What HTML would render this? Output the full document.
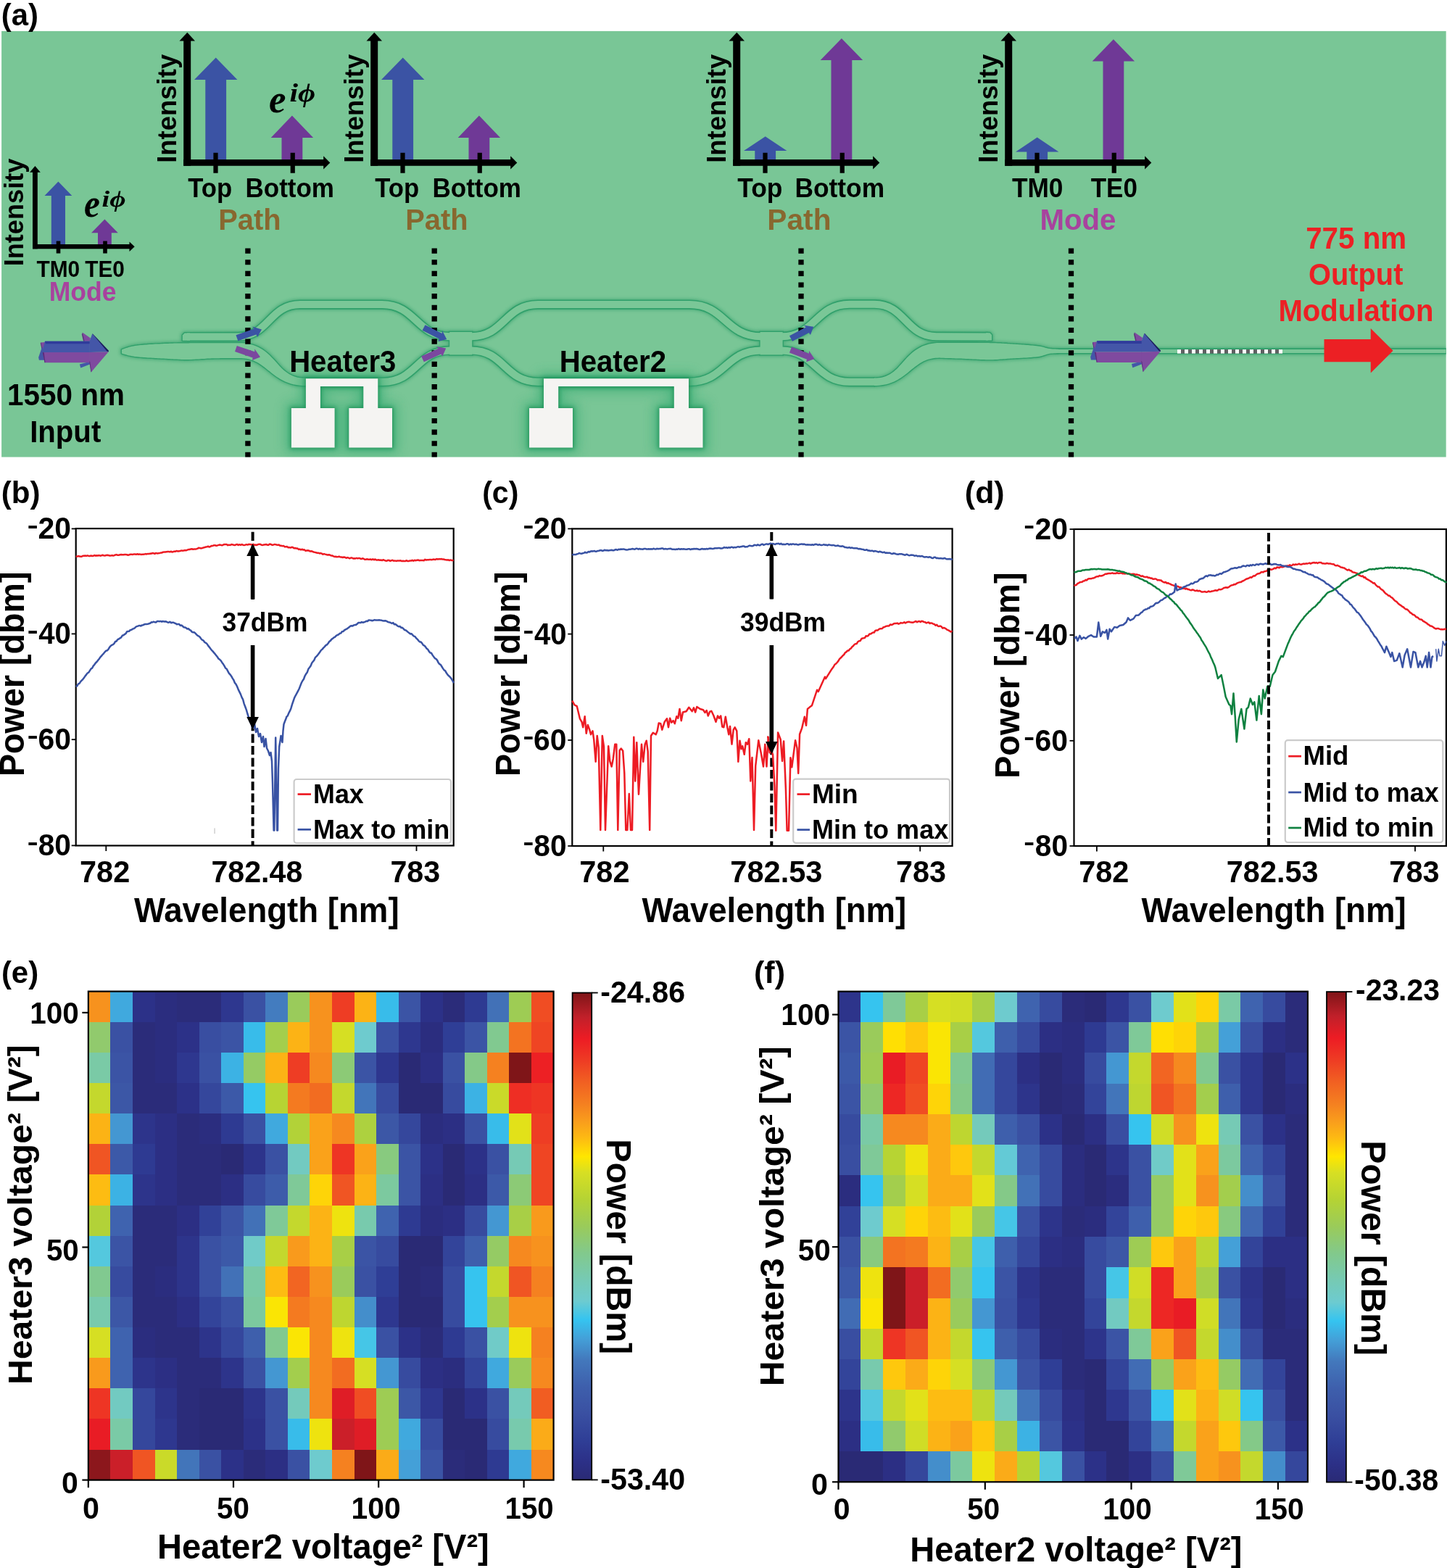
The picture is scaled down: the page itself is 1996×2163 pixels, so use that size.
<!DOCTYPE html>
<html lang="en"><head><meta charset="utf-8"><title>Figure</title>
<style>html,body{margin:0;padding:0;background:#fff}svg{display:block}text{white-space:pre}</style></head>
<body>
<svg width="1996" height="2163" viewBox="0 0 1996 2163">
<defs><linearGradient id="jet" x1="0" y1="1" x2="0" y2="0"><stop offset="0.000" stop-color="#2a2a75"/><stop offset="0.037" stop-color="#2c3087"/><stop offset="0.081" stop-color="#2f3e96"/><stop offset="0.136" stop-color="#3a50a2"/><stop offset="0.191" stop-color="#3e5fac"/><stop offset="0.246" stop-color="#4378bc"/><stop offset="0.290" stop-color="#44a0d8"/><stop offset="0.329" stop-color="#35c4f0"/><stop offset="0.367" stop-color="#6dcbd0"/><stop offset="0.411" stop-color="#76cab4"/><stop offset="0.466" stop-color="#82c98c"/><stop offset="0.521" stop-color="#9acb5a"/><stop offset="0.576" stop-color="#b5d334"/><stop offset="0.631" stop-color="#d7df23"/><stop offset="0.664" stop-color="#ffe600"/><stop offset="0.703" stop-color="#fdb913"/><stop offset="0.736" stop-color="#f99d1c"/><stop offset="0.769" stop-color="#f58220"/><stop offset="0.818" stop-color="#f15f22"/><stop offset="0.862" stop-color="#ee3b24"/><stop offset="0.906" stop-color="#ed1c24"/><stop offset="0.950" stop-color="#c1202a"/><stop offset="1.000" stop-color="#7f1518"/></linearGradient><clipPath id="clipA"><rect x="2.1" y="42.9" width="1992.6" height="587.6"/></clipPath><filter id="wgblur" x="-5%" y="-50%" width="110%" height="200%"><feGaussianBlur stdDeviation="2.2"/></filter><filter id="padblur" x="-20%" y="-20%" width="140%" height="140%"><feGaussianBlur stdDeviation="2.6"/></filter><filter id="padblur2" x="-30%" y="-30%" width="160%" height="160%"><feGaussianBlur stdDeviation="8"/></filter></defs>
<rect width="1996" height="2163" fill="#fff"/>
<g id="panel-a"><rect x="2.1" y="42.9" width="1992.6" height="587.6" fill="#79c696"/>
<text transform="translate(1.81 35.30) scale(0.9968 1)" font-size="42.00" font-family="Liberation Sans, sans-serif" font-weight="bold" fill="#000" >(a)</text>
<g clip-path="url(#clipA)">
<g fill="none" stroke-linejoin="round">
<g filter="url(#wgblur)" opacity="0.6">
<path d="M258 464.6 L328 464.4 C371.00 464.40 371.00 420.10 414.00 420.10 L527 420.1 C574.00 420.10 574.00 464.20 621.00 464.20" stroke="#2c9a66" stroke-width="15.4" stroke-linecap="butt"/>
<path d="M420 526.8 L528 526.8 C574.50 526.80 574.50 483.40 621.00 483.40" stroke="#2c9a66" stroke-width="15.4" stroke-linecap="butt"/>
<path d="M650 464.2 C696.00 464.20 696.00 420.10 742.00 420.10 L951 420.1 C1000.50 420.10 1000.50 464.20 1050.00 464.20" stroke="#2c9a66" stroke-width="15.4" stroke-linecap="butt"/>
<path d="M650 483.4 C696.00 483.40 696.00 526.80 742.00 526.80 L951 526.8 C1000.50 526.80 1000.50 483.40 1050.00 483.40" stroke="#2c9a66" stroke-width="15.4" stroke-linecap="butt"/>
<path d="M1078 464.2 C1125.00 464.20 1125.00 419.70 1172.00 419.70 L1206 419.7 C1249.00 419.70 1249.00 464.20 1292.00 464.20 L1363 464.4" stroke="#2c9a66" stroke-width="15.4" stroke-linecap="butt"/>
<path d="M1078 483.4 C1125.00 483.40 1125.00 526.80 1172.00 526.80 L1207 526.8" stroke="#2c9a66" stroke-width="15.4" stroke-linecap="butt"/>
<path d="M1455 484.4 L1996 484.4" stroke="#2c9a66" stroke-width="10.4" stroke-linecap="butt"/>
<path d="M168.0 482.2 L170.0 481.5 L172.0 480.8 L174.0 480.1 L176.0 479.4 L178.0 478.8 L180.0 478.3 L182.0 477.8 L184.0 477.4 L186.0 477.0 L188.0 476.8 L190.0 476.5 L192.0 476.3 L194.0 476.1 L196.0 475.9 L198.0 475.7 L200.0 475.5 L202.0 475.4 L204.0 475.2 L206.0 475.1 L208.0 475.0 L210.0 474.9 L212.0 474.8 L214.0 474.6 L216.0 474.6 L218.0 474.5 L220.0 474.4 L222.0 474.3 L224.0 474.2 L226.0 474.1 L228.0 474.0 L230.0 473.9 L232.0 473.9 L234.0 473.8 L236.0 473.7 L238.0 473.7 L240.0 473.6 L242.0 473.6 L244.0 473.6 L246.0 473.5 L248.0 473.5 L250.0 473.5 L252.0 473.4 L254.0 473.4 L256.0 473.4 L258.0 473.4 L260.0 473.4 L262.0 473.3 L264.0 473.3 L266.0 473.3 L268.0 473.3 L270.0 473.3 L272.0 473.3 L274.0 473.3 L276.0 473.2 L278.0 473.2 L280.0 473.2 L282.0 473.2 L284.0 473.2 L286.0 473.2 L288.0 473.2 L290.0 473.2 L292.0 473.2 L294.0 473.2 L296.0 473.2 L298.0 473.2 L300.0 473.2 L302.0 473.2 L304.0 473.2 L306.0 473.2 L308.0 473.2 L310.0 473.2 L312.0 473.2 L314.0 473.2 L316.0 473.2 L318.0 473.2 L320.0 473.2 L322.0 473.2 L324.0 473.2 L326.0 473.2 L328.0 473.2 L330.0 473.2 L330.0 473.2 L333.8 473.3 L337.5 473.6 L341.1 474.1 L344.5 474.8 L347.7 475.6 L350.8 476.6 L353.8 477.8 L356.6 479.1 L359.2 480.5 L361.8 482.0 L364.1 483.6 L366.4 485.3 L368.5 487.0 L370.5 488.8 L372.4 490.6 L374.2 492.4 L376.0 494.2 L377.7 496.0 L379.3 497.8 L380.9 499.5 L382.4 501.3 L384.0 503.0 L385.5 504.7 L387.0 506.3 L388.6 507.9 L390.2 509.4 L391.8 510.9 L393.5 512.3 L395.2 513.6 L397.0 514.8 L398.8 516.0 L400.8 517.1 L402.8 518.0 L405.0 518.9 L407.3 519.7 L409.7 520.4 L412.3 520.9 L415.0 521.3 L417.9 521.5 L421.0 521.6 L421.0 532.0 L417.4 531.9 L414.0 531.7 L410.7 531.3 L407.5 530.8 L404.5 530.2 L401.6 529.4 L398.8 528.5 L396.1 527.5 L393.5 526.5 L391.0 525.3 L388.6 524.0 L386.3 522.7 L384.1 521.3 L381.9 519.9 L379.8 518.4 L377.8 516.9 L375.8 515.4 L373.9 513.9 L372.0 512.3 L370.1 510.9 L368.3 509.4 L366.5 508.0 L364.7 506.6 L362.9 505.3 L361.2 504.0 L359.4 502.8 L357.6 501.6 L355.9 500.6 L354.1 499.6 L352.3 498.7 L350.4 497.8 L348.5 497.1 L346.6 496.4 L344.6 495.8 L342.5 495.3 L340.3 494.8 L337.9 494.5 L335.5 494.2 L332.8 494.1 L330.0 494.0 L330.0 494.0 L328.0 494.0 L326.0 494.0 L324.0 494.0 L322.0 494.0 L320.0 494.0 L318.0 494.0 L316.0 494.0 L314.0 494.1 L312.0 494.1 L310.0 494.1 L308.0 494.1 L306.0 494.1 L304.0 494.1 L302.0 494.2 L300.0 494.2 L298.0 494.2 L296.0 494.2 L294.0 494.3 L292.0 494.3 L290.0 494.4 L288.0 494.5 L286.0 494.6 L284.0 494.7 L282.0 494.9 L280.0 495.0 L278.0 495.1 L276.0 495.2 L274.0 495.4 L272.0 495.5 L270.0 495.6 L268.0 495.7 L266.0 495.8 L264.0 495.9 L262.0 495.9 L260.0 496.0 L258.0 496.0 L256.0 496.0 L254.0 496.0 L252.0 495.9 L250.0 495.9 L248.0 495.8 L246.0 495.7 L244.0 495.6 L242.0 495.5 L240.0 495.4 L238.0 495.3 L236.0 495.2 L234.0 495.1 L232.0 495.0 L230.0 494.8 L228.0 494.7 L226.0 494.6 L224.0 494.5 L222.0 494.4 L220.0 494.3 L218.0 494.2 L216.0 494.1 L214.0 494.0 L212.0 493.8 L210.0 493.7 L208.0 493.6 L206.0 493.5 L204.0 493.4 L202.0 493.3 L200.0 493.1 L198.0 493.0 L196.0 492.8 L194.0 492.7 L192.0 492.5 L190.0 492.3 L188.0 492.1 L186.0 491.9 L184.0 491.6 L182.0 491.2 L180.0 490.8 L178.0 490.4 L176.0 489.9 L174.0 489.3 L172.0 488.8 L170.0 488.2 L168.0 487.6 Z" fill="#2c9a66" stroke="#2c9a66" stroke-width="5"/>
<path d="M1206.0 521.6 L1209.0 521.5 L1211.9 521.3 L1214.6 520.9 L1217.1 520.4 L1219.5 519.7 L1221.8 518.9 L1223.9 518.0 L1225.9 517.1 L1227.9 516.0 L1229.7 514.8 L1231.5 513.6 L1233.2 512.2 L1234.8 510.8 L1236.4 509.4 L1238.0 507.9 L1239.5 506.3 L1241.0 504.6 L1242.5 503.0 L1244.1 501.2 L1245.6 499.5 L1247.2 497.7 L1248.8 495.9 L1250.5 494.1 L1252.2 492.3 L1254.0 490.5 L1255.9 488.7 L1257.8 486.9 L1259.9 485.2 L1262.2 483.5 L1264.5 481.9 L1267.0 480.4 L1269.6 478.9 L1272.4 477.6 L1275.3 476.5 L1278.4 475.4 L1281.7 474.6 L1285.0 473.9 L1288.5 473.4 L1292.2 473.1 L1296.0 473.0 L1296.0 473.0 L1298.0 473.0 L1300.0 473.0 L1302.0 473.0 L1304.0 473.0 L1306.0 473.0 L1308.0 473.0 L1310.0 473.0 L1312.0 473.0 L1314.0 473.0 L1316.0 473.0 L1318.0 473.0 L1320.0 473.0 L1322.0 473.0 L1324.0 473.0 L1326.0 473.0 L1328.0 473.0 L1330.0 473.0 L1332.0 473.0 L1334.0 473.0 L1336.0 473.0 L1338.0 473.0 L1340.0 473.0 L1342.0 473.0 L1344.0 473.0 L1346.0 473.0 L1348.0 473.0 L1350.0 473.1 L1352.0 473.1 L1354.0 473.1 L1356.0 473.1 L1358.0 473.1 L1360.0 473.1 L1362.0 473.1 L1364.0 473.1 L1366.0 473.2 L1368.0 473.2 L1370.0 473.2 L1372.0 473.2 L1374.0 473.3 L1376.0 473.4 L1378.0 473.4 L1380.0 473.5 L1382.0 473.7 L1384.0 473.8 L1386.0 473.9 L1388.0 474.0 L1390.0 474.2 L1392.0 474.3 L1394.0 474.4 L1396.0 474.6 L1398.0 474.7 L1400.0 474.8 L1402.0 474.9 L1404.0 475.1 L1406.0 475.2 L1408.0 475.3 L1410.0 475.4 L1412.0 475.6 L1414.0 475.7 L1416.0 475.9 L1418.0 476.0 L1420.0 476.2 L1422.0 476.4 L1424.0 476.6 L1426.0 476.8 L1428.0 477.0 L1430.0 477.2 L1432.0 477.4 L1434.0 477.7 L1436.0 478.1 L1438.0 478.6 L1440.0 479.1 L1442.0 479.7 L1444.0 480.2 L1446.0 480.7 L1448.0 481.0 L1450.0 481.2 L1452.0 481.4 L1454.0 481.5 L1456.0 481.6 L1458.0 481.7 L1460.0 481.7 L1460.0 487.1 L1458.0 487.1 L1456.0 487.2 L1454.0 487.3 L1452.0 487.4 L1450.0 487.5 L1448.0 487.7 L1446.0 488.2 L1444.0 488.7 L1442.0 489.4 L1440.0 490.1 L1438.0 490.7 L1436.0 491.3 L1434.0 491.8 L1432.0 492.1 L1430.0 492.3 L1428.0 492.5 L1426.0 492.6 L1424.0 492.8 L1422.0 493.0 L1420.0 493.1 L1418.0 493.2 L1416.0 493.4 L1414.0 493.5 L1412.0 493.6 L1410.0 493.7 L1408.0 493.8 L1406.0 493.9 L1404.0 494.0 L1402.0 494.1 L1400.0 494.2 L1398.0 494.3 L1396.0 494.4 L1394.0 494.6 L1392.0 494.7 L1390.0 494.8 L1388.0 495.0 L1386.0 495.2 L1384.0 495.3 L1382.0 495.5 L1380.0 495.6 L1378.0 495.7 L1376.0 495.9 L1374.0 496.0 L1372.0 496.1 L1370.0 496.2 L1368.0 496.2 L1366.0 496.2 L1364.0 496.2 L1362.0 496.2 L1360.0 496.2 L1358.0 496.1 L1356.0 496.1 L1354.0 496.0 L1352.0 495.9 L1350.0 495.8 L1348.0 495.7 L1346.0 495.6 L1344.0 495.5 L1342.0 495.4 L1340.0 495.3 L1338.0 495.2 L1336.0 495.1 L1334.0 495.0 L1332.0 494.9 L1330.0 494.8 L1328.0 494.7 L1326.0 494.6 L1324.0 494.6 L1322.0 494.5 L1320.0 494.4 L1318.0 494.4 L1316.0 494.3 L1314.0 494.2 L1312.0 494.1 L1310.0 494.1 L1308.0 494.0 L1306.0 493.9 L1304.0 493.9 L1302.0 493.8 L1300.0 493.7 L1298.0 493.7 L1296.0 493.6 L1296.0 493.6 L1293.2 493.7 L1290.6 493.8 L1288.2 494.1 L1285.9 494.5 L1283.7 494.9 L1281.6 495.4 L1279.6 496.0 L1277.7 496.7 L1275.9 497.5 L1274.0 498.3 L1272.3 499.2 L1270.5 500.2 L1268.7 501.3 L1267.0 502.5 L1265.3 503.7 L1263.5 505.0 L1261.7 506.3 L1260.0 507.7 L1258.2 509.1 L1256.4 510.6 L1254.6 512.1 L1252.7 513.7 L1250.8 515.2 L1248.8 516.7 L1246.8 518.2 L1244.7 519.7 L1242.6 521.2 L1240.4 522.6 L1238.1 523.9 L1235.7 525.2 L1233.3 526.4 L1230.7 527.5 L1228.0 528.5 L1225.2 529.4 L1222.4 530.2 L1219.3 530.8 L1216.2 531.3 L1213.0 531.7 L1209.5 531.9 L1206.0 532.0 Z" fill="#2c9a66" stroke="#2c9a66" stroke-width="5"/>
<path d="M251.8 462.5 L254.6 459.4 L262 459.4 L262 469.8 L251.8 469.8 Z" fill="#2c9a66" stroke="#2c9a66" stroke-width="5"/>
<path d="M1360 459.2 L1365.4 459.2 L1368 462 L1368 469.6 L1360 469.6 Z" fill="#2c9a66" stroke="#2c9a66" stroke-width="5"/>
<rect x="617.7" y="455.5" width="36" height="36.4" fill="#2c9a66"/>
<rect x="1046.1" y="455.5" width="36" height="36.4" fill="#2c9a66"/>
</g>
<path d="M258 464.6 L328 464.4 C371.00 464.40 371.00 420.10 414.00 420.10 L527 420.1 C574.00 420.10 574.00 464.20 621.00 464.20" stroke="#30a06b" stroke-width="13.2" stroke-linecap="butt"/>
<path d="M420 526.8 L528 526.8 C574.50 526.80 574.50 483.40 621.00 483.40" stroke="#30a06b" stroke-width="13.2" stroke-linecap="butt"/>
<path d="M650 464.2 C696.00 464.20 696.00 420.10 742.00 420.10 L951 420.1 C1000.50 420.10 1000.50 464.20 1050.00 464.20" stroke="#30a06b" stroke-width="13.2" stroke-linecap="butt"/>
<path d="M650 483.4 C696.00 483.40 696.00 526.80 742.00 526.80 L951 526.8 C1000.50 526.80 1000.50 483.40 1050.00 483.40" stroke="#30a06b" stroke-width="13.2" stroke-linecap="butt"/>
<path d="M1078 464.2 C1125.00 464.20 1125.00 419.70 1172.00 419.70 L1206 419.7 C1249.00 419.70 1249.00 464.20 1292.00 464.20 L1363 464.4" stroke="#30a06b" stroke-width="13.2" stroke-linecap="butt"/>
<path d="M1078 483.4 C1125.00 483.40 1125.00 526.80 1172.00 526.80 L1207 526.8" stroke="#30a06b" stroke-width="13.2" stroke-linecap="butt"/>
<path d="M1455 484.4 L1996 484.4" stroke="#30a06b" stroke-width="8.2" stroke-linecap="butt"/>
<path d="M168.0 482.2 L170.0 481.5 L172.0 480.8 L174.0 480.1 L176.0 479.4 L178.0 478.8 L180.0 478.3 L182.0 477.8 L184.0 477.4 L186.0 477.0 L188.0 476.8 L190.0 476.5 L192.0 476.3 L194.0 476.1 L196.0 475.9 L198.0 475.7 L200.0 475.5 L202.0 475.4 L204.0 475.2 L206.0 475.1 L208.0 475.0 L210.0 474.9 L212.0 474.8 L214.0 474.6 L216.0 474.6 L218.0 474.5 L220.0 474.4 L222.0 474.3 L224.0 474.2 L226.0 474.1 L228.0 474.0 L230.0 473.9 L232.0 473.9 L234.0 473.8 L236.0 473.7 L238.0 473.7 L240.0 473.6 L242.0 473.6 L244.0 473.6 L246.0 473.5 L248.0 473.5 L250.0 473.5 L252.0 473.4 L254.0 473.4 L256.0 473.4 L258.0 473.4 L260.0 473.4 L262.0 473.3 L264.0 473.3 L266.0 473.3 L268.0 473.3 L270.0 473.3 L272.0 473.3 L274.0 473.3 L276.0 473.2 L278.0 473.2 L280.0 473.2 L282.0 473.2 L284.0 473.2 L286.0 473.2 L288.0 473.2 L290.0 473.2 L292.0 473.2 L294.0 473.2 L296.0 473.2 L298.0 473.2 L300.0 473.2 L302.0 473.2 L304.0 473.2 L306.0 473.2 L308.0 473.2 L310.0 473.2 L312.0 473.2 L314.0 473.2 L316.0 473.2 L318.0 473.2 L320.0 473.2 L322.0 473.2 L324.0 473.2 L326.0 473.2 L328.0 473.2 L330.0 473.2 L330.0 473.2 L333.8 473.3 L337.5 473.6 L341.1 474.1 L344.5 474.8 L347.7 475.6 L350.8 476.6 L353.8 477.8 L356.6 479.1 L359.2 480.5 L361.8 482.0 L364.1 483.6 L366.4 485.3 L368.5 487.0 L370.5 488.8 L372.4 490.6 L374.2 492.4 L376.0 494.2 L377.7 496.0 L379.3 497.8 L380.9 499.5 L382.4 501.3 L384.0 503.0 L385.5 504.7 L387.0 506.3 L388.6 507.9 L390.2 509.4 L391.8 510.9 L393.5 512.3 L395.2 513.6 L397.0 514.8 L398.8 516.0 L400.8 517.1 L402.8 518.0 L405.0 518.9 L407.3 519.7 L409.7 520.4 L412.3 520.9 L415.0 521.3 L417.9 521.5 L421.0 521.6 L421.0 532.0 L417.4 531.9 L414.0 531.7 L410.7 531.3 L407.5 530.8 L404.5 530.2 L401.6 529.4 L398.8 528.5 L396.1 527.5 L393.5 526.5 L391.0 525.3 L388.6 524.0 L386.3 522.7 L384.1 521.3 L381.9 519.9 L379.8 518.4 L377.8 516.9 L375.8 515.4 L373.9 513.9 L372.0 512.3 L370.1 510.9 L368.3 509.4 L366.5 508.0 L364.7 506.6 L362.9 505.3 L361.2 504.0 L359.4 502.8 L357.6 501.6 L355.9 500.6 L354.1 499.6 L352.3 498.7 L350.4 497.8 L348.5 497.1 L346.6 496.4 L344.6 495.8 L342.5 495.3 L340.3 494.8 L337.9 494.5 L335.5 494.2 L332.8 494.1 L330.0 494.0 L330.0 494.0 L328.0 494.0 L326.0 494.0 L324.0 494.0 L322.0 494.0 L320.0 494.0 L318.0 494.0 L316.0 494.0 L314.0 494.1 L312.0 494.1 L310.0 494.1 L308.0 494.1 L306.0 494.1 L304.0 494.1 L302.0 494.2 L300.0 494.2 L298.0 494.2 L296.0 494.2 L294.0 494.3 L292.0 494.3 L290.0 494.4 L288.0 494.5 L286.0 494.6 L284.0 494.7 L282.0 494.9 L280.0 495.0 L278.0 495.1 L276.0 495.2 L274.0 495.4 L272.0 495.5 L270.0 495.6 L268.0 495.7 L266.0 495.8 L264.0 495.9 L262.0 495.9 L260.0 496.0 L258.0 496.0 L256.0 496.0 L254.0 496.0 L252.0 495.9 L250.0 495.9 L248.0 495.8 L246.0 495.7 L244.0 495.6 L242.0 495.5 L240.0 495.4 L238.0 495.3 L236.0 495.2 L234.0 495.1 L232.0 495.0 L230.0 494.8 L228.0 494.7 L226.0 494.6 L224.0 494.5 L222.0 494.4 L220.0 494.3 L218.0 494.2 L216.0 494.1 L214.0 494.0 L212.0 493.8 L210.0 493.7 L208.0 493.6 L206.0 493.5 L204.0 493.4 L202.0 493.3 L200.0 493.1 L198.0 493.0 L196.0 492.8 L194.0 492.7 L192.0 492.5 L190.0 492.3 L188.0 492.1 L186.0 491.9 L184.0 491.6 L182.0 491.2 L180.0 490.8 L178.0 490.4 L176.0 489.9 L174.0 489.3 L172.0 488.8 L170.0 488.2 L168.0 487.6 Z" fill="#30a06b" stroke="#30a06b" stroke-width="2.8"/>
<path d="M1206.0 521.6 L1209.0 521.5 L1211.9 521.3 L1214.6 520.9 L1217.1 520.4 L1219.5 519.7 L1221.8 518.9 L1223.9 518.0 L1225.9 517.1 L1227.9 516.0 L1229.7 514.8 L1231.5 513.6 L1233.2 512.2 L1234.8 510.8 L1236.4 509.4 L1238.0 507.9 L1239.5 506.3 L1241.0 504.6 L1242.5 503.0 L1244.1 501.2 L1245.6 499.5 L1247.2 497.7 L1248.8 495.9 L1250.5 494.1 L1252.2 492.3 L1254.0 490.5 L1255.9 488.7 L1257.8 486.9 L1259.9 485.2 L1262.2 483.5 L1264.5 481.9 L1267.0 480.4 L1269.6 478.9 L1272.4 477.6 L1275.3 476.5 L1278.4 475.4 L1281.7 474.6 L1285.0 473.9 L1288.5 473.4 L1292.2 473.1 L1296.0 473.0 L1296.0 473.0 L1298.0 473.0 L1300.0 473.0 L1302.0 473.0 L1304.0 473.0 L1306.0 473.0 L1308.0 473.0 L1310.0 473.0 L1312.0 473.0 L1314.0 473.0 L1316.0 473.0 L1318.0 473.0 L1320.0 473.0 L1322.0 473.0 L1324.0 473.0 L1326.0 473.0 L1328.0 473.0 L1330.0 473.0 L1332.0 473.0 L1334.0 473.0 L1336.0 473.0 L1338.0 473.0 L1340.0 473.0 L1342.0 473.0 L1344.0 473.0 L1346.0 473.0 L1348.0 473.0 L1350.0 473.1 L1352.0 473.1 L1354.0 473.1 L1356.0 473.1 L1358.0 473.1 L1360.0 473.1 L1362.0 473.1 L1364.0 473.1 L1366.0 473.2 L1368.0 473.2 L1370.0 473.2 L1372.0 473.2 L1374.0 473.3 L1376.0 473.4 L1378.0 473.4 L1380.0 473.5 L1382.0 473.7 L1384.0 473.8 L1386.0 473.9 L1388.0 474.0 L1390.0 474.2 L1392.0 474.3 L1394.0 474.4 L1396.0 474.6 L1398.0 474.7 L1400.0 474.8 L1402.0 474.9 L1404.0 475.1 L1406.0 475.2 L1408.0 475.3 L1410.0 475.4 L1412.0 475.6 L1414.0 475.7 L1416.0 475.9 L1418.0 476.0 L1420.0 476.2 L1422.0 476.4 L1424.0 476.6 L1426.0 476.8 L1428.0 477.0 L1430.0 477.2 L1432.0 477.4 L1434.0 477.7 L1436.0 478.1 L1438.0 478.6 L1440.0 479.1 L1442.0 479.7 L1444.0 480.2 L1446.0 480.7 L1448.0 481.0 L1450.0 481.2 L1452.0 481.4 L1454.0 481.5 L1456.0 481.6 L1458.0 481.7 L1460.0 481.7 L1460.0 487.1 L1458.0 487.1 L1456.0 487.2 L1454.0 487.3 L1452.0 487.4 L1450.0 487.5 L1448.0 487.7 L1446.0 488.2 L1444.0 488.7 L1442.0 489.4 L1440.0 490.1 L1438.0 490.7 L1436.0 491.3 L1434.0 491.8 L1432.0 492.1 L1430.0 492.3 L1428.0 492.5 L1426.0 492.6 L1424.0 492.8 L1422.0 493.0 L1420.0 493.1 L1418.0 493.2 L1416.0 493.4 L1414.0 493.5 L1412.0 493.6 L1410.0 493.7 L1408.0 493.8 L1406.0 493.9 L1404.0 494.0 L1402.0 494.1 L1400.0 494.2 L1398.0 494.3 L1396.0 494.4 L1394.0 494.6 L1392.0 494.7 L1390.0 494.8 L1388.0 495.0 L1386.0 495.2 L1384.0 495.3 L1382.0 495.5 L1380.0 495.6 L1378.0 495.7 L1376.0 495.9 L1374.0 496.0 L1372.0 496.1 L1370.0 496.2 L1368.0 496.2 L1366.0 496.2 L1364.0 496.2 L1362.0 496.2 L1360.0 496.2 L1358.0 496.1 L1356.0 496.1 L1354.0 496.0 L1352.0 495.9 L1350.0 495.8 L1348.0 495.7 L1346.0 495.6 L1344.0 495.5 L1342.0 495.4 L1340.0 495.3 L1338.0 495.2 L1336.0 495.1 L1334.0 495.0 L1332.0 494.9 L1330.0 494.8 L1328.0 494.7 L1326.0 494.6 L1324.0 494.6 L1322.0 494.5 L1320.0 494.4 L1318.0 494.4 L1316.0 494.3 L1314.0 494.2 L1312.0 494.1 L1310.0 494.1 L1308.0 494.0 L1306.0 493.9 L1304.0 493.9 L1302.0 493.8 L1300.0 493.7 L1298.0 493.7 L1296.0 493.6 L1296.0 493.6 L1293.2 493.7 L1290.6 493.8 L1288.2 494.1 L1285.9 494.5 L1283.7 494.9 L1281.6 495.4 L1279.6 496.0 L1277.7 496.7 L1275.9 497.5 L1274.0 498.3 L1272.3 499.2 L1270.5 500.2 L1268.7 501.3 L1267.0 502.5 L1265.3 503.7 L1263.5 505.0 L1261.7 506.3 L1260.0 507.7 L1258.2 509.1 L1256.4 510.6 L1254.6 512.1 L1252.7 513.7 L1250.8 515.2 L1248.8 516.7 L1246.8 518.2 L1244.7 519.7 L1242.6 521.2 L1240.4 522.6 L1238.1 523.9 L1235.7 525.2 L1233.3 526.4 L1230.7 527.5 L1228.0 528.5 L1225.2 529.4 L1222.4 530.2 L1219.3 530.8 L1216.2 531.3 L1213.0 531.7 L1209.5 531.9 L1206.0 532.0 Z" fill="#30a06b" stroke="#30a06b" stroke-width="2.8"/>
<path d="M251.8 462.5 L254.6 459.4 L262 459.4 L262 469.8 L251.8 469.8 Z" fill="#30a06b" stroke="#30a06b" stroke-width="2.8"/>
<path d="M1360 459.2 L1365.4 459.2 L1368 462 L1368 469.6 L1360 469.6 Z" fill="#30a06b" stroke="#30a06b" stroke-width="2.8"/>
<rect x="618.8000000000001" y="456.6" width="33.8" height="34.199999999999996" fill="#30a06b"/>
<rect x="1047.1999999999998" y="456.6" width="33.8" height="34.199999999999996" fill="#30a06b"/>
<path d="M258 464.6 L328 464.4 C371.00 464.40 371.00 420.10 414.00 420.10 L527 420.1 C574.00 420.10 574.00 464.20 621.00 464.20" stroke="#7ac797" stroke-width="10.0" stroke-linecap="butt"/>
<path d="M420 526.8 L528 526.8 C574.50 526.80 574.50 483.40 621.00 483.40" stroke="#7ac797" stroke-width="10.0" stroke-linecap="butt"/>
<path d="M650 464.2 C696.00 464.20 696.00 420.10 742.00 420.10 L951 420.1 C1000.50 420.10 1000.50 464.20 1050.00 464.20" stroke="#7ac797" stroke-width="10.0" stroke-linecap="butt"/>
<path d="M650 483.4 C696.00 483.40 696.00 526.80 742.00 526.80 L951 526.8 C1000.50 526.80 1000.50 483.40 1050.00 483.40" stroke="#7ac797" stroke-width="10.0" stroke-linecap="butt"/>
<path d="M1078 464.2 C1125.00 464.20 1125.00 419.70 1172.00 419.70 L1206 419.7 C1249.00 419.70 1249.00 464.20 1292.00 464.20 L1363 464.4" stroke="#7ac797" stroke-width="10.0" stroke-linecap="butt"/>
<path d="M1078 483.4 C1125.00 483.40 1125.00 526.80 1172.00 526.80 L1207 526.8" stroke="#7ac797" stroke-width="10.0" stroke-linecap="butt"/>
<path d="M1455 484.4 L1996 484.4" stroke="#7ac797" stroke-width="5.0" stroke-linecap="butt"/>
<path d="M168.0 482.2 L170.0 481.5 L172.0 480.8 L174.0 480.1 L176.0 479.4 L178.0 478.8 L180.0 478.3 L182.0 477.8 L184.0 477.4 L186.0 477.0 L188.0 476.8 L190.0 476.5 L192.0 476.3 L194.0 476.1 L196.0 475.9 L198.0 475.7 L200.0 475.5 L202.0 475.4 L204.0 475.2 L206.0 475.1 L208.0 475.0 L210.0 474.9 L212.0 474.8 L214.0 474.6 L216.0 474.6 L218.0 474.5 L220.0 474.4 L222.0 474.3 L224.0 474.2 L226.0 474.1 L228.0 474.0 L230.0 473.9 L232.0 473.9 L234.0 473.8 L236.0 473.7 L238.0 473.7 L240.0 473.6 L242.0 473.6 L244.0 473.6 L246.0 473.5 L248.0 473.5 L250.0 473.5 L252.0 473.4 L254.0 473.4 L256.0 473.4 L258.0 473.4 L260.0 473.4 L262.0 473.3 L264.0 473.3 L266.0 473.3 L268.0 473.3 L270.0 473.3 L272.0 473.3 L274.0 473.3 L276.0 473.2 L278.0 473.2 L280.0 473.2 L282.0 473.2 L284.0 473.2 L286.0 473.2 L288.0 473.2 L290.0 473.2 L292.0 473.2 L294.0 473.2 L296.0 473.2 L298.0 473.2 L300.0 473.2 L302.0 473.2 L304.0 473.2 L306.0 473.2 L308.0 473.2 L310.0 473.2 L312.0 473.2 L314.0 473.2 L316.0 473.2 L318.0 473.2 L320.0 473.2 L322.0 473.2 L324.0 473.2 L326.0 473.2 L328.0 473.2 L330.0 473.2 L330.0 473.2 L333.8 473.3 L337.5 473.6 L341.1 474.1 L344.5 474.8 L347.7 475.6 L350.8 476.6 L353.8 477.8 L356.6 479.1 L359.2 480.5 L361.8 482.0 L364.1 483.6 L366.4 485.3 L368.5 487.0 L370.5 488.8 L372.4 490.6 L374.2 492.4 L376.0 494.2 L377.7 496.0 L379.3 497.8 L380.9 499.5 L382.4 501.3 L384.0 503.0 L385.5 504.7 L387.0 506.3 L388.6 507.9 L390.2 509.4 L391.8 510.9 L393.5 512.3 L395.2 513.6 L397.0 514.8 L398.8 516.0 L400.8 517.1 L402.8 518.0 L405.0 518.9 L407.3 519.7 L409.7 520.4 L412.3 520.9 L415.0 521.3 L417.9 521.5 L421.0 521.6 L421.0 532.0 L417.4 531.9 L414.0 531.7 L410.7 531.3 L407.5 530.8 L404.5 530.2 L401.6 529.4 L398.8 528.5 L396.1 527.5 L393.5 526.5 L391.0 525.3 L388.6 524.0 L386.3 522.7 L384.1 521.3 L381.9 519.9 L379.8 518.4 L377.8 516.9 L375.8 515.4 L373.9 513.9 L372.0 512.3 L370.1 510.9 L368.3 509.4 L366.5 508.0 L364.7 506.6 L362.9 505.3 L361.2 504.0 L359.4 502.8 L357.6 501.6 L355.9 500.6 L354.1 499.6 L352.3 498.7 L350.4 497.8 L348.5 497.1 L346.6 496.4 L344.6 495.8 L342.5 495.3 L340.3 494.8 L337.9 494.5 L335.5 494.2 L332.8 494.1 L330.0 494.0 L330.0 494.0 L328.0 494.0 L326.0 494.0 L324.0 494.0 L322.0 494.0 L320.0 494.0 L318.0 494.0 L316.0 494.0 L314.0 494.1 L312.0 494.1 L310.0 494.1 L308.0 494.1 L306.0 494.1 L304.0 494.1 L302.0 494.2 L300.0 494.2 L298.0 494.2 L296.0 494.2 L294.0 494.3 L292.0 494.3 L290.0 494.4 L288.0 494.5 L286.0 494.6 L284.0 494.7 L282.0 494.9 L280.0 495.0 L278.0 495.1 L276.0 495.2 L274.0 495.4 L272.0 495.5 L270.0 495.6 L268.0 495.7 L266.0 495.8 L264.0 495.9 L262.0 495.9 L260.0 496.0 L258.0 496.0 L256.0 496.0 L254.0 496.0 L252.0 495.9 L250.0 495.9 L248.0 495.8 L246.0 495.7 L244.0 495.6 L242.0 495.5 L240.0 495.4 L238.0 495.3 L236.0 495.2 L234.0 495.1 L232.0 495.0 L230.0 494.8 L228.0 494.7 L226.0 494.6 L224.0 494.5 L222.0 494.4 L220.0 494.3 L218.0 494.2 L216.0 494.1 L214.0 494.0 L212.0 493.8 L210.0 493.7 L208.0 493.6 L206.0 493.5 L204.0 493.4 L202.0 493.3 L200.0 493.1 L198.0 493.0 L196.0 492.8 L194.0 492.7 L192.0 492.5 L190.0 492.3 L188.0 492.1 L186.0 491.9 L184.0 491.6 L182.0 491.2 L180.0 490.8 L178.0 490.4 L176.0 489.9 L174.0 489.3 L172.0 488.8 L170.0 488.2 L168.0 487.6 Z" fill="#7ac797"/>
<path d="M1206.0 521.6 L1209.0 521.5 L1211.9 521.3 L1214.6 520.9 L1217.1 520.4 L1219.5 519.7 L1221.8 518.9 L1223.9 518.0 L1225.9 517.1 L1227.9 516.0 L1229.7 514.8 L1231.5 513.6 L1233.2 512.2 L1234.8 510.8 L1236.4 509.4 L1238.0 507.9 L1239.5 506.3 L1241.0 504.6 L1242.5 503.0 L1244.1 501.2 L1245.6 499.5 L1247.2 497.7 L1248.8 495.9 L1250.5 494.1 L1252.2 492.3 L1254.0 490.5 L1255.9 488.7 L1257.8 486.9 L1259.9 485.2 L1262.2 483.5 L1264.5 481.9 L1267.0 480.4 L1269.6 478.9 L1272.4 477.6 L1275.3 476.5 L1278.4 475.4 L1281.7 474.6 L1285.0 473.9 L1288.5 473.4 L1292.2 473.1 L1296.0 473.0 L1296.0 473.0 L1298.0 473.0 L1300.0 473.0 L1302.0 473.0 L1304.0 473.0 L1306.0 473.0 L1308.0 473.0 L1310.0 473.0 L1312.0 473.0 L1314.0 473.0 L1316.0 473.0 L1318.0 473.0 L1320.0 473.0 L1322.0 473.0 L1324.0 473.0 L1326.0 473.0 L1328.0 473.0 L1330.0 473.0 L1332.0 473.0 L1334.0 473.0 L1336.0 473.0 L1338.0 473.0 L1340.0 473.0 L1342.0 473.0 L1344.0 473.0 L1346.0 473.0 L1348.0 473.0 L1350.0 473.1 L1352.0 473.1 L1354.0 473.1 L1356.0 473.1 L1358.0 473.1 L1360.0 473.1 L1362.0 473.1 L1364.0 473.1 L1366.0 473.2 L1368.0 473.2 L1370.0 473.2 L1372.0 473.2 L1374.0 473.3 L1376.0 473.4 L1378.0 473.4 L1380.0 473.5 L1382.0 473.7 L1384.0 473.8 L1386.0 473.9 L1388.0 474.0 L1390.0 474.2 L1392.0 474.3 L1394.0 474.4 L1396.0 474.6 L1398.0 474.7 L1400.0 474.8 L1402.0 474.9 L1404.0 475.1 L1406.0 475.2 L1408.0 475.3 L1410.0 475.4 L1412.0 475.6 L1414.0 475.7 L1416.0 475.9 L1418.0 476.0 L1420.0 476.2 L1422.0 476.4 L1424.0 476.6 L1426.0 476.8 L1428.0 477.0 L1430.0 477.2 L1432.0 477.4 L1434.0 477.7 L1436.0 478.1 L1438.0 478.6 L1440.0 479.1 L1442.0 479.7 L1444.0 480.2 L1446.0 480.7 L1448.0 481.0 L1450.0 481.2 L1452.0 481.4 L1454.0 481.5 L1456.0 481.6 L1458.0 481.7 L1460.0 481.7 L1460.0 487.1 L1458.0 487.1 L1456.0 487.2 L1454.0 487.3 L1452.0 487.4 L1450.0 487.5 L1448.0 487.7 L1446.0 488.2 L1444.0 488.7 L1442.0 489.4 L1440.0 490.1 L1438.0 490.7 L1436.0 491.3 L1434.0 491.8 L1432.0 492.1 L1430.0 492.3 L1428.0 492.5 L1426.0 492.6 L1424.0 492.8 L1422.0 493.0 L1420.0 493.1 L1418.0 493.2 L1416.0 493.4 L1414.0 493.5 L1412.0 493.6 L1410.0 493.7 L1408.0 493.8 L1406.0 493.9 L1404.0 494.0 L1402.0 494.1 L1400.0 494.2 L1398.0 494.3 L1396.0 494.4 L1394.0 494.6 L1392.0 494.7 L1390.0 494.8 L1388.0 495.0 L1386.0 495.2 L1384.0 495.3 L1382.0 495.5 L1380.0 495.6 L1378.0 495.7 L1376.0 495.9 L1374.0 496.0 L1372.0 496.1 L1370.0 496.2 L1368.0 496.2 L1366.0 496.2 L1364.0 496.2 L1362.0 496.2 L1360.0 496.2 L1358.0 496.1 L1356.0 496.1 L1354.0 496.0 L1352.0 495.9 L1350.0 495.8 L1348.0 495.7 L1346.0 495.6 L1344.0 495.5 L1342.0 495.4 L1340.0 495.3 L1338.0 495.2 L1336.0 495.1 L1334.0 495.0 L1332.0 494.9 L1330.0 494.8 L1328.0 494.7 L1326.0 494.6 L1324.0 494.6 L1322.0 494.5 L1320.0 494.4 L1318.0 494.4 L1316.0 494.3 L1314.0 494.2 L1312.0 494.1 L1310.0 494.1 L1308.0 494.0 L1306.0 493.9 L1304.0 493.9 L1302.0 493.8 L1300.0 493.7 L1298.0 493.7 L1296.0 493.6 L1296.0 493.6 L1293.2 493.7 L1290.6 493.8 L1288.2 494.1 L1285.9 494.5 L1283.7 494.9 L1281.6 495.4 L1279.6 496.0 L1277.7 496.7 L1275.9 497.5 L1274.0 498.3 L1272.3 499.2 L1270.5 500.2 L1268.7 501.3 L1267.0 502.5 L1265.3 503.7 L1263.5 505.0 L1261.7 506.3 L1260.0 507.7 L1258.2 509.1 L1256.4 510.6 L1254.6 512.1 L1252.7 513.7 L1250.8 515.2 L1248.8 516.7 L1246.8 518.2 L1244.7 519.7 L1242.6 521.2 L1240.4 522.6 L1238.1 523.9 L1235.7 525.2 L1233.3 526.4 L1230.7 527.5 L1228.0 528.5 L1225.2 529.4 L1222.4 530.2 L1219.3 530.8 L1216.2 531.3 L1213.0 531.7 L1209.5 531.9 L1206.0 532.0 Z" fill="#7ac797"/>
<path d="M251.8 462.5 L254.6 459.4 L262 459.4 L262 469.8 L251.8 469.8 Z" fill="#7ac797"/>
<path d="M1360 459.2 L1365.4 459.2 L1368 462 L1368 469.6 L1360 469.6 Z" fill="#7ac797"/>
<rect x="620.2" y="458" width="31" height="31.4" fill="#7ac797"/>
<rect x="1048.6" y="458" width="31" height="31.4" fill="#7ac797"/>
</g>
<path d="M421.9 522.2 H521.3 V563.1 H541.0 V617.5 H481.3 V563.1 H501.29999999999995 V533.1 H441.9 V563.1 H461.59999999999997 V617.5 H401.9 V563.1 H421.9 Z" fill="#2fa96f" stroke="#2fa96f" stroke-width="14" opacity="0.62" filter="url(#padblur2)"/><path d="M421.9 522.2 H521.3 V563.1 H541.0 V617.5 H481.3 V563.1 H501.29999999999995 V533.1 H441.9 V563.1 H461.59999999999997 V617.5 H401.9 V563.1 H421.9 Z" fill="#1f9259" stroke="#1f9259" stroke-width="3" opacity="0.9" filter="url(#padblur)"/><path d="M421.9 522.2 H521.3 V563.1 H541.0 V617.5 H481.3 V563.1 H501.29999999999995 V533.1 H441.9 V563.1 H461.59999999999997 V617.5 H401.9 V563.1 H421.9 Z" fill="#f5f4f2"/>
<path d="M750 522.2 H950 V563.1 H969.5 V617.5 H909.5 V563.1 H929.8 V533.1 H770.2 V563.1 H790 V617.5 H730 V563.1 H750 Z" fill="#2fa96f" stroke="#2fa96f" stroke-width="14" opacity="0.62" filter="url(#padblur2)"/><path d="M750 522.2 H950 V563.1 H969.5 V617.5 H909.5 V563.1 H929.8 V533.1 H770.2 V563.1 H790 V617.5 H730 V563.1 H750 Z" fill="#1f9259" stroke="#1f9259" stroke-width="3" opacity="0.9" filter="url(#padblur)"/><path d="M750 522.2 H950 V563.1 H969.5 V617.5 H909.5 V563.1 H929.8 V533.1 H770.2 V563.1 H790 V617.5 H730 V563.1 H750 Z" fill="#f5f4f2"/>
</g>
<text transform="translate(399.14 512.60) scale(0.9623 1)" font-size="41.70" font-family="Liberation Sans, sans-serif" font-weight="bold" fill="#000" >Heater3</text>
<text transform="translate(771.64 512.60) scale(0.9636 1)" font-size="41.70" font-family="Liberation Sans, sans-serif" font-weight="bold" fill="#000" >Heater2</text>
<line x1="341.9" y1="342.6" x2="341.9" y2="630.4" stroke="#000" stroke-width="7.3" stroke-dasharray="7.1 8.525"/>
<line x1="599.2" y1="342.6" x2="599.2" y2="630.4" stroke="#000" stroke-width="7.3" stroke-dasharray="7.1 8.525"/>
<line x1="1105" y1="342.6" x2="1105" y2="630.4" stroke="#000" stroke-width="7.3" stroke-dasharray="7.1 8.525"/>
<line x1="1477.5" y1="342.6" x2="1477.5" y2="630.4" stroke="#000" stroke-width="7.3" stroke-dasharray="7.1 8.525"/>
<polygon points="70.80,339.00 70.80,270.00 61.50,270.00 80.40,250.50 99.30,270.00 90.00,270.00 90.00,339.00" fill="#3b53a4"/>
<polygon points="135.00,339.00 135.00,321.20 126.00,321.20 144.40,302.50 162.80,321.20 153.80,321.20 153.80,339.00" fill="#6f3996"/>
<rect x="45" y="236" width="6.8" height="107.3" fill="#000"/>
<polygon points="41,237.8 48.4,229 55.8,237.8" fill="#000"/>
<rect x="45" y="337" width="134.5" height="6.3" fill="#000"/>
<polygon points="178.5,333.6 185.7,340.2 178.5,347" fill="#000"/>
<rect x="77.70" y="332.5" width="5.6" height="17" fill="#000"/>
<rect x="142.20" y="332.5" width="5.6" height="17" fill="#000"/>
<text transform="translate(32.00 367.35) rotate(-90) scale(0.9577 1)" font-size="37.80" font-family="Liberation Sans, sans-serif" font-weight="bold" fill="#000">Intensity</text>
<text transform="translate(50.45 382.00) scale(0.9574 1)" font-size="31.20" font-family="Liberation Sans, sans-serif" font-weight="bold" fill="#000" >TM0</text>
<text transform="translate(117.20 382.00) scale(0.9562 1)" font-size="31.20" font-family="Liberation Sans, sans-serif" font-weight="bold" fill="#000" >TE0</text>
<text transform="translate(67.69 414.50) scale(0.9715 1)" font-size="36.60" font-family="Liberation Sans, sans-serif" font-weight="bold" fill="#a8429e" >Mode</text>
<text transform="translate(116.07 298.60) scale(0.9142 1)" font-size="54.00" font-family="Liberation Serif, serif" font-weight="bold" font-style="italic" fill="#000" >e</text>
<text transform="translate(140.54 284.50) scale(1.2422 1)" font-size="31.00" font-family="Liberation Serif, serif" font-weight="bold" font-style="italic" fill="#000" >iϕ</text>
<polygon points="283.30,222.00 283.30,110.00 268.00,110.00 297.70,79.50 327.40,110.00 312.10,110.00 312.10,222.00" fill="#3b53a4"/>
<polygon points="388.50,222.00 388.50,190.00 373.70,190.00 402.90,159.50 432.10,190.00 417.30,190.00 417.30,222.00" fill="#6f3996"/>
<rect x="253.20" y="55" width="10.0" height="173.7" fill="#000"/>
<polygon points="247.50,56.4 258.30,44.8 269.00,56.4" fill="#000"/>
<rect x="253.20" y="220" width="194" height="8.75" fill="#000"/>
<polygon points="446.20,215.3 455.30,224.4 446.20,233.5" fill="#000"/>
<rect x="294.40" y="210.75" width="6.2" height="28" fill="#000"/>
<rect x="400.65" y="210.75" width="6.2" height="28" fill="#000"/>
<text transform="translate(243.00 224.87) rotate(-90) scale(0.9659 1)" font-size="37.80" font-family="Liberation Sans, sans-serif" font-weight="bold" fill="#000">Intensity</text>
<text transform="translate(259.15 272.00) scale(0.9347 1)" font-size="37.10" font-family="Liberation Sans, sans-serif" font-weight="bold" fill="#000" >Top</text>
<text transform="translate(338.42 272.00) scale(0.9448 1)" font-size="37.10" font-family="Liberation Sans, sans-serif" font-weight="bold" fill="#000" >Bottom</text>
<text transform="translate(301.21 317.10) scale(0.9626 1)" font-size="41.40" font-family="Liberation Sans, sans-serif" font-weight="bold" fill="#88682f" >Path</text>
<text transform="translate(370.98 154.60) scale(0.9798 1)" font-size="54.00" font-family="Liberation Serif, serif" font-weight="bold" font-style="italic" fill="#000" >e</text>
<text transform="translate(399.46 139.50) scale(1.1890 1)" font-size="35.00" font-family="Liberation Serif, serif" font-weight="bold" font-style="italic" fill="#000" >iϕ</text>
<polygon points="541.30,222.00 541.30,110.00 526.00,110.00 555.70,79.50 585.40,110.00 570.10,110.00 570.10,222.00" fill="#3b53a4"/>
<polygon points="646.50,222.00 646.50,190.00 631.70,190.00 660.90,159.50 690.10,190.00 675.30,190.00 675.30,222.00" fill="#6f3996"/>
<rect x="511.20" y="55" width="10.0" height="173.7" fill="#000"/>
<polygon points="505.50,56.4 516.30,44.8 527.00,56.4" fill="#000"/>
<rect x="511.20" y="220" width="194" height="8.75" fill="#000"/>
<polygon points="704.20,215.3 713.30,224.4 704.20,233.5" fill="#000"/>
<rect x="552.40" y="210.75" width="6.2" height="28" fill="#000"/>
<rect x="658.65" y="210.75" width="6.2" height="28" fill="#000"/>
<text transform="translate(501.00 224.87) rotate(-90) scale(0.9659 1)" font-size="37.80" font-family="Liberation Sans, sans-serif" font-weight="bold" fill="#000">Intensity</text>
<text transform="translate(517.15 272.00) scale(0.9347 1)" font-size="37.10" font-family="Liberation Sans, sans-serif" font-weight="bold" fill="#000" >Top</text>
<text transform="translate(596.42 272.00) scale(0.9448 1)" font-size="37.10" font-family="Liberation Sans, sans-serif" font-weight="bold" fill="#000" >Bottom</text>
<text transform="translate(559.21 317.10) scale(0.9626 1)" font-size="41.40" font-family="Liberation Sans, sans-serif" font-weight="bold" fill="#88682f" >Path</text>
<polygon points="1041.30,222.00 1041.30,208.00 1026.00,208.00 1055.70,188.30 1085.40,208.00 1070.10,208.00 1070.10,222.00" fill="#3b53a4"/>
<polygon points="1146.50,222.00 1146.50,83.00 1131.70,83.00 1160.90,53.00 1190.10,83.00 1175.30,83.00 1175.30,222.00" fill="#6f3996"/>
<rect x="1011.20" y="55" width="10.0" height="173.7" fill="#000"/>
<polygon points="1005.50,56.4 1016.30,44.8 1027.00,56.4" fill="#000"/>
<rect x="1011.20" y="220" width="194" height="8.75" fill="#000"/>
<polygon points="1204.20,215.3 1213.30,224.4 1204.20,233.5" fill="#000"/>
<rect x="1052.40" y="210.75" width="6.2" height="28" fill="#000"/>
<rect x="1158.65" y="210.75" width="6.2" height="28" fill="#000"/>
<text transform="translate(1001.00 224.87) rotate(-90) scale(0.9659 1)" font-size="37.80" font-family="Liberation Sans, sans-serif" font-weight="bold" fill="#000">Intensity</text>
<text transform="translate(1017.15 272.00) scale(0.9536 1)" font-size="37.10" font-family="Liberation Sans, sans-serif" font-weight="bold" fill="#000" >Top</text>
<text transform="translate(1096.45 272.00) scale(0.9524 1)" font-size="37.10" font-family="Liberation Sans, sans-serif" font-weight="bold" fill="#000" >Bottom</text>
<text transform="translate(1058.36 317.10) scale(0.9828 1)" font-size="41.40" font-family="Liberation Sans, sans-serif" font-weight="bold" fill="#88682f" >Path</text>
<polygon points="1416.30,222.00 1416.30,209.50 1401.00,209.50 1430.70,189.50 1460.40,209.50 1445.10,209.50 1445.10,222.00" fill="#3b53a4"/>
<polygon points="1521.50,222.00 1521.50,84.50 1506.70,84.50 1535.90,54.25 1565.10,84.50 1550.30,84.50 1550.30,222.00" fill="#6f3996"/>
<rect x="1386.20" y="55" width="10.0" height="173.7" fill="#000"/>
<polygon points="1380.50,56.4 1391.30,44.8 1402.00,56.4" fill="#000"/>
<rect x="1386.20" y="220" width="194" height="8.75" fill="#000"/>
<polygon points="1579.20,215.3 1588.30,224.4 1579.20,233.5" fill="#000"/>
<rect x="1427.40" y="210.75" width="6.2" height="28" fill="#000"/>
<rect x="1533.65" y="210.75" width="6.2" height="28" fill="#000"/>
<text transform="translate(1376.00 224.87) rotate(-90) scale(0.9659 1)" font-size="37.80" font-family="Liberation Sans, sans-serif" font-weight="bold" fill="#000">Intensity</text>
<text transform="translate(1395.90 272.00) scale(0.9503 1)" font-size="37.10" font-family="Liberation Sans, sans-serif" font-weight="bold" fill="#000" >TM0</text>
<text transform="translate(1504.65 272.00) scale(0.9438 1)" font-size="37.10" font-family="Liberation Sans, sans-serif" font-weight="bold" fill="#000" >TE0</text>
<text transform="translate(1434.38 317.10) scale(0.9720 1)" font-size="41.40" font-family="Liberation Sans, sans-serif" font-weight="bold" fill="#a8429e" >Mode</text>
<polygon points="56.10,472.40 62.20,472.00 60.00,483.00 57.70,482.00" fill="#7f4a9f"/>
<polygon points="55.90,473.50 56.50,472.20 58.30,480.80 57.60,481.80" fill="#5b2b7b"/>
<polygon points="58.30,478.00 53.10,493.00 53.90,496.80 61.10,496.80 60.10,486.00" fill="#4456a8"/>
<polygon points="113.90,458.80 124.90,466.40 123.70,470.80 115.90,470.80" fill="#7f4a9f"/>
<polygon points="112.90,461.40 113.90,458.80 116.50,470.80 115.10,470.80" fill="#5b2b7b"/>
<polygon points="109.90,502.40 119.50,500.00 123.90,500.00 124.10,502.60 111.20,507.60" fill="#4456a8"/>
<polygon points="61.90,470.70 123.90,470.70 123.90,485.90 58.10,485.90" fill="#4456a8"/>
<polygon points="61.90,470.70 123.90,470.70 123.90,474.30 62.90,474.30" fill="#2f3b9b"/>
<polygon points="58.90,485.90 123.90,485.90 123.90,500.30 61.70,500.30" fill="#7f4a9f"/>
<polygon points="58.70,485.90 60.70,486.30 62.50,500.00 61.60,500.30" fill="#5b2b7b"/>
<polygon points="123.60,470.70 127.30,460.20 149.70,485.20 123.60,485.90" fill="#4456a8"/>
<polygon points="127.10,460.10 128.50,461.00 150.00,483.80 149.60,485.40 147.50,484.40" fill="#1a1c5c"/>
<polygon points="123.30,485.90 149.70,485.20 125.70,513.40 123.30,500.30" fill="#7f4a9f"/>
<polygon points="123.10,498.00 124.30,499.60 126.30,512.60 125.60,513.50" fill="#5b2b7b"/>
<polygon points="1507.20,472.00 1513.30,471.60 1511.10,482.60 1508.80,481.60" fill="#7f4a9f"/>
<polygon points="1507.00,473.10 1507.60,471.80 1509.40,480.40 1508.70,481.40" fill="#5b2b7b"/>
<polygon points="1509.40,477.60 1504.20,492.60 1505.00,496.40 1512.20,496.40 1511.20,485.60" fill="#4456a8"/>
<polygon points="1565.00,458.40 1576.00,466.00 1574.80,470.40 1567.00,470.40" fill="#7f4a9f"/>
<polygon points="1564.00,461.00 1565.00,458.40 1567.60,470.40 1566.20,470.40" fill="#5b2b7b"/>
<polygon points="1561.00,502.00 1570.60,499.60 1575.00,499.60 1575.20,502.20 1562.30,507.20" fill="#4456a8"/>
<polygon points="1513.00,470.30 1575.00,470.30 1575.00,485.50 1509.20,485.50" fill="#4456a8"/>
<polygon points="1513.00,470.30 1575.00,470.30 1575.00,473.90 1514.00,473.90" fill="#2f3b9b"/>
<polygon points="1510.00,485.50 1575.00,485.50 1575.00,499.90 1512.80,499.90" fill="#7f4a9f"/>
<polygon points="1509.80,485.50 1511.80,485.90 1513.60,499.60 1512.70,499.90" fill="#5b2b7b"/>
<polygon points="1574.70,470.30 1578.40,459.80 1600.80,484.80 1574.70,485.50" fill="#4456a8"/>
<polygon points="1578.20,459.70 1579.60,460.60 1601.10,483.40 1600.70,485.00 1598.60,484.00" fill="#1a1c5c"/>
<polygon points="1574.40,485.50 1600.80,484.80 1576.80,513.00 1574.40,499.90" fill="#7f4a9f"/>
<polygon points="1574.20,497.60 1575.40,499.20 1577.40,512.20 1576.70,513.10" fill="#5b2b7b"/>
<text transform="translate(10.08 559.00) scale(0.9668 1)" font-size="41.80" font-family="Liberation Sans, sans-serif" font-weight="bold" fill="#000" >1550 nm</text>
<text transform="translate(41.14 609.50) scale(0.9610 1)" font-size="41.80" font-family="Liberation Sans, sans-serif" font-weight="bold" fill="#000" >Input</text>
<text transform="translate(1801.14 342.50) scale(0.9655 1)" font-size="41.80" font-family="Liberation Sans, sans-serif" font-weight="bold" fill="#ec2024" >775 nm</text>
<text transform="translate(1804.91 392.50) scale(0.9532 1)" font-size="41.80" font-family="Liberation Sans, sans-serif" font-weight="bold" fill="#ec2024" >Output</text>
<text transform="translate(1763.39 442.50) scale(0.9606 1)" font-size="41.80" font-family="Liberation Sans, sans-serif" font-weight="bold" fill="#ec2024" >Modulation</text>
<polygon points="1826.5,468 1890.75,468 1890.75,453 1921.6,483.75 1890.75,514.5 1890.75,499.25 1826.5,499.25" fill="#ec2024"/>
<rect x="1624" y="482.1" width="145" height="5.5" fill="#5f6062"/>
<rect x="1624.0" y="482.1" width="5" height="5.5" fill="#fff"/>
<rect x="1634.0" y="482.1" width="5" height="5.5" fill="#fff"/>
<rect x="1644.0" y="482.1" width="5" height="5.5" fill="#fff"/>
<rect x="1654.0" y="482.1" width="5" height="5.5" fill="#fff"/>
<rect x="1664.0" y="482.1" width="5" height="5.5" fill="#fff"/>
<rect x="1674.0" y="482.1" width="5" height="5.5" fill="#fff"/>
<rect x="1684.0" y="482.1" width="5" height="5.5" fill="#fff"/>
<rect x="1694.0" y="482.1" width="5" height="5.5" fill="#fff"/>
<rect x="1704.0" y="482.1" width="5" height="5.5" fill="#fff"/>
<rect x="1714.0" y="482.1" width="5" height="5.5" fill="#fff"/>
<rect x="1724.0" y="482.1" width="5" height="5.5" fill="#fff"/>
<rect x="1734.0" y="482.1" width="5" height="5.5" fill="#fff"/>
<rect x="1744.0" y="482.1" width="5" height="5.5" fill="#fff"/>
<rect x="1754.0" y="482.1" width="5" height="5.5" fill="#fff"/>
<rect x="1764.0" y="482.1" width="5" height="5.5" fill="#fff"/>
<polygon transform="translate(326.90 466.30) rotate(-19.24)" points="0.00,-4.30 26.62,-4.30 25.12,-8.00 36.12,0.00 27.12,8.00 26.62,4.30 0.00,4.30" fill="#3b53a4"/>
<polygon transform="translate(325.40 481.00) rotate(18.74)" points="0.00,-4.30 25.98,-4.30 24.48,-8.00 35.48,0.00 26.48,8.00 25.98,4.30 0.00,4.30" fill="#7b489f"/>
<polygon transform="translate(584.50 452.00) rotate(26.78)" points="0.00,-4.30 26.01,-4.30 24.51,-8.00 35.51,0.00 26.51,8.00 26.01,4.30 0.00,4.30" fill="#3b53a4"/>
<polygon transform="translate(583.00 495.30) rotate(-24.54)" points="0.00,-4.30 25.90,-4.30 24.40,-8.00 35.40,0.00 26.40,8.00 25.90,4.30 0.00,4.30" fill="#7b489f"/>
<polygon transform="translate(1091.00 467.00) rotate(-27.44)" points="0.00,-4.30 25.66,-4.30 24.16,-8.00 35.16,0.00 26.16,8.00 25.66,4.30 0.00,4.30" fill="#3b53a4"/>
<polygon transform="translate(1090.50 482.60) rotate(20.65)" points="0.00,-4.30 25.66,-4.30 24.16,-8.00 35.16,0.00 26.16,8.00 25.66,4.30 0.00,4.30" fill="#7b489f"/></g>
<g id="panel-b"><rect x="104.7" y="729.1" width="521.00" height="437.40" fill="#fff" stroke="#000" stroke-width="2.2"/>
<line x1="146.3" y1="1166.5" x2="146.3" y2="1174.0" stroke="#000" stroke-width="1.8"/>
<line x1="574.5" y1="1166.5" x2="574.5" y2="1174.0" stroke="#000" stroke-width="1.8"/>
<line x1="98.7" y1="729.4" x2="104.7" y2="729.4" stroke="#000" stroke-width="1.8"/>
<line x1="98.7" y1="874.4" x2="104.7" y2="874.4" stroke="#000" stroke-width="1.8"/>
<line x1="98.7" y1="1020.2" x2="104.7" y2="1020.2" stroke="#000" stroke-width="1.8"/>
<line x1="98.7" y1="1166.4" x2="104.7" y2="1166.4" stroke="#000" stroke-width="1.8"/>
<rect x="295.4" y="1142.4" width="1.3" height="7.6" fill="#c8c8c8"/>
<line x1="348.6" y1="733.8" x2="348.6" y2="1166" stroke="#000" stroke-width="4.0" stroke-dasharray="12.1 4.3"/>
<path d="M104.7 767.6 L106.3 767.7 L107.9 767.1 L109.5 767.4 L111.1 767.8 L112.7 767.8 L114.3 766.7 L115.9 766.7 L117.5 766.5 L119.1 766.9 L120.7 766.3 L122.3 766.9 L123.9 767.1 L125.5 766.5 L127.1 767.0 L128.7 766.8 L130.3 766.0 L131.9 766.7 L133.5 766.2 L135.1 766.4 L136.7 766.1 L138.3 766.7 L139.9 766.3 L141.5 765.8 L143.1 766.3 L144.7 766.6 L146.3 765.9 L147.9 765.7 L149.5 765.9 L151.1 766.6 L152.7 766.6 L154.3 766.1 L155.9 766.4 L157.5 766.2 L159.1 765.5 L160.7 765.1 L162.3 765.8 L163.9 765.7 L165.5 765.3 L167.1 765.1 L168.7 765.3 L170.3 765.3 L171.9 765.0 L173.5 765.0 L175.1 765.2 L176.7 765.7 L178.3 765.3 L179.9 764.8 L181.5 764.7 L183.1 764.9 L184.7 764.5 L186.3 764.5 L187.9 764.8 L189.5 764.2 L191.1 764.7 L192.7 764.4 L194.3 764.9 L195.9 764.8 L197.5 764.7 L199.1 764.6 L200.7 764.1 L202.3 764.4 L203.9 763.9 L205.5 764.1 L207.1 763.6 L208.7 763.7 L210.3 763.0 L211.9 763.2 L213.5 764.0 L215.1 762.9 L216.7 763.4 L218.3 763.2 L219.9 763.1 L221.5 762.6 L223.1 762.6 L224.7 761.7 L226.3 761.6 L227.9 761.6 L229.5 761.3 L231.1 761.1 L232.7 760.9 L234.3 761.4 L235.9 760.7 L237.5 761.6 L239.1 761.0 L240.7 760.6 L242.3 760.7 L243.9 759.9 L245.5 760.6 L247.1 760.3 L248.7 760.0 L250.3 759.4 L251.9 759.8 L253.5 759.4 L255.1 759.1 L256.7 759.3 L258.3 758.7 L259.9 758.1 L261.5 758.1 L263.1 757.4 L264.7 757.2 L266.3 757.7 L267.9 757.6 L269.5 757.6 L271.1 757.2 L272.7 756.6 L274.3 755.7 L275.9 756.1 L277.5 756.4 L279.1 756.0 L280.7 755.4 L282.3 755.1 L283.9 754.5 L285.5 754.2 L287.1 753.7 L288.7 754.6 L290.3 753.9 L291.9 752.9 L293.5 753.0 L295.1 752.2 L296.7 752.2 L298.3 752.7 L299.9 752.4 L301.5 751.9 L303.1 751.5 L304.7 751.9 L306.3 752.3 L307.9 751.5 L309.5 751.0 L311.1 751.0 L312.7 751.0 L314.3 752.2 L315.9 751.6 L317.5 752.0 L319.1 751.1 L320.7 751.2 L322.3 751.8 L323.9 752.1 L325.5 751.3 L327.1 750.9 L328.7 752.0 L330.3 751.2 L331.9 751.8 L333.5 751.0 L335.1 751.7 L336.7 751.9 L338.3 751.7 L339.9 751.1 L341.5 751.6 L343.1 750.8 L344.7 751.0 L346.3 751.1 L347.9 751.7 L349.5 750.7 L351.1 751.7 L352.7 751.6 L354.3 751.9 L355.9 751.0 L357.5 750.8 L359.1 750.8 L360.7 751.7 L362.3 751.9 L363.9 751.5 L365.5 751.2 L367.1 750.9 L368.7 751.7 L370.3 751.7 L371.9 750.6 L373.5 750.8 L375.1 751.7 L376.7 751.7 L378.3 751.1 L379.9 751.1 L381.5 751.5 L383.1 751.9 L384.7 751.5 L386.3 752.8 L387.9 752.7 L389.5 753.3 L391.1 752.9 L392.7 754.2 L394.3 754.3 L395.9 754.0 L397.5 755.2 L399.1 755.1 L400.7 755.6 L402.3 754.8 L403.9 755.1 L405.5 756.3 L407.1 756.0 L408.7 756.6 L410.3 756.5 L411.9 757.9 L413.5 757.6 L415.1 758.4 L416.7 757.7 L418.3 758.6 L419.9 758.3 L421.5 759.8 L423.1 759.5 L424.7 759.3 L426.3 759.7 L427.9 760.6 L429.5 760.3 L431.1 760.8 L432.7 761.5 L434.3 761.9 L435.9 762.3 L437.5 762.7 L439.1 762.7 L440.7 763.4 L442.3 763.1 L443.9 763.6 L445.5 764.7 L447.1 764.1 L448.7 764.6 L450.3 765.0 L451.9 765.6 L453.5 765.3 L455.1 765.6 L456.7 766.5 L458.3 766.4 L459.9 767.4 L461.5 767.9 L463.1 767.8 L464.7 768.2 L466.3 768.0 L467.9 767.7 L469.5 768.5 L471.1 768.5 L472.7 769.0 L474.3 768.5 L475.9 768.8 L477.5 769.8 L479.1 769.1 L480.7 769.5 L482.3 770.3 L483.9 769.5 L485.5 769.5 L487.1 770.4 L488.7 770.3 L490.3 770.4 L491.9 769.8 L493.5 770.4 L495.1 769.9 L496.7 770.3 L498.3 771.1 L499.9 770.3 L501.5 770.7 L503.1 771.8 L504.7 771.8 L506.3 771.3 L507.9 771.7 L509.5 771.7 L511.1 771.5 L512.7 772.2 L514.3 771.3 L515.9 772.3 L517.5 771.4 L519.1 772.6 L520.7 772.5 L522.3 772.3 L523.9 772.7 L525.5 772.5 L527.1 773.1 L528.7 772.2 L530.3 772.9 L531.9 773.5 L533.5 773.7 L535.1 772.8 L536.7 772.9 L538.3 773.9 L539.9 773.2 L541.5 772.8 L543.1 773.8 L544.7 773.4 L546.3 773.9 L547.9 773.6 L549.5 773.6 L551.1 773.5 L552.7 773.3 L554.3 774.1 L555.9 773.8 L557.5 774.0 L559.1 774.1 L560.7 773.2 L562.3 774.1 L563.9 774.0 L565.5 773.4 L567.1 773.5 L568.7 772.8 L570.3 773.7 L571.9 772.8 L573.5 773.3 L575.1 772.7 L576.7 772.5 L578.3 773.2 L579.9 772.9 L581.5 773.1 L583.1 773.1 L584.7 773.2 L586.3 771.8 L587.9 772.5 L589.5 772.3 L591.1 772.2 L592.7 772.0 L594.3 771.9 L595.9 772.2 L597.5 771.6 L599.1 771.7 L600.7 771.9 L602.3 771.0 L603.9 771.5 L605.5 771.1 L607.1 771.2 L608.7 771.1 L610.3 771.4 L611.9 771.5 L613.5 772.0 L615.1 772.2 L616.7 772.6 L618.3 772.3 L619.9 773.0 L621.5 772.4 L623.1 773.1 L624.7 773.0 L625.6 773.2" fill="none" stroke="#ed1c24" stroke-width="2.5" stroke-linejoin="round"/>
<path d="M104.7 947.1 L106.3 946.3 L107.9 943.5 L109.5 942.8 L111.1 940.3 L112.7 938.7 L114.3 937.1 L115.9 934.9 L117.5 932.6 L119.1 930.6 L120.7 928.5 L122.3 927.6 L123.9 925.1 L125.5 922.6 L127.1 921.7 L128.7 918.6 L130.3 916.8 L131.9 914.5 L133.5 913.0 L135.1 910.9 L136.7 909.0 L138.3 906.6 L139.9 904.8 L141.5 903.0 L143.1 901.3 L144.7 899.3 L146.3 897.7 L147.9 897.3 L149.5 895.7 L151.1 892.9 L152.7 891.0 L154.3 889.8 L155.9 889.1 L157.5 887.7 L159.1 885.0 L160.7 884.5 L162.3 882.1 L163.9 881.5 L165.5 880.3 L167.1 879.4 L168.7 876.8 L170.3 876.3 L171.9 875.1 L173.5 874.0 L175.1 871.3 L176.7 870.9 L178.3 870.7 L179.9 868.9 L181.5 868.7 L183.1 867.5 L184.7 867.1 L186.3 865.9 L187.9 864.4 L189.5 863.9 L191.1 863.3 L192.7 862.9 L194.3 863.5 L195.9 862.4 L197.5 862.2 L199.1 861.3 L200.7 861.0 L202.3 860.9 L203.9 860.7 L205.5 860.3 L207.1 859.8 L208.7 858.3 L210.3 858.5 L211.9 857.7 L213.5 858.3 L215.1 858.5 L216.7 857.1 L218.3 857.1 L219.9 857.3 L221.5 856.9 L223.1 857.7 L224.7 857.0 L226.3 857.4 L227.9 857.3 L229.5 857.6 L231.1 858.4 L232.7 858.7 L234.3 857.7 L235.9 859.2 L237.5 858.7 L239.1 858.7 L240.7 859.5 L242.3 860.1 L243.9 861.3 L245.5 860.9 L247.1 861.0 L248.7 863.0 L250.3 862.5 L251.9 863.8 L253.5 865.2 L255.1 865.4 L256.7 866.2 L258.3 867.6 L259.9 867.2 L261.5 868.9 L263.1 869.6 L264.7 871.6 L266.3 872.3 L267.9 872.2 L269.5 873.6 L271.1 875.3 L272.7 876.9 L274.3 877.6 L275.9 879.0 L277.5 881.4 L279.1 882.9 L280.7 883.6 L282.3 886.0 L283.9 886.8 L285.5 888.1 L287.1 890.6 L288.7 892.6 L290.3 894.8 L291.9 896.8 L293.5 898.4 L295.1 900.4 L296.7 902.2 L298.3 904.2 L299.9 906.3 L301.5 908.7 L303.1 909.8 L304.7 911.4 L306.3 913.9 L307.9 916.1 L309.5 918.6 L311.1 921.7 L312.7 922.8 L314.3 925.9 L315.9 928.9 L317.5 930.5 L319.1 932.7 L320.7 935.6 L322.3 938.0 L323.9 942.0 L325.5 943.9 L327.1 947.0 L328.7 951.1 L330.3 954.4 L331.9 957.6 L333.5 961.9 L335.1 964.8 L336.7 970.9 L338.3 975.0 L339.9 979.4 L341.5 985.0 L343.1 989.6 L344.7 994.8 L346.3 997.8 L347.9 1002.9 L348.0 1003.0 L349.5 1004.0 L351.0 998.0 L353.0 1010.0 L355.0 1005.0 L357.0 1016.0 L359.0 1012.0 L361.0 1024.0 L363.0 1016.0 L364.5 1030.0 L366.5 1019.0 L368.0 1032.0 L370.0 1036.0 L372.0 1042.0 L373.5 1038.0 L375.0 1050.0 L376.0 1080.0 L377.6 1145.5 L378.4 1145.5 L380.2 1017.5 L382.2 1145.5 L383.0 1145.5 L384.0 1060.0 L385.2 1030.0 L386.5 1022.0 L387.5 1015.0 L388.5 1020.0 L389.5 1024.0 L390.5 1008.0 L391.5 999.0 L393.0 995.0 L395.0 990.0 L395.0 989.2 L396.6 987.7 L398.2 983.9 L399.8 980.9 L401.4 977.2 L403.0 971.6 L404.6 967.0 L406.2 962.4 L407.8 959.3 L409.4 956.4 L411.0 953.4 L412.6 950.3 L414.2 946.1 L415.8 942.0 L417.4 939.0 L419.0 936.7 L420.6 932.3 L422.2 929.6 L423.8 927.4 L425.4 922.8 L427.0 920.8 L428.6 918.6 L430.2 914.5 L431.8 912.5 L433.4 910.6 L435.0 906.8 L436.6 905.3 L438.2 903.6 L439.8 901.5 L441.4 899.2 L443.0 896.9 L444.6 895.6 L446.2 893.6 L447.8 892.1 L449.4 890.1 L451.0 889.3 L452.6 887.5 L454.2 885.0 L455.8 883.9 L457.4 881.9 L459.0 880.8 L460.6 879.3 L462.2 878.6 L463.8 876.9 L465.4 876.0 L467.0 875.4 L468.6 873.8 L470.2 873.6 L471.8 871.2 L473.4 871.1 L475.0 869.4 L476.6 868.4 L478.2 867.7 L479.8 866.5 L481.4 865.4 L483.0 863.9 L484.6 863.2 L486.2 863.6 L487.8 862.5 L489.4 862.1 L491.0 861.9 L492.6 860.8 L494.2 859.1 L495.8 859.0 L497.4 859.1 L499.0 858.0 L500.6 858.8 L502.2 858.3 L503.8 857.7 L505.4 856.7 L507.0 857.0 L508.6 855.4 L510.2 855.6 L511.8 855.7 L513.4 856.2 L515.0 855.8 L516.6 855.1 L518.2 855.5 L519.8 855.5 L521.4 855.4 L523.0 855.2 L524.6 855.6 L526.2 855.7 L527.8 856.3 L529.4 856.5 L531.0 856.2 L532.6 856.5 L534.2 857.5 L535.8 858.2 L537.4 858.4 L539.0 859.2 L540.6 860.0 L542.2 859.0 L543.8 861.2 L545.4 861.0 L547.0 862.2 L548.6 863.6 L550.2 864.3 L551.8 864.1 L553.4 866.0 L555.0 865.8 L556.6 867.3 L558.2 869.1 L559.8 869.4 L561.4 870.8 L563.0 872.1 L564.6 873.4 L566.2 874.4 L567.8 874.3 L569.4 876.2 L571.0 877.6 L572.6 878.2 L574.2 880.4 L575.8 881.9 L577.4 883.8 L579.0 885.5 L580.6 885.6 L582.2 887.4 L583.8 889.9 L585.4 890.6 L587.0 892.4 L588.6 894.8 L590.2 895.8 L591.8 898.6 L593.4 900.5 L595.0 900.8 L596.6 903.6 L598.2 905.9 L599.8 908.1 L601.4 908.8 L603.0 910.6 L604.6 913.9 L606.2 916.1 L607.8 916.9 L609.4 919.5 L611.0 922.1 L612.6 924.4 L614.2 925.3 L615.8 928.3 L617.4 930.6 L619.0 932.3 L620.6 933.7 L622.2 935.6 L623.8 938.2 L625.4 941.3 L625.6 940.2" fill="none" stroke="#3953a4" stroke-width="2.5" stroke-linejoin="round"/>
<rect x="345.80" y="766.00" width="5.6" height="60.60" fill="#000"/>
<polygon points="340.30,767.00 348.60,750.00 356.90,767.00" fill="#000"/>
<rect x="345.80" y="890.00" width="5.6" height="100.00" fill="#000"/>
<polygon points="340.30,989.00 348.60,1006.00 356.90,989.00" fill="#000"/>
<rect x="340" y="827" width="18" height="63" fill="#fff"/>
<text transform="translate(306.52 871.20) scale(0.9668 1)" font-size="36.60" font-family="Liberation Sans, sans-serif" font-weight="bold" fill="#000" >37dBm</text>
<rect x="405.6" y="1075" width="216.40" height="88.00" rx="3.5" fill="#fff" stroke="#cbcbcb" stroke-width="2.2"/>
<line x1="410.6" y1="1095.6" x2="429" y2="1095.6" stroke="#ed1c24" stroke-width="2.7"/>
<text transform="translate(432.07 1108.20) scale(0.9532 1)" font-size="37.60" font-family="Liberation Sans, sans-serif" font-weight="bold" fill="#000" >Max</text>
<line x1="410.6" y1="1144.3" x2="429" y2="1144.3" stroke="#3953a4" stroke-width="2.7"/>
<text transform="translate(432.06 1156.60) scale(0.9594 1)" font-size="37.60" font-family="Liberation Sans, sans-serif" font-weight="bold" fill="#000" >Max to min</text>
<text transform="translate(52.47 743.40) scale(0.9594 1)" font-size="42.60" font-family="Liberation Sans, sans-serif" font-weight="bold" fill="#000"><tspan x="-15.84" dy="-3.82" font-size="49.35" font-weight="normal">-</tspan><tspan x="0" dy="3.82">20</tspan></text>
<text transform="translate(53.30 888.40) scale(0.9412 1)" font-size="42.60" font-family="Liberation Sans, sans-serif" font-weight="bold" fill="#000"><tspan x="-17.03" dy="-3.57" font-size="50.31" font-weight="normal">-</tspan><tspan x="0" dy="3.57">40</tspan></text>
<text transform="translate(52.47 1034.20) scale(0.9594 1)" font-size="42.60" font-family="Liberation Sans, sans-serif" font-weight="bold" fill="#000"><tspan x="-15.84" dy="-3.82" font-size="49.35" font-weight="normal">-</tspan><tspan x="0" dy="3.82">60</tspan></text>
<text transform="translate(52.68 1180.40) scale(0.9548 1)" font-size="42.60" font-family="Liberation Sans, sans-serif" font-weight="bold" fill="#000"><tspan x="-16.14" dy="-3.76" font-size="49.59" font-weight="normal">-</tspan><tspan x="0" dy="3.76">80</tspan></text>
<text transform="translate(110.04 1216.50) scale(0.9730 1)" font-size="42.60" font-family="Liberation Sans, sans-serif" font-weight="bold" fill="#000" >782</text>
<text transform="translate(291.45 1216.50) scale(0.9664 1)" font-size="42.60" font-family="Liberation Sans, sans-serif" font-weight="bold" fill="#000" >782.48</text>
<text transform="translate(538.45 1216.50) scale(0.9670 1)" font-size="42.60" font-family="Liberation Sans, sans-serif" font-weight="bold" fill="#000" >783</text>
<text transform="translate(184.90 1271.90) scale(0.9583 1)" font-size="47.60" font-family="Liberation Sans, sans-serif" font-weight="bold" fill="#000" >Wavelength [nm]</text>
<text transform="translate(32.50 1071.03) rotate(-90) scale(0.9683 1)" font-size="48.20" font-family="Liberation Sans, sans-serif" font-weight="bold" fill="#000">Power [dbm]</text>
<text transform="translate(1.79 693.50) scale(1.0028 1)" font-size="42.00" font-family="Liberation Sans, sans-serif" font-weight="bold" fill="#000" >(b)</text></g>
<g id="panel-c"><rect x="789.3" y="729.4" width="524.30" height="437.60" fill="#fff" stroke="#000" stroke-width="2.2"/>
<line x1="832.3" y1="1167" x2="832.3" y2="1174.5" stroke="#000" stroke-width="1.8"/>
<line x1="1269.2" y1="1167" x2="1269.2" y2="1174.5" stroke="#000" stroke-width="1.8"/>
<line x1="783.3" y1="729.4" x2="789.3" y2="729.4" stroke="#000" stroke-width="1.8"/>
<line x1="783.3" y1="874.6" x2="789.3" y2="874.6" stroke="#000" stroke-width="1.8"/>
<line x1="783.3" y1="1021" x2="789.3" y2="1021" stroke="#000" stroke-width="1.8"/>
<line x1="783.3" y1="1167" x2="789.3" y2="1167" stroke="#000" stroke-width="1.8"/>
<line x1="1064.3" y1="734" x2="1064.3" y2="1167" stroke="#000" stroke-width="4.0" stroke-dasharray="12.1 4.3"/>
<path d="M789.3 765.6 L790.9 764.9 L792.5 765.1 L794.1 765.1 L795.7 764.3 L797.3 764.0 L798.9 763.0 L800.5 763.4 L802.1 763.7 L803.7 763.3 L805.3 762.9 L806.9 761.7 L808.5 762.6 L810.1 762.3 L811.7 761.0 L813.3 761.5 L814.9 760.4 L816.5 760.3 L818.1 760.4 L819.7 760.0 L821.3 760.7 L822.9 760.7 L824.5 759.9 L826.1 759.7 L827.7 759.3 L829.3 759.1 L830.9 759.9 L832.5 759.6 L834.1 758.7 L835.7 759.2 L837.3 759.0 L838.9 759.5 L840.5 759.2 L842.1 759.0 L843.7 758.8 L845.3 759.3 L846.9 759.2 L848.5 758.3 L850.1 758.0 L851.7 758.8 L853.3 757.7 L854.9 758.0 L856.5 757.5 L858.1 757.8 L859.7 757.4 L861.3 757.7 L862.9 758.3 L864.5 758.4 L866.1 758.2 L867.7 757.8 L869.3 757.8 L870.9 757.4 L872.5 757.1 L874.1 757.4 L875.7 757.8 L877.3 756.8 L878.9 756.7 L880.5 757.7 L882.1 757.0 L883.7 757.5 L885.3 757.5 L886.9 757.7 L888.5 757.0 L890.1 756.9 L891.7 757.5 L893.3 757.4 L894.9 757.2 L896.5 757.4 L898.1 757.2 L899.7 757.6 L901.3 756.8 L902.9 757.3 L904.5 757.6 L906.1 756.8 L907.7 757.2 L909.3 756.9 L910.9 757.0 L912.5 756.5 L914.1 756.4 L915.7 757.5 L917.3 757.1 L918.9 757.3 L920.5 757.5 L922.1 757.1 L923.7 757.1 L925.3 756.8 L926.9 757.7 L928.5 757.8 L930.1 757.7 L931.7 757.9 L933.3 757.6 L934.9 757.7 L936.5 757.0 L938.1 757.8 L939.7 757.3 L941.3 757.4 L942.9 757.3 L944.5 757.6 L946.1 757.8 L947.7 757.7 L949.3 757.3 L950.9 757.2 L952.5 758.1 L954.1 757.3 L955.7 757.5 L957.3 757.0 L958.9 757.3 L960.5 757.0 L962.1 757.3 L963.7 757.8 L965.3 758.1 L966.9 757.5 L968.5 757.0 L970.1 757.5 L971.7 757.3 L973.3 757.5 L974.9 757.0 L976.5 757.5 L978.1 756.7 L979.7 756.4 L981.3 756.7 L982.9 757.1 L984.5 756.8 L986.1 756.3 L987.7 756.2 L989.3 756.3 L990.9 756.0 L992.5 756.0 L994.1 756.5 L995.7 756.4 L997.3 756.1 L998.9 755.0 L1000.5 755.6 L1002.1 755.2 L1003.7 755.9 L1005.3 755.0 L1006.9 755.7 L1008.5 754.7 L1010.1 754.8 L1011.7 755.5 L1013.3 754.9 L1014.9 755.3 L1016.5 754.6 L1018.1 754.1 L1019.7 754.7 L1021.3 754.3 L1022.9 754.1 L1024.5 753.5 L1026.1 753.4 L1027.7 754.4 L1029.3 754.3 L1030.9 754.2 L1032.5 753.2 L1034.1 752.6 L1035.7 753.1 L1037.3 753.2 L1038.9 752.9 L1040.5 751.8 L1042.1 751.9 L1043.7 752.4 L1045.3 751.3 L1046.9 752.2 L1048.5 752.2 L1050.1 751.0 L1051.7 750.6 L1053.3 751.7 L1054.9 751.2 L1056.5 750.6 L1058.1 750.5 L1059.7 751.0 L1061.3 750.1 L1062.9 749.6 L1064.5 750.4 L1066.1 749.9 L1067.7 750.5 L1069.3 750.9 L1070.9 750.1 L1072.5 749.9 L1074.1 749.7 L1075.7 750.8 L1077.3 749.8 L1078.9 751.1 L1080.5 750.8 L1082.1 751.1 L1083.7 751.0 L1085.3 750.2 L1086.9 750.2 L1088.5 751.4 L1090.1 750.5 L1091.7 751.2 L1093.3 750.4 L1094.9 750.6 L1096.5 751.2 L1098.1 750.6 L1099.7 751.3 L1101.3 751.6 L1102.9 750.8 L1104.5 750.8 L1106.1 750.4 L1107.7 751.0 L1109.3 750.5 L1110.9 751.3 L1112.5 751.4 L1114.1 751.3 L1115.7 751.4 L1117.3 751.4 L1118.9 751.8 L1120.5 751.3 L1122.1 751.8 L1123.7 751.1 L1125.3 750.8 L1126.9 751.0 L1128.5 751.8 L1130.1 751.0 L1131.7 751.8 L1133.3 752.0 L1134.9 751.6 L1136.5 751.1 L1138.1 751.8 L1139.7 751.5 L1141.3 752.3 L1142.9 751.4 L1144.5 751.6 L1146.1 752.1 L1147.7 752.2 L1149.3 751.9 L1150.9 752.4 L1152.5 753.0 L1154.1 752.9 L1155.7 752.5 L1157.3 753.2 L1158.9 753.4 L1160.5 753.7 L1162.1 753.3 L1163.7 753.9 L1165.3 755.0 L1166.9 755.1 L1168.5 755.4 L1170.1 755.4 L1171.7 755.1 L1173.3 756.0 L1174.9 755.4 L1176.5 756.0 L1178.1 756.2 L1179.7 756.3 L1181.3 756.3 L1182.9 756.6 L1184.5 757.3 L1186.1 757.1 L1187.7 757.4 L1189.3 757.7 L1190.9 757.9 L1192.5 758.8 L1194.1 758.7 L1195.7 758.2 L1197.3 759.4 L1198.9 759.3 L1200.5 760.0 L1202.1 759.8 L1203.7 759.8 L1205.3 760.7 L1206.9 760.0 L1208.5 760.4 L1210.1 760.9 L1211.7 761.6 L1213.3 760.8 L1214.9 761.3 L1216.5 761.8 L1218.1 762.2 L1219.7 761.6 L1221.3 762.7 L1222.9 762.6 L1224.5 762.7 L1226.1 762.7 L1227.7 762.8 L1229.3 763.8 L1230.9 764.1 L1232.5 763.2 L1234.1 763.4 L1235.7 764.2 L1237.3 764.5 L1238.9 764.8 L1240.5 764.2 L1242.1 764.2 L1243.7 764.2 L1245.3 764.8 L1246.9 765.2 L1248.5 765.8 L1250.1 764.8 L1251.7 765.1 L1253.3 766.0 L1254.9 766.2 L1256.5 765.6 L1258.1 765.7 L1259.7 765.8 L1261.3 766.8 L1262.9 766.5 L1264.5 766.6 L1266.1 767.4 L1267.7 766.8 L1269.3 767.5 L1270.9 767.1 L1272.5 767.2 L1274.1 768.2 L1275.7 768.6 L1277.3 768.3 L1278.9 768.3 L1280.5 768.9 L1282.1 768.2 L1283.7 768.6 L1285.3 769.7 L1286.9 769.9 L1288.5 768.7 L1290.1 768.8 L1291.7 770.0 L1293.3 769.7 L1294.9 770.3 L1296.5 770.2 L1298.1 770.1 L1299.7 770.6 L1301.3 770.5 L1302.9 769.8 L1304.5 770.6 L1306.1 771.3 L1307.7 771.2 L1309.3 771.1 L1310.9 771.2 L1312.5 771.6 L1313.6 770.9" fill="none" stroke="#3953a4" stroke-width="2.5" stroke-linejoin="round"/>
<path d="M789.3 966.7 L792.5 972.5 L795.8 974.2 L800.0 991.7 L802.5 995.8 L804.2 1003.3 L806.7 988.3 L808.7 1011.7 L810.8 1000.0 L813.3 1006.7 L815.0 1013.3 L817.5 1008.3 L819.2 1020.0 L821.7 1050.8 L823.7 1015.0 L825.8 1031.7 L828.3 1145.0 L830.8 1015.0 L833.0 1030.0 L835.0 1145.0 L839.2 1029.2 L841.3 1050.0 L843.7 1057.5 L845.8 1046.7 L848.3 1026.7 L850.3 1026.7 L852.3 1145.0 L854.7 1035.0 L856.7 1032.5 L859.2 1035.8 L861.3 1066.7 L863.3 1145.0 L865.3 1145.0 L867.8 1095.0 L870.0 1145.0 L872.0 1145.0 L874.3 1016.7 L876.3 1077.5 L878.3 1024.2 L881.0 1095.8 L885.0 1026.7 L887.2 1050.8 L889.7 1026.7 L891.7 1021.7 L893.7 1036.7 L896.2 1145.0 L898.0 1015.0 L900.8 1010.8 L904.7 1013.3 L906.7 1008.3 L908.7 997.5 L911.3 998.3 L913.3 1006.7 L916.7 995.8 L920.0 991.3 L922.0 1003.3 L924.2 990.8 L926.3 996.7 L928.7 994.2 L930.8 998.3 L933.3 988.3 L935.3 990.8 L937.5 978.0 L939.7 994.2 L942.0 982.5 L946.7 981.3 L950.3 975.8 L954.7 981.3 L957.0 976.3 L959.2 982.5 L961.3 975.0 L965.8 978.0 L970.0 979.2 L972.5 983.0 L974.7 980.0 L976.7 987.5 L979.2 981.7 L981.3 980.8 L984.2 986.7 L987.5 995.8 L990.0 987.5 L992.0 990.8 L994.2 987.5 L996.3 1002.5 L998.3 1003.3 L1000.8 988.7 L1003.3 1003.3 L1005.3 1013.3 L1007.0 1002.0 L1009.5 1026.7 L1011.7 1006.7 L1013.7 1003.3 L1016.3 1008.3 L1018.3 1050.8 L1020.5 1021.7 L1022.5 1033.3 L1024.2 1029.2 L1026.7 1040.8 L1028.8 1024.2 L1031.0 1026.7 L1033.3 1019.2 L1035.3 1077.5 L1037.5 1045.0 L1040.0 1145.0 L1042.2 1056.7 L1046.3 1021.3 L1050.0 1040.0 L1053.0 1057.5 L1055.3 1026.7 L1057.5 1057.5 L1059.7 1016.7 L1061.7 1038.3 L1059.2 1016.4 L1062.4 1035.6 L1066.0 1040.4 L1068.4 1083.5 L1070.3 1145.8 L1073.1 1010.4 L1076.7 1020.0 L1079.1 1050.0 L1081.1 1022.4 L1083.9 1088.3 L1085.6 1145.8 L1088.0 1145.8 L1090.4 1045.2 L1092.3 1058.3 L1097.1 1021.2 L1099.5 1032.0 L1101.2 1066.7 L1103.1 1012.8 L1106.2 1004.4 L1109.8 988.8 L1112.0 1000.8 L1113.9 978.0 L1116.8 975.6 L1119.9 973.3 L1127.1 951.7 L1128.8 954.1 L1137.9 933.7 L1139.1 936.1 L1147.4 922.9 L1149.8 919.8 L1151.4 916.7 L1153.0 915.7 L1154.6 914.0 L1156.2 912.1 L1157.8 909.3 L1159.4 907.7 L1161.0 906.3 L1162.6 904.4 L1164.2 903.0 L1165.8 900.3 L1167.4 899.4 L1169.0 897.6 L1170.6 897.6 L1172.2 895.4 L1173.8 894.5 L1175.4 892.3 L1177.0 891.0 L1178.6 889.0 L1180.2 888.2 L1181.8 887.9 L1183.4 885.2 L1185.0 884.2 L1186.6 884.1 L1188.2 881.4 L1189.8 880.4 L1191.4 880.3 L1193.0 879.8 L1194.6 877.2 L1196.2 877.6 L1197.8 876.8 L1199.4 874.5 L1201.0 874.6 L1202.6 873.4 L1204.2 872.5 L1205.8 872.5 L1207.4 869.9 L1209.0 869.5 L1210.6 869.6 L1212.2 868.1 L1213.8 867.3 L1215.4 867.3 L1217.0 867.0 L1218.6 865.2 L1220.2 864.9 L1221.8 864.0 L1223.4 863.6 L1225.0 863.5 L1226.6 863.2 L1228.2 861.4 L1229.8 862.1 L1231.4 861.4 L1233.0 860.3 L1234.6 860.0 L1236.2 860.0 L1237.8 859.6 L1239.4 860.7 L1241.0 860.1 L1242.6 859.1 L1244.2 859.5 L1245.8 859.3 L1247.4 858.2 L1249.0 859.4 L1250.6 858.5 L1252.2 857.9 L1253.8 857.8 L1255.4 858.2 L1257.0 858.5 L1258.6 858.8 L1260.2 858.5 L1261.8 857.7 L1263.4 856.9 L1265.0 858.3 L1266.6 857.2 L1268.2 856.9 L1269.8 858.1 L1271.4 856.8 L1273.0 857.2 L1274.6 858.1 L1276.2 858.3 L1277.8 859.4 L1279.4 858.8 L1281.0 858.5 L1282.6 860.0 L1284.2 859.4 L1285.8 859.8 L1287.4 860.8 L1289.0 861.1 L1290.6 862.8 L1292.2 861.8 L1293.8 863.7 L1295.4 863.9 L1297.0 863.6 L1298.6 864.3 L1300.2 866.6 L1301.8 866.0 L1303.4 866.5 L1305.0 867.5 L1306.6 868.9 L1308.2 869.4 L1309.8 870.3 L1311.4 871.5 L1313.0 870.9 L1313.6 871.1" fill="none" stroke="#ed1c24" stroke-width="2.5" stroke-linejoin="round"/>
<rect x="1061.50" y="766.00" width="5.6" height="60.60" fill="#000"/>
<polygon points="1056.00,767.00 1064.30,750.00 1072.60,767.00" fill="#000"/>
<rect x="1061.50" y="890.00" width="5.6" height="134.00" fill="#000"/>
<polygon points="1056.00,1023.00 1064.30,1040.00 1072.60,1023.00" fill="#000"/>
<rect x="1055" y="826.6" width="18" height="63.4" fill="#fff"/>
<text transform="translate(1021.12 871.20) scale(0.9668 1)" font-size="36.60" font-family="Liberation Sans, sans-serif" font-weight="bold" fill="#000" >39dBm</text>
<rect x="1094.2" y="1074.6" width="215.80" height="88.20" rx="3.5" fill="#fff" stroke="#cbcbcb" stroke-width="2.2"/>
<line x1="1099.5" y1="1095.6" x2="1117" y2="1095.6" stroke="#ed1c24" stroke-width="2.7"/>
<text transform="translate(1119.89 1107.60) scale(0.9871 1)" font-size="37.60" font-family="Liberation Sans, sans-serif" font-weight="bold" fill="#000" >Min</text>
<line x1="1099.5" y1="1144.6" x2="1117" y2="1144.6" stroke="#3953a4" stroke-width="2.7"/>
<text transform="translate(1119.96 1156.60) scale(0.9590 1)" font-size="37.60" font-family="Liberation Sans, sans-serif" font-weight="bold" fill="#000" >Min to max</text>
<text transform="translate(736.07 743.40) scale(0.9594 1)" font-size="42.60" font-family="Liberation Sans, sans-serif" font-weight="bold" fill="#000"><tspan x="-15.84" dy="-3.82" font-size="49.35" font-weight="normal">-</tspan><tspan x="0" dy="3.82">20</tspan></text>
<text transform="translate(736.90 888.60) scale(0.9412 1)" font-size="42.60" font-family="Liberation Sans, sans-serif" font-weight="bold" fill="#000"><tspan x="-17.03" dy="-3.57" font-size="50.31" font-weight="normal">-</tspan><tspan x="0" dy="3.57">40</tspan></text>
<text transform="translate(736.07 1035.00) scale(0.9594 1)" font-size="42.60" font-family="Liberation Sans, sans-serif" font-weight="bold" fill="#000"><tspan x="-15.84" dy="-3.82" font-size="49.35" font-weight="normal">-</tspan><tspan x="0" dy="3.82">60</tspan></text>
<text transform="translate(736.28 1181.00) scale(0.9548 1)" font-size="42.60" font-family="Liberation Sans, sans-serif" font-weight="bold" fill="#000"><tspan x="-16.14" dy="-3.76" font-size="49.59" font-weight="normal">-</tspan><tspan x="0" dy="3.76">80</tspan></text>
<text transform="translate(799.24 1216.50) scale(0.9745 1)" font-size="42.60" font-family="Liberation Sans, sans-serif" font-weight="bold" fill="#000" >782</text>
<text transform="translate(1007.34 1216.50) scale(0.9751 1)" font-size="42.60" font-family="Liberation Sans, sans-serif" font-weight="bold" fill="#000" >782.53</text>
<text transform="translate(1235.94 1216.50) scale(0.9714 1)" font-size="42.60" font-family="Liberation Sans, sans-serif" font-weight="bold" fill="#000" >783</text>
<text transform="translate(885.50 1272.00) scale(0.9557 1)" font-size="47.60" font-family="Liberation Sans, sans-serif" font-weight="bold" fill="#000" >Wavelength [nm]</text>
<text transform="translate(716.50 1071.03) rotate(-90) scale(0.9683 1)" font-size="48.20" font-family="Liberation Sans, sans-serif" font-weight="bold" fill="#000">Power [dbm]</text>
<text transform="translate(665.15 693.50) scale(0.9778 1)" font-size="42.00" font-family="Liberation Sans, sans-serif" font-weight="bold" fill="#000" >(c)</text></g>
<g id="panel-d"><rect x="1481.5" y="730" width="513.40" height="437.00" fill="#fff" stroke="#000" stroke-width="2.2"/>
<line x1="1512.9" y1="1167" x2="1512.9" y2="1174.5" stroke="#000" stroke-width="1.8"/>
<line x1="1952" y1="1167" x2="1952" y2="1174.5" stroke="#000" stroke-width="1.8"/>
<line x1="1475.5" y1="730" x2="1481.5" y2="730" stroke="#000" stroke-width="1.8"/>
<line x1="1475.5" y1="876" x2="1481.5" y2="876" stroke="#000" stroke-width="1.8"/>
<line x1="1475.5" y1="1021.8" x2="1481.5" y2="1021.8" stroke="#000" stroke-width="1.8"/>
<line x1="1475.5" y1="1167" x2="1481.5" y2="1167" stroke="#000" stroke-width="1.8"/>
<path d="M1481.5 807.9 L1483.1 807.3 L1484.7 807.0 L1486.3 805.0 L1487.9 804.4 L1489.5 803.3 L1491.1 802.9 L1492.7 802.8 L1494.3 801.5 L1495.9 801.3 L1497.5 799.8 L1499.1 800.5 L1500.7 798.7 L1502.3 798.2 L1503.9 798.2 L1505.5 798.2 L1507.1 797.6 L1508.7 797.4 L1510.3 796.6 L1511.9 795.6 L1513.5 795.2 L1515.1 795.3 L1516.7 794.1 L1518.3 794.6 L1519.9 794.3 L1521.5 793.6 L1523.1 792.8 L1524.7 791.8 L1526.3 791.7 L1527.9 791.3 L1529.5 791.1 L1531.1 791.0 L1532.7 790.9 L1534.3 790.3 L1535.9 791.1 L1537.5 790.9 L1539.1 791.1 L1540.7 790.2 L1542.3 790.8 L1543.9 790.9 L1545.5 790.5 L1547.1 790.6 L1548.7 791.3 L1550.3 791.0 L1551.9 791.5 L1553.5 790.9 L1555.1 791.5 L1556.7 791.6 L1558.3 791.6 L1559.9 792.0 L1561.5 791.9 L1563.1 791.8 L1564.7 791.9 L1566.3 793.0 L1567.9 792.3 L1569.5 793.1 L1571.1 793.2 L1572.7 794.1 L1574.3 795.0 L1575.9 794.4 L1577.5 795.5 L1579.1 795.9 L1580.7 796.0 L1582.3 795.7 L1583.9 797.0 L1585.5 796.8 L1587.1 797.7 L1588.7 797.6 L1590.3 798.7 L1591.9 798.8 L1593.5 798.4 L1595.1 798.9 L1596.7 800.4 L1598.3 800.0 L1599.9 800.5 L1601.5 800.5 L1603.1 802.0 L1604.7 802.8 L1606.3 803.5 L1607.9 803.0 L1609.5 804.6 L1611.1 804.2 L1612.7 805.1 L1614.3 805.7 L1615.9 806.6 L1617.5 807.1 L1619.1 807.7 L1620.7 808.2 L1622.3 809.4 L1623.9 808.7 L1625.5 809.1 L1627.1 810.5 L1628.7 810.1 L1630.3 811.2 L1631.9 812.0 L1633.5 811.0 L1635.1 812.6 L1636.7 811.8 L1638.3 812.9 L1639.9 813.1 L1641.5 813.9 L1643.1 814.3 L1644.7 813.4 L1646.3 813.7 L1647.9 814.8 L1649.5 815.1 L1651.1 814.4 L1652.7 815.4 L1654.3 814.8 L1655.9 815.5 L1657.5 816.5 L1659.1 816.4 L1660.7 816.3 L1662.3 816.0 L1663.9 816.8 L1665.5 816.6 L1667.1 815.4 L1668.7 816.3 L1670.3 816.0 L1671.9 815.5 L1673.5 815.2 L1675.1 814.8 L1676.7 814.3 L1678.3 814.7 L1679.9 814.2 L1681.5 812.9 L1683.1 813.4 L1684.7 813.0 L1686.3 812.4 L1687.9 811.1 L1689.5 810.8 L1691.1 810.2 L1692.7 810.7 L1694.3 810.2 L1695.9 809.2 L1697.5 807.9 L1699.1 807.3 L1700.7 807.1 L1702.3 806.1 L1703.9 806.2 L1705.5 805.1 L1707.1 804.2 L1708.7 803.6 L1710.3 803.1 L1711.9 803.0 L1713.5 801.7 L1715.1 801.3 L1716.7 800.3 L1718.3 799.2 L1719.9 798.5 L1721.5 798.0 L1723.1 797.3 L1724.7 796.3 L1726.3 796.7 L1727.9 795.4 L1729.5 794.3 L1731.1 794.4 L1732.7 792.8 L1734.3 791.8 L1735.9 791.3 L1737.5 791.1 L1739.1 789.7 L1740.7 789.0 L1742.3 789.4 L1743.9 788.2 L1745.5 788.0 L1747.1 787.7 L1748.7 786.2 L1750.3 786.2 L1751.9 785.0 L1753.5 785.9 L1755.1 785.3 L1756.7 784.6 L1758.3 783.5 L1759.9 784.3 L1761.5 782.4 L1763.1 782.7 L1764.7 783.2 L1766.3 781.9 L1767.9 782.3 L1769.5 782.3 L1771.1 781.6 L1772.7 780.7 L1774.3 781.4 L1775.9 780.3 L1777.5 780.9 L1779.1 779.3 L1780.7 780.4 L1782.3 779.9 L1783.9 778.5 L1785.5 779.3 L1787.1 778.4 L1788.7 778.7 L1790.3 778.5 L1791.9 777.7 L1793.5 778.6 L1795.1 778.7 L1796.7 778.0 L1798.3 777.6 L1799.9 777.9 L1801.5 777.3 L1803.1 777.5 L1804.7 777.1 L1806.3 776.6 L1807.9 777.6 L1809.5 776.7 L1811.1 776.2 L1812.7 776.0 L1814.3 776.7 L1815.9 776.1 L1817.5 777.0 L1819.1 776.0 L1820.7 775.9 L1822.3 776.1 L1823.9 777.3 L1825.5 777.2 L1827.1 777.6 L1828.7 777.6 L1830.3 776.8 L1831.9 777.4 L1833.5 777.6 L1835.1 777.5 L1836.7 777.9 L1838.3 778.2 L1839.9 778.3 L1841.5 779.9 L1843.1 780.4 L1844.7 779.8 L1846.3 780.7 L1847.9 781.3 L1849.5 782.6 L1851.1 782.7 L1852.7 783.2 L1854.3 783.5 L1855.9 784.7 L1857.5 785.8 L1859.1 786.6 L1860.7 785.7 L1862.3 787.2 L1863.9 787.2 L1865.5 789.1 L1867.1 789.5 L1868.7 789.8 L1870.3 790.4 L1871.9 790.7 L1873.5 792.8 L1875.1 793.6 L1876.7 794.4 L1878.3 795.1 L1879.9 794.5 L1881.5 796.7 L1883.1 796.2 L1884.7 798.5 L1886.3 799.1 L1887.9 800.2 L1889.5 801.0 L1891.1 802.2 L1892.7 803.1 L1894.3 804.5 L1895.9 804.3 L1897.5 806.6 L1899.1 808.1 L1900.7 809.5 L1902.3 809.5 L1903.9 811.6 L1905.5 813.1 L1907.1 813.9 L1908.7 815.6 L1910.3 817.6 L1911.9 819.2 L1913.5 820.0 L1915.1 821.7 L1916.7 821.7 L1918.3 823.5 L1919.9 824.3 L1921.5 825.7 L1923.1 827.6 L1924.7 829.1 L1926.3 829.8 L1927.9 831.7 L1929.5 833.3 L1931.1 834.4 L1932.7 835.4 L1934.3 836.8 L1935.9 837.5 L1937.5 839.1 L1939.1 840.4 L1940.7 840.6 L1942.3 841.8 L1943.9 843.5 L1945.5 845.4 L1947.1 846.0 L1948.7 847.8 L1950.3 848.1 L1951.9 849.2 L1953.5 851.3 L1955.1 851.5 L1956.7 852.8 L1958.3 854.3 L1959.9 854.5 L1961.5 855.0 L1963.1 856.8 L1964.7 857.5 L1966.3 858.7 L1967.9 859.5 L1969.5 861.1 L1971.1 861.9 L1972.7 863.4 L1974.3 863.6 L1975.9 864.3 L1977.5 865.6 L1979.1 866.6 L1980.7 867.5 L1982.3 866.9 L1983.9 866.9 L1985.5 867.6 L1987.1 868.2 L1988.7 868.0 L1990.3 868.4 L1991.9 868.0 L1993.5 867.7 L1994.9 868.2" fill="none" stroke="#ed1c24" stroke-width="2.5" stroke-linejoin="round"/>
<path d="M1482.2 880.9 L1484.6 878.5 L1486.5 884.0 L1489.4 876.9 L1491.8 881.6 L1494.7 879.2 L1497.8 880.9 L1501.4 877.8 L1505.0 876.1 L1508.6 878.5 L1512.9 878.5 L1515.3 858.6 L1518.2 877.8 L1521.0 871.3 L1524.2 873.0 L1526.5 868.9 L1528.2 881.6 L1530.6 867.7 L1533.0 871.3 L1537.3 864.9 L1540.9 865.8 L1544.5 863.0 L1549.3 862.0 L1553.6 858.2 L1556.0 852.4 L1558.9 855.8 L1563.7 853.4 L1566.6 849.1 L1570.9 848.6 L1570.9 848.1 L1572.5 846.8 L1574.1 845.0 L1575.7 844.4 L1577.3 842.1 L1578.9 841.4 L1580.5 840.4 L1582.1 840.3 L1583.7 838.8 L1585.3 838.9 L1586.9 836.7 L1588.5 836.7 L1590.1 836.1 L1591.7 835.0 L1593.3 833.0 L1594.9 831.7 L1596.5 831.9 L1598.1 831.1 L1599.7 829.7 L1601.3 828.0 L1602.9 827.8 L1604.5 826.6 L1606.1 825.1 L1607.7 824.5 L1609.3 823.1 L1610.9 822.3 L1612.5 821.5 L1614.1 819.5 L1615.7 819.8 L1617.3 818.8 L1618.9 817.3 L1620.0 816.7 L1621.7 805.4 L1623.6 814.5 L1627.2 812.6 L1627.2 812.7 L1628.8 812.6 L1630.4 811.6 L1632.0 810.1 L1633.6 809.3 L1635.2 809.3 L1636.8 807.7 L1638.4 807.4 L1640.0 807.0 L1641.6 806.0 L1643.2 804.6 L1644.8 805.3 L1646.4 804.6 L1648.0 803.0 L1649.6 802.7 L1651.2 802.5 L1652.8 801.5 L1654.4 799.3 L1656.0 798.8 L1657.6 797.9 L1659.2 797.9 L1660.8 796.8 L1662.4 795.2 L1664.0 794.3 L1665.6 795.2 L1667.2 793.5 L1668.8 793.6 L1670.4 793.3 L1672.0 794.1 L1673.6 793.8 L1675.2 794.4 L1676.8 794.1 L1678.4 792.8 L1680.0 793.1 L1681.6 791.9 L1683.2 791.2 L1684.8 791.8 L1686.4 790.5 L1688.0 789.2 L1689.6 789.1 L1691.2 788.4 L1692.8 787.9 L1694.4 787.0 L1696.0 786.1 L1697.6 784.7 L1699.2 784.3 L1700.8 784.2 L1702.4 783.6 L1704.0 783.3 L1705.6 783.7 L1707.2 783.3 L1708.8 782.3 L1710.4 782.5 L1712.0 782.3 L1713.6 781.0 L1715.2 780.5 L1716.8 780.9 L1718.4 781.4 L1720.0 780.0 L1721.6 779.9 L1723.2 780.8 L1724.8 779.3 L1726.4 780.3 L1728.0 779.0 L1729.6 779.4 L1731.2 779.7 L1732.8 778.4 L1734.4 778.5 L1736.0 779.2 L1737.6 777.9 L1739.2 777.7 L1740.8 778.3 L1742.4 778.5 L1744.0 777.8 L1745.6 777.2 L1747.2 778.1 L1748.8 777.3 L1750.4 777.3 L1752.0 777.8 L1753.6 778.9 L1755.2 778.8 L1756.8 778.3 L1758.4 778.0 L1760.0 778.2 L1761.6 779.0 L1763.2 779.2 L1764.8 779.4 L1766.4 779.0 L1768.0 780.4 L1769.6 780.4 L1771.2 781.0 L1772.8 780.9 L1774.4 780.7 L1776.0 782.0 L1777.6 782.1 L1779.2 781.9 L1780.8 782.5 L1782.4 783.6 L1784.0 784.8 L1785.6 784.7 L1787.2 785.5 L1788.8 785.9 L1790.4 785.9 L1792.0 786.6 L1793.6 786.6 L1795.2 787.3 L1796.8 788.5 L1798.4 789.2 L1800.0 789.0 L1801.6 790.4 L1803.2 790.9 L1804.8 792.1 L1806.4 792.5 L1808.0 792.6 L1809.6 793.4 L1811.2 793.3 L1812.8 795.4 L1814.4 796.0 L1816.0 796.3 L1817.6 796.6 L1819.2 798.0 L1820.8 798.6 L1822.4 799.9 L1824.0 800.5 L1825.6 801.4 L1827.2 802.6 L1828.8 804.4 L1830.4 805.6 L1832.0 805.9 L1833.6 807.2 L1835.2 808.6 L1836.8 809.7 L1838.4 810.9 L1840.0 812.5 L1841.6 813.1 L1843.2 814.3 L1844.8 815.9 L1846.4 818.5 L1848.0 819.5 L1849.6 820.6 L1851.2 821.4 L1852.8 824.3 L1854.4 825.6 L1856.0 827.3 L1857.6 828.2 L1859.2 829.4 L1860.8 830.9 L1862.4 833.5 L1864.0 834.2 L1865.6 836.7 L1867.2 838.7 L1868.8 840.2 L1870.4 842.5 L1872.0 844.7 L1873.6 845.3 L1875.2 847.4 L1876.8 849.5 L1878.4 851.9 L1880.0 854.5 L1881.6 856.5 L1883.2 858.7 L1884.8 861.3 L1886.4 862.6 L1888.0 864.8 L1889.6 867.1 L1891.2 870.5 L1892.8 872.1 L1894.4 874.8 L1896.0 877.7 L1897.6 879.0 L1899.2 881.2 L1900.8 884.1 L1902.4 886.7 L1904.0 889.5 L1905.6 891.6 L1907.2 895.0 L1907.6 895.5 L1910.0 900.1 L1912.4 891.7 L1915.5 898.9 L1918.4 906.1 L1920.3 900.1 L1923.2 912.1 L1926.8 910.9 L1930.4 901.3 L1934.7 920.5 L1937.6 903.7 L1941.2 895.3 L1946.0 920.5 L1949.5 898.9 L1952.4 900.1 L1956.3 920.5 L1959.1 912.1 L1961.5 920.5 L1964.4 913.3 L1966.8 904.9 L1968.7 920.5 L1971.1 900.1 L1973.5 920.5 L1975.4 906.1 L1977.1 905.1" fill="none" stroke="#3953a4" stroke-width="2.5" stroke-linejoin="round"/>
<path d="M1980.7 895.3 L1981.9 912.1 L1984.3 895.3 L1986.0 904.9 L1988.4 904.9 L1990.3 884.5 L1992.7 890.5 L1995.1 884.5" fill="none" stroke="#3953a4" stroke-width="1.4" stroke-linejoin="round"/>
<path d="M1481.5 789.9 L1483.1 789.2 L1484.7 789.1 L1486.3 788.0 L1487.9 787.7 L1489.5 787.8 L1491.1 787.7 L1492.7 786.8 L1494.3 786.4 L1495.9 786.4 L1497.5 786.1 L1499.1 785.9 L1500.7 786.1 L1502.3 786.0 L1503.9 785.5 L1505.5 785.0 L1507.1 785.3 L1508.7 785.1 L1510.3 784.9 L1511.9 785.2 L1513.5 785.2 L1515.1 784.6 L1516.7 785.0 L1518.3 785.1 L1519.9 785.4 L1521.5 785.4 L1523.1 785.6 L1524.7 785.4 L1526.3 785.4 L1527.9 785.2 L1529.5 785.5 L1531.1 786.0 L1532.7 786.1 L1534.3 786.0 L1535.9 786.4 L1537.5 786.4 L1539.1 787.1 L1540.7 787.2 L1542.3 787.8 L1543.9 787.5 L1545.5 788.1 L1547.1 788.7 L1548.7 788.7 L1550.3 789.1 L1551.9 789.8 L1553.5 790.4 L1555.1 791.3 L1556.7 791.3 L1558.3 792.2 L1559.9 793.0 L1561.5 793.6 L1563.1 793.3 L1564.7 794.9 L1566.3 795.5 L1567.9 796.0 L1569.5 796.2 L1571.1 797.4 L1572.7 798.4 L1574.3 798.9 L1575.9 799.4 L1577.5 800.4 L1579.1 801.5 L1580.7 801.6 L1582.3 802.4 L1583.9 804.2 L1585.5 804.4 L1587.1 805.5 L1588.7 806.3 L1590.3 807.6 L1591.9 808.7 L1593.5 809.4 L1595.1 811.0 L1596.7 812.1 L1598.3 812.7 L1599.9 814.2 L1601.5 815.7 L1603.1 816.7 L1604.7 817.3 L1606.3 819.2 L1607.9 820.8 L1609.5 821.5 L1611.1 822.7 L1612.7 824.4 L1614.3 826.1 L1615.9 827.2 L1617.5 829.2 L1619.1 830.3 L1620.7 832.7 L1622.3 833.6 L1623.9 835.4 L1625.5 837.5 L1627.1 839.3 L1628.7 841.6 L1630.3 842.8 L1631.9 845.6 L1633.5 847.3 L1635.1 849.8 L1636.7 852.0 L1638.3 853.9 L1639.9 856.1 L1641.5 859.1 L1643.1 861.1 L1644.7 863.5 L1646.3 866.3 L1647.9 868.4 L1649.5 870.6 L1651.1 873.0 L1652.7 875.1 L1654.3 877.6 L1655.9 879.8 L1657.5 883.3 L1659.1 885.3 L1660.7 888.2 L1662.3 890.7 L1663.9 893.2 L1665.5 896.5 L1667.1 899.6 L1668.7 902.4 L1670.3 906.6 L1671.9 909.7 L1673.5 913.8 L1675.1 917.1 L1676.3 920.5 L1680.0 936.0 L1684.7 931.2 L1687.9 946.8 L1690.7 961.2 L1695.5 972.0 L1697.4 973.2 L1699.1 985.2 L1701.5 956.4 L1703.7 987.6 L1705.8 1023.5 L1708.7 992.4 L1712.3 978.0 L1716.4 1005.5 L1719.5 978.0 L1721.9 975.6 L1724.8 963.6 L1727.9 972.0 L1730.3 968.4 L1733.4 993.6 L1736.7 960.0 L1739.9 985.2 L1742.3 951.6 L1744.7 963.6 L1748.3 946.8 L1751.8 946.8 L1755.4 931.2 L1759.0 926.5 L1763.8 912.1 L1767.4 904.9 L1769.8 906.1 L1773.4 896.5 L1777.0 886.9 L1777.0 887.4 L1778.6 883.5 L1780.2 879.8 L1781.8 876.5 L1783.4 873.8 L1785.0 870.7 L1786.6 868.8 L1788.2 866.0 L1789.8 863.8 L1791.4 861.2 L1793.0 859.1 L1794.6 856.6 L1796.2 854.9 L1797.8 853.0 L1799.4 850.5 L1801.0 849.1 L1802.6 847.0 L1804.2 845.7 L1805.8 843.6 L1807.4 842.6 L1809.0 840.7 L1810.6 839.3 L1812.2 837.8 L1813.8 837.2 L1815.4 835.2 L1817.0 833.8 L1818.6 831.6 L1820.2 830.6 L1821.8 828.4 L1823.4 826.4 L1825.0 824.3 L1826.6 823.1 L1828.2 821.1 L1829.8 819.2 L1831.4 817.7 L1833.0 816.9 L1834.6 816.1 L1836.2 815.6 L1837.8 815.0 L1839.4 814.2 L1841.0 812.5 L1842.6 812.2 L1844.2 810.7 L1845.8 809.6 L1847.4 808.8 L1849.0 807.3 L1850.6 805.2 L1852.2 804.1 L1853.8 802.5 L1855.4 802.1 L1857.0 800.4 L1858.6 800.2 L1860.2 798.4 L1861.8 797.8 L1863.4 797.3 L1865.0 796.2 L1866.6 795.5 L1868.2 794.6 L1869.8 793.9 L1871.4 792.7 L1873.0 791.8 L1874.6 791.6 L1876.2 790.7 L1877.8 789.3 L1879.4 789.6 L1881.0 788.4 L1882.6 787.7 L1884.2 787.8 L1885.8 786.8 L1887.4 786.0 L1889.0 785.3 L1890.6 785.3 L1892.2 785.5 L1893.8 784.8 L1895.4 785.4 L1897.0 785.1 L1898.6 784.2 L1900.2 784.8 L1901.8 784.1 L1903.4 784.1 L1905.0 783.6 L1906.6 784.3 L1908.2 783.9 L1909.8 783.7 L1911.4 782.8 L1913.0 783.4 L1914.6 782.7 L1916.2 783.6 L1917.8 782.7 L1919.4 783.3 L1921.0 782.8 L1922.6 783.6 L1924.2 782.7 L1925.8 783.7 L1927.4 783.6 L1929.0 783.4 L1930.6 783.0 L1932.2 784.1 L1933.8 783.2 L1935.4 783.7 L1937.0 784.2 L1938.6 783.4 L1940.2 783.7 L1941.8 784.6 L1943.4 784.3 L1945.0 784.1 L1946.6 784.4 L1948.2 785.2 L1949.8 785.7 L1951.4 785.7 L1953.0 785.4 L1954.6 786.2 L1956.2 786.2 L1957.8 786.2 L1959.4 787.0 L1961.0 787.0 L1962.6 787.7 L1964.2 787.8 L1965.8 788.9 L1967.4 789.3 L1969.0 790.2 L1970.6 790.6 L1972.2 791.2 L1973.8 792.7 L1975.4 792.7 L1977.0 793.3 L1978.6 795.1 L1980.2 796.0 L1981.8 796.4 L1983.4 796.9 L1985.0 798.6 L1986.6 798.4 L1988.2 800.3 L1989.8 800.1 L1991.4 801.3 L1993.0 802.4 L1994.6 803.1 L1994.9 803.9" fill="none" stroke="#0f8140" stroke-width="2.5" stroke-linejoin="round"/>
<line x1="1750" y1="734.9" x2="1750" y2="1167" stroke="#000" stroke-width="3.9" stroke-dasharray="11.9 4.3"/>
<rect x="1772.8" y="1021.2" width="217.50" height="140.80" rx="3.5" fill="#fff" stroke="#cbcbcb" stroke-width="2.2"/>
<line x1="1777.2" y1="1043.2" x2="1795" y2="1043.2" stroke="#ed1c24" stroke-width="2.7"/>
<text transform="translate(1797.42 1054.80) scale(0.9735 1)" font-size="37.60" font-family="Liberation Sans, sans-serif" font-weight="bold" fill="#000" >Mid</text>
<line x1="1777.2" y1="1093" x2="1795" y2="1093" stroke="#3953a4" stroke-width="2.7"/>
<text transform="translate(1797.47 1105.70) scale(0.9528 1)" font-size="37.60" font-family="Liberation Sans, sans-serif" font-weight="bold" fill="#000" >Mid to max</text>
<line x1="1777.2" y1="1142" x2="1795" y2="1142" stroke="#0f8140" stroke-width="2.7"/>
<text transform="translate(1797.45 1154.20) scale(0.9613 1)" font-size="37.60" font-family="Liberation Sans, sans-serif" font-weight="bold" fill="#000" >Mid to min</text>
<text transform="translate(1427.57 744.00) scale(0.9594 1)" font-size="42.60" font-family="Liberation Sans, sans-serif" font-weight="bold" fill="#000"><tspan x="-16.57" dy="-3.82" font-size="49.35" font-weight="normal">-</tspan><tspan x="0" dy="3.82">20</tspan></text>
<text transform="translate(1428.40 890.00) scale(0.9412 1)" font-size="42.60" font-family="Liberation Sans, sans-serif" font-weight="bold" fill="#000"><tspan x="-17.77" dy="-3.57" font-size="50.31" font-weight="normal">-</tspan><tspan x="0" dy="3.57">40</tspan></text>
<text transform="translate(1427.57 1035.80) scale(0.9594 1)" font-size="42.60" font-family="Liberation Sans, sans-serif" font-weight="bold" fill="#000"><tspan x="-16.57" dy="-3.82" font-size="49.35" font-weight="normal">-</tspan><tspan x="0" dy="3.82">60</tspan></text>
<text transform="translate(1427.78 1181.00) scale(0.9548 1)" font-size="42.60" font-family="Liberation Sans, sans-serif" font-weight="bold" fill="#000"><tspan x="-16.87" dy="-3.76" font-size="49.59" font-weight="normal">-</tspan><tspan x="0" dy="3.76">80</tspan></text>
<text transform="translate(1488.24 1216.50) scale(0.9715 1)" font-size="42.60" font-family="Liberation Sans, sans-serif" font-weight="bold" fill="#000" >782</text>
<text transform="translate(1691.84 1216.50) scale(0.9720 1)" font-size="42.60" font-family="Liberation Sans, sans-serif" font-weight="bold" fill="#000" >782.53</text>
<text transform="translate(1916.34 1216.50) scale(0.9729 1)" font-size="42.60" font-family="Liberation Sans, sans-serif" font-weight="bold" fill="#000" >783</text>
<text transform="translate(1574.40 1271.80) scale(0.9570 1)" font-size="47.60" font-family="Liberation Sans, sans-serif" font-weight="bold" fill="#000" >Wavelength [nm]</text>
<text transform="translate(1405.50 1074.06) rotate(-90) scale(0.9753 1)" font-size="48.20" font-family="Liberation Sans, sans-serif" font-weight="bold" fill="#000">Power [dbm]</text>
<text transform="translate(1330.86 693.50) scale(1.0210 1)" font-size="42.00" font-family="Liberation Sans, sans-serif" font-weight="bold" fill="#000" >(d)</text></g>
<g id="panel-e"><g shape-rendering="crispEdges">
<rect x="121.85" y="1367.60" width="31.16" height="42.73" fill="#f7921e"/>
<rect x="152.41" y="1367.60" width="31.16" height="42.73" fill="#40a9de"/>
<rect x="182.97" y="1367.60" width="31.16" height="42.73" fill="#2c3188"/>
<rect x="213.53" y="1367.60" width="31.16" height="42.73" fill="#2b2d7f"/>
<rect x="244.09" y="1367.60" width="31.16" height="42.73" fill="#2b2c7a"/>
<rect x="274.65" y="1367.60" width="31.16" height="42.73" fill="#2b2c7a"/>
<rect x="305.21" y="1367.60" width="31.16" height="42.73" fill="#2e378f"/>
<rect x="335.77" y="1367.60" width="31.16" height="42.73" fill="#3a51a3"/>
<rect x="366.33" y="1367.60" width="31.16" height="42.73" fill="#437cbf"/>
<rect x="396.89" y="1367.60" width="31.16" height="42.73" fill="#9acb5b"/>
<rect x="427.45" y="1367.60" width="31.16" height="42.73" fill="#f7921e"/>
<rect x="458.00" y="1367.60" width="31.16" height="42.73" fill="#ee3d24"/>
<rect x="488.56" y="1367.60" width="31.16" height="42.73" fill="#fcb315"/>
<rect x="519.12" y="1367.60" width="31.16" height="42.73" fill="#38bcea"/>
<rect x="549.68" y="1367.60" width="31.16" height="42.73" fill="#3b54a5"/>
<rect x="580.24" y="1367.60" width="31.16" height="42.73" fill="#2c3188"/>
<rect x="610.80" y="1367.60" width="31.16" height="42.73" fill="#2b2c7a"/>
<rect x="641.36" y="1367.60" width="31.16" height="42.73" fill="#2e3a92"/>
<rect x="671.92" y="1367.60" width="31.16" height="42.73" fill="#4271b7"/>
<rect x="702.48" y="1367.60" width="31.16" height="42.73" fill="#9ecc54"/>
<rect x="733.04" y="1367.60" width="31.16" height="42.73" fill="#f04d23"/>
<rect x="121.85" y="1409.73" width="31.16" height="42.73" fill="#91ca6d"/>
<rect x="152.41" y="1409.73" width="31.16" height="42.73" fill="#3a51a3"/>
<rect x="182.97" y="1409.73" width="31.16" height="42.73" fill="#2b2c7a"/>
<rect x="213.53" y="1409.73" width="31.16" height="42.73" fill="#2b2d7f"/>
<rect x="244.09" y="1409.73" width="31.16" height="42.73" fill="#2c3188"/>
<rect x="274.65" y="1409.73" width="31.16" height="42.73" fill="#394ea1"/>
<rect x="305.21" y="1409.73" width="31.16" height="42.73" fill="#3b54a5"/>
<rect x="335.77" y="1409.73" width="31.16" height="42.73" fill="#38bcea"/>
<rect x="366.33" y="1409.73" width="31.16" height="42.73" fill="#a3ce4d"/>
<rect x="396.89" y="1409.73" width="31.16" height="42.73" fill="#fcb315"/>
<rect x="427.45" y="1409.73" width="31.16" height="42.73" fill="#f7921e"/>
<rect x="458.00" y="1409.73" width="31.16" height="42.73" fill="#d6df23"/>
<rect x="488.56" y="1409.73" width="31.16" height="42.73" fill="#6ecbce"/>
<rect x="519.12" y="1409.73" width="31.16" height="42.73" fill="#3a51a3"/>
<rect x="549.68" y="1409.73" width="31.16" height="42.73" fill="#2e378f"/>
<rect x="580.24" y="1409.73" width="31.16" height="42.73" fill="#2b2d7f"/>
<rect x="610.80" y="1409.73" width="31.16" height="42.73" fill="#2f3e96"/>
<rect x="641.36" y="1409.73" width="31.16" height="42.73" fill="#3b54a5"/>
<rect x="671.92" y="1409.73" width="31.16" height="42.73" fill="#81c990"/>
<rect x="702.48" y="1409.73" width="31.16" height="42.73" fill="#f37321"/>
<rect x="733.04" y="1409.73" width="31.16" height="42.73" fill="#ef4523"/>
<rect x="121.85" y="1451.86" width="31.16" height="42.73" fill="#7acaa6"/>
<rect x="152.41" y="1451.86" width="31.16" height="42.73" fill="#3b54a5"/>
<rect x="182.97" y="1451.86" width="31.16" height="42.73" fill="#2b2c7a"/>
<rect x="213.53" y="1451.86" width="31.16" height="42.73" fill="#2b2d7f"/>
<rect x="244.09" y="1451.86" width="31.16" height="42.73" fill="#2e378f"/>
<rect x="274.65" y="1451.86" width="31.16" height="42.73" fill="#3a51a3"/>
<rect x="305.21" y="1451.86" width="31.16" height="42.73" fill="#3cb2e4"/>
<rect x="335.77" y="1451.86" width="31.16" height="42.73" fill="#95cb64"/>
<rect x="366.33" y="1451.86" width="31.16" height="42.73" fill="#fcb315"/>
<rect x="396.89" y="1451.86" width="31.16" height="42.73" fill="#ee3d24"/>
<rect x="427.45" y="1451.86" width="31.16" height="42.73" fill="#f6891f"/>
<rect x="458.00" y="1451.86" width="31.16" height="42.73" fill="#8cca76"/>
<rect x="488.56" y="1451.86" width="31.16" height="42.73" fill="#3b54a5"/>
<rect x="519.12" y="1451.86" width="31.16" height="42.73" fill="#2e378f"/>
<rect x="549.68" y="1451.86" width="31.16" height="42.73" fill="#2a2a75"/>
<rect x="580.24" y="1451.86" width="31.16" height="42.73" fill="#2c2f84"/>
<rect x="610.80" y="1451.86" width="31.16" height="42.73" fill="#3a51a3"/>
<rect x="641.36" y="1451.86" width="31.16" height="42.73" fill="#84c988"/>
<rect x="671.92" y="1451.86" width="31.16" height="42.73" fill="#f58120"/>
<rect x="702.48" y="1451.86" width="31.16" height="42.73" fill="#7f1518"/>
<rect x="733.04" y="1451.86" width="31.16" height="42.73" fill="#ed2024"/>
<rect x="121.85" y="1493.98" width="31.16" height="42.73" fill="#c4d82d"/>
<rect x="152.41" y="1493.98" width="31.16" height="42.73" fill="#3c57a6"/>
<rect x="182.97" y="1493.98" width="31.16" height="42.73" fill="#2b2c7a"/>
<rect x="213.53" y="1493.98" width="31.16" height="42.73" fill="#2b2c7a"/>
<rect x="244.09" y="1493.98" width="31.16" height="42.73" fill="#2c3188"/>
<rect x="274.65" y="1493.98" width="31.16" height="42.73" fill="#35479c"/>
<rect x="305.21" y="1493.98" width="31.16" height="42.73" fill="#3c59a8"/>
<rect x="335.77" y="1493.98" width="31.16" height="42.73" fill="#36c4ef"/>
<rect x="366.33" y="1493.98" width="31.16" height="42.73" fill="#b7d433"/>
<rect x="396.89" y="1493.98" width="31.16" height="42.73" fill="#f47a20"/>
<rect x="427.45" y="1493.98" width="31.16" height="42.73" fill="#f26c21"/>
<rect x="458.00" y="1493.98" width="31.16" height="42.73" fill="#c4d82d"/>
<rect x="488.56" y="1493.98" width="31.16" height="42.73" fill="#4275ba"/>
<rect x="519.12" y="1493.98" width="31.16" height="42.73" fill="#374b9f"/>
<rect x="549.68" y="1493.98" width="31.16" height="42.73" fill="#2a2a75"/>
<rect x="580.24" y="1493.98" width="31.16" height="42.73" fill="#2a2a75"/>
<rect x="610.80" y="1493.98" width="31.16" height="42.73" fill="#374b9f"/>
<rect x="641.36" y="1493.98" width="31.16" height="42.73" fill="#3cb2e4"/>
<rect x="671.92" y="1493.98" width="31.16" height="42.73" fill="#cada29"/>
<rect x="702.48" y="1493.98" width="31.16" height="42.73" fill="#ee2e24"/>
<rect x="733.04" y="1493.98" width="31.16" height="42.73" fill="#ee3524"/>
<rect x="121.85" y="1536.11" width="31.16" height="42.73" fill="#fcb315"/>
<rect x="152.41" y="1536.11" width="31.16" height="42.73" fill="#4497d2"/>
<rect x="182.97" y="1536.11" width="31.16" height="42.73" fill="#2d348b"/>
<rect x="213.53" y="1536.11" width="31.16" height="42.73" fill="#2c2f84"/>
<rect x="244.09" y="1536.11" width="31.16" height="42.73" fill="#2b2c7a"/>
<rect x="274.65" y="1536.11" width="31.16" height="42.73" fill="#2b2d7f"/>
<rect x="305.21" y="1536.11" width="31.16" height="42.73" fill="#2e3a92"/>
<rect x="335.77" y="1536.11" width="31.16" height="42.73" fill="#3a51a3"/>
<rect x="366.33" y="1536.11" width="31.16" height="42.73" fill="#40a9de"/>
<rect x="396.89" y="1536.11" width="31.16" height="42.73" fill="#b2d238"/>
<rect x="427.45" y="1536.11" width="31.16" height="42.73" fill="#faa21a"/>
<rect x="458.00" y="1536.11" width="31.16" height="42.73" fill="#f6891f"/>
<rect x="488.56" y="1536.11" width="31.16" height="42.73" fill="#add13f"/>
<rect x="519.12" y="1536.11" width="31.16" height="42.73" fill="#3c57a6"/>
<rect x="549.68" y="1536.11" width="31.16" height="42.73" fill="#35479c"/>
<rect x="580.24" y="1536.11" width="31.16" height="42.73" fill="#2b2d7f"/>
<rect x="610.80" y="1536.11" width="31.16" height="42.73" fill="#2c2f84"/>
<rect x="641.36" y="1536.11" width="31.16" height="42.73" fill="#3a51a3"/>
<rect x="671.92" y="1536.11" width="31.16" height="42.73" fill="#38bcea"/>
<rect x="702.48" y="1536.11" width="31.16" height="42.73" fill="#e2e119"/>
<rect x="733.04" y="1536.11" width="31.16" height="42.73" fill="#ee3d24"/>
<rect x="121.85" y="1578.24" width="31.16" height="42.73" fill="#f05523"/>
<rect x="152.41" y="1578.24" width="31.16" height="42.73" fill="#3c59a8"/>
<rect x="182.97" y="1578.24" width="31.16" height="42.73" fill="#2e3a92"/>
<rect x="213.53" y="1578.24" width="31.16" height="42.73" fill="#2c2f84"/>
<rect x="244.09" y="1578.24" width="31.16" height="42.73" fill="#2b2c7a"/>
<rect x="274.65" y="1578.24" width="31.16" height="42.73" fill="#2b2c7a"/>
<rect x="305.21" y="1578.24" width="31.16" height="42.73" fill="#2a2a75"/>
<rect x="335.77" y="1578.24" width="31.16" height="42.73" fill="#2d348b"/>
<rect x="366.33" y="1578.24" width="31.16" height="42.73" fill="#3a51a3"/>
<rect x="396.89" y="1578.24" width="31.16" height="42.73" fill="#72cac1"/>
<rect x="427.45" y="1578.24" width="31.16" height="42.73" fill="#faa21a"/>
<rect x="458.00" y="1578.24" width="31.16" height="42.73" fill="#ee3524"/>
<rect x="488.56" y="1578.24" width="31.16" height="42.73" fill="#faa21a"/>
<rect x="519.12" y="1578.24" width="31.16" height="42.73" fill="#88ca7f"/>
<rect x="549.68" y="1578.24" width="31.16" height="42.73" fill="#3b54a5"/>
<rect x="580.24" y="1578.24" width="31.16" height="42.73" fill="#2c3188"/>
<rect x="610.80" y="1578.24" width="31.16" height="42.73" fill="#2a2a75"/>
<rect x="641.36" y="1578.24" width="31.16" height="42.73" fill="#2c3188"/>
<rect x="671.92" y="1578.24" width="31.16" height="42.73" fill="#3a51a3"/>
<rect x="702.48" y="1578.24" width="31.16" height="42.73" fill="#76cab5"/>
<rect x="733.04" y="1578.24" width="31.16" height="42.73" fill="#ef4523"/>
<rect x="121.85" y="1620.37" width="31.16" height="42.73" fill="#fdbc12"/>
<rect x="152.41" y="1620.37" width="31.16" height="42.73" fill="#3cb2e4"/>
<rect x="182.97" y="1620.37" width="31.16" height="42.73" fill="#2d348b"/>
<rect x="213.53" y="1620.37" width="31.16" height="42.73" fill="#2c2f84"/>
<rect x="244.09" y="1620.37" width="31.16" height="42.73" fill="#2b2c7a"/>
<rect x="274.65" y="1620.37" width="31.16" height="42.73" fill="#2b2c7a"/>
<rect x="305.21" y="1620.37" width="31.16" height="42.73" fill="#2c2f84"/>
<rect x="335.77" y="1620.37" width="31.16" height="42.73" fill="#374b9f"/>
<rect x="366.33" y="1620.37" width="31.16" height="42.73" fill="#3d5caa"/>
<rect x="396.89" y="1620.37" width="31.16" height="42.73" fill="#7fc998"/>
<rect x="427.45" y="1620.37" width="31.16" height="42.73" fill="#fed408"/>
<rect x="458.00" y="1620.37" width="31.16" height="42.73" fill="#f05523"/>
<rect x="488.56" y="1620.37" width="31.16" height="42.73" fill="#fcb315"/>
<rect x="519.12" y="1620.37" width="31.16" height="42.73" fill="#7cc99f"/>
<rect x="549.68" y="1620.37" width="31.16" height="42.73" fill="#3b54a5"/>
<rect x="580.24" y="1620.37" width="31.16" height="42.73" fill="#2c2f84"/>
<rect x="610.80" y="1620.37" width="31.16" height="42.73" fill="#2a2a75"/>
<rect x="641.36" y="1620.37" width="31.16" height="42.73" fill="#2c2f84"/>
<rect x="671.92" y="1620.37" width="31.16" height="42.73" fill="#3c59a8"/>
<rect x="702.48" y="1620.37" width="31.16" height="42.73" fill="#8cca76"/>
<rect x="733.04" y="1620.37" width="31.16" height="42.73" fill="#ef4523"/>
<rect x="121.85" y="1662.50" width="31.16" height="42.73" fill="#b2d238"/>
<rect x="152.41" y="1662.50" width="31.16" height="42.73" fill="#3f63af"/>
<rect x="182.97" y="1662.50" width="31.16" height="42.73" fill="#2b2c7a"/>
<rect x="213.53" y="1662.50" width="31.16" height="42.73" fill="#2b2c7a"/>
<rect x="244.09" y="1662.50" width="31.16" height="42.73" fill="#2c2f84"/>
<rect x="274.65" y="1662.50" width="31.16" height="42.73" fill="#314198"/>
<rect x="305.21" y="1662.50" width="31.16" height="42.73" fill="#3b54a5"/>
<rect x="335.77" y="1662.50" width="31.16" height="42.73" fill="#4271b7"/>
<rect x="366.33" y="1662.50" width="31.16" height="42.73" fill="#7fc998"/>
<rect x="396.89" y="1662.50" width="31.16" height="42.73" fill="#c4d82d"/>
<rect x="427.45" y="1662.50" width="31.16" height="42.73" fill="#fcb315"/>
<rect x="458.00" y="1662.50" width="31.16" height="42.73" fill="#eee30f"/>
<rect x="488.56" y="1662.50" width="31.16" height="42.73" fill="#78caad"/>
<rect x="519.12" y="1662.50" width="31.16" height="42.73" fill="#3f63af"/>
<rect x="549.68" y="1662.50" width="31.16" height="42.73" fill="#2e3a92"/>
<rect x="580.24" y="1662.50" width="31.16" height="42.73" fill="#2b2d7f"/>
<rect x="610.80" y="1662.50" width="31.16" height="42.73" fill="#2c2f84"/>
<rect x="641.36" y="1662.50" width="31.16" height="42.73" fill="#374b9f"/>
<rect x="671.92" y="1662.50" width="31.16" height="42.73" fill="#4497d2"/>
<rect x="702.48" y="1662.50" width="31.16" height="42.73" fill="#a8cf46"/>
<rect x="733.04" y="1662.50" width="31.16" height="42.73" fill="#f99a1c"/>
<rect x="121.85" y="1704.62" width="31.16" height="42.73" fill="#54c8de"/>
<rect x="152.41" y="1704.62" width="31.16" height="42.73" fill="#3b54a5"/>
<rect x="182.97" y="1704.62" width="31.16" height="42.73" fill="#2b2c7a"/>
<rect x="213.53" y="1704.62" width="31.16" height="42.73" fill="#2b2c7a"/>
<rect x="244.09" y="1704.62" width="31.16" height="42.73" fill="#2d348b"/>
<rect x="274.65" y="1704.62" width="31.16" height="42.73" fill="#3a51a3"/>
<rect x="305.21" y="1704.62" width="31.16" height="42.73" fill="#3c59a8"/>
<rect x="335.77" y="1704.62" width="31.16" height="42.73" fill="#70cbc8"/>
<rect x="366.33" y="1704.62" width="31.16" height="42.73" fill="#c4d82d"/>
<rect x="396.89" y="1704.62" width="31.16" height="42.73" fill="#f99a1c"/>
<rect x="427.45" y="1704.62" width="31.16" height="42.73" fill="#fcb315"/>
<rect x="458.00" y="1704.62" width="31.16" height="42.73" fill="#a8cf46"/>
<rect x="488.56" y="1704.62" width="31.16" height="42.73" fill="#3b54a5"/>
<rect x="519.12" y="1704.62" width="31.16" height="42.73" fill="#374b9f"/>
<rect x="549.68" y="1704.62" width="31.16" height="42.73" fill="#2a2a75"/>
<rect x="580.24" y="1704.62" width="31.16" height="42.73" fill="#2a2a75"/>
<rect x="610.80" y="1704.62" width="31.16" height="42.73" fill="#33449a"/>
<rect x="641.36" y="1704.62" width="31.16" height="42.73" fill="#3e5fac"/>
<rect x="671.92" y="1704.62" width="31.16" height="42.73" fill="#95cb64"/>
<rect x="702.48" y="1704.62" width="31.16" height="42.73" fill="#f6891f"/>
<rect x="733.04" y="1704.62" width="31.16" height="42.73" fill="#f7921e"/>
<rect x="121.85" y="1746.75" width="31.16" height="42.73" fill="#81c990"/>
<rect x="152.41" y="1746.75" width="31.16" height="42.73" fill="#374b9f"/>
<rect x="182.97" y="1746.75" width="31.16" height="42.73" fill="#2b2c7a"/>
<rect x="213.53" y="1746.75" width="31.16" height="42.73" fill="#2b2d7f"/>
<rect x="244.09" y="1746.75" width="31.16" height="42.73" fill="#2d348b"/>
<rect x="274.65" y="1746.75" width="31.16" height="42.73" fill="#3a51a3"/>
<rect x="305.21" y="1746.75" width="31.16" height="42.73" fill="#4271b7"/>
<rect x="335.77" y="1746.75" width="31.16" height="42.73" fill="#7acaa6"/>
<rect x="366.33" y="1746.75" width="31.16" height="42.73" fill="#fdbc12"/>
<rect x="396.89" y="1746.75" width="31.16" height="42.73" fill="#f26522"/>
<rect x="427.45" y="1746.75" width="31.16" height="42.73" fill="#f7921e"/>
<rect x="458.00" y="1746.75" width="31.16" height="42.73" fill="#9acb5b"/>
<rect x="488.56" y="1746.75" width="31.16" height="42.73" fill="#3a51a3"/>
<rect x="519.12" y="1746.75" width="31.16" height="42.73" fill="#2f3e96"/>
<rect x="549.68" y="1746.75" width="31.16" height="42.73" fill="#2a2a75"/>
<rect x="580.24" y="1746.75" width="31.16" height="42.73" fill="#2b2c7a"/>
<rect x="610.80" y="1746.75" width="31.16" height="42.73" fill="#374b9f"/>
<rect x="641.36" y="1746.75" width="31.16" height="42.73" fill="#36c4ef"/>
<rect x="671.92" y="1746.75" width="31.16" height="42.73" fill="#c4d82d"/>
<rect x="702.48" y="1746.75" width="31.16" height="42.73" fill="#f05523"/>
<rect x="733.04" y="1746.75" width="31.16" height="42.73" fill="#f58120"/>
<rect x="121.85" y="1788.88" width="31.16" height="42.73" fill="#78caad"/>
<rect x="152.41" y="1788.88" width="31.16" height="42.73" fill="#3c57a6"/>
<rect x="182.97" y="1788.88" width="31.16" height="42.73" fill="#2b2c7a"/>
<rect x="213.53" y="1788.88" width="31.16" height="42.73" fill="#2b2c7a"/>
<rect x="244.09" y="1788.88" width="31.16" height="42.73" fill="#2c2f84"/>
<rect x="274.65" y="1788.88" width="31.16" height="42.73" fill="#33449a"/>
<rect x="305.21" y="1788.88" width="31.16" height="42.73" fill="#3a51a3"/>
<rect x="335.77" y="1788.88" width="31.16" height="42.73" fill="#7cc99f"/>
<rect x="366.33" y="1788.88" width="31.16" height="42.73" fill="#fae504"/>
<rect x="396.89" y="1788.88" width="31.16" height="42.73" fill="#f47a20"/>
<rect x="427.45" y="1788.88" width="31.16" height="42.73" fill="#f6891f"/>
<rect x="458.00" y="1788.88" width="31.16" height="42.73" fill="#bed630"/>
<rect x="488.56" y="1788.88" width="31.16" height="42.73" fill="#448ecb"/>
<rect x="519.12" y="1788.88" width="31.16" height="42.73" fill="#2e378f"/>
<rect x="549.68" y="1788.88" width="31.16" height="42.73" fill="#2a2a75"/>
<rect x="580.24" y="1788.88" width="31.16" height="42.73" fill="#2a2a75"/>
<rect x="610.80" y="1788.88" width="31.16" height="42.73" fill="#374b9f"/>
<rect x="641.36" y="1788.88" width="31.16" height="42.73" fill="#36c4ef"/>
<rect x="671.92" y="1788.88" width="31.16" height="42.73" fill="#a3ce4d"/>
<rect x="702.48" y="1788.88" width="31.16" height="42.73" fill="#f7921e"/>
<rect x="733.04" y="1788.88" width="31.16" height="42.73" fill="#f7921e"/>
<rect x="121.85" y="1831.01" width="31.16" height="42.73" fill="#d6df23"/>
<rect x="152.41" y="1831.01" width="31.16" height="42.73" fill="#3f63af"/>
<rect x="182.97" y="1831.01" width="31.16" height="42.73" fill="#2b2d7f"/>
<rect x="213.53" y="1831.01" width="31.16" height="42.73" fill="#2b2c7a"/>
<rect x="244.09" y="1831.01" width="31.16" height="42.73" fill="#2b2c7a"/>
<rect x="274.65" y="1831.01" width="31.16" height="42.73" fill="#2d348b"/>
<rect x="305.21" y="1831.01" width="31.16" height="42.73" fill="#35479c"/>
<rect x="335.77" y="1831.01" width="31.16" height="42.73" fill="#3e5fac"/>
<rect x="366.33" y="1831.01" width="31.16" height="42.73" fill="#81c990"/>
<rect x="396.89" y="1831.01" width="31.16" height="42.73" fill="#fae504"/>
<rect x="427.45" y="1831.01" width="31.16" height="42.73" fill="#f6891f"/>
<rect x="458.00" y="1831.01" width="31.16" height="42.73" fill="#eee30f"/>
<rect x="488.56" y="1831.01" width="31.16" height="42.73" fill="#45c6e7"/>
<rect x="519.12" y="1831.01" width="31.16" height="42.73" fill="#3a51a3"/>
<rect x="549.68" y="1831.01" width="31.16" height="42.73" fill="#2c3188"/>
<rect x="580.24" y="1831.01" width="31.16" height="42.73" fill="#2b2c7a"/>
<rect x="610.80" y="1831.01" width="31.16" height="42.73" fill="#2e3a92"/>
<rect x="641.36" y="1831.01" width="31.16" height="42.73" fill="#3a51a3"/>
<rect x="671.92" y="1831.01" width="31.16" height="42.73" fill="#70cbc8"/>
<rect x="702.48" y="1831.01" width="31.16" height="42.73" fill="#eee30f"/>
<rect x="733.04" y="1831.01" width="31.16" height="42.73" fill="#f58120"/>
<rect x="121.85" y="1873.14" width="31.16" height="42.73" fill="#f99a1c"/>
<rect x="152.41" y="1873.14" width="31.16" height="42.73" fill="#3f63af"/>
<rect x="182.97" y="1873.14" width="31.16" height="42.73" fill="#2d348b"/>
<rect x="213.53" y="1873.14" width="31.16" height="42.73" fill="#2c2f84"/>
<rect x="244.09" y="1873.14" width="31.16" height="42.73" fill="#2b2c7a"/>
<rect x="274.65" y="1873.14" width="31.16" height="42.73" fill="#2b2c7a"/>
<rect x="305.21" y="1873.14" width="31.16" height="42.73" fill="#2d348b"/>
<rect x="335.77" y="1873.14" width="31.16" height="42.73" fill="#3a51a3"/>
<rect x="366.33" y="1873.14" width="31.16" height="42.73" fill="#4497d2"/>
<rect x="396.89" y="1873.14" width="31.16" height="42.73" fill="#a3ce4d"/>
<rect x="427.45" y="1873.14" width="31.16" height="42.73" fill="#f6891f"/>
<rect x="458.00" y="1873.14" width="31.16" height="42.73" fill="#f26c21"/>
<rect x="488.56" y="1873.14" width="31.16" height="42.73" fill="#d6df23"/>
<rect x="519.12" y="1873.14" width="31.16" height="42.73" fill="#4497d2"/>
<rect x="549.68" y="1873.14" width="31.16" height="42.73" fill="#374b9f"/>
<rect x="580.24" y="1873.14" width="31.16" height="42.73" fill="#2c2f84"/>
<rect x="610.80" y="1873.14" width="31.16" height="42.73" fill="#2b2d7f"/>
<rect x="641.36" y="1873.14" width="31.16" height="42.73" fill="#33449a"/>
<rect x="671.92" y="1873.14" width="31.16" height="42.73" fill="#40a9de"/>
<rect x="702.48" y="1873.14" width="31.16" height="42.73" fill="#9acb5b"/>
<rect x="733.04" y="1873.14" width="31.16" height="42.73" fill="#f6891f"/>
<rect x="121.85" y="1915.27" width="31.16" height="42.73" fill="#ee3524"/>
<rect x="152.41" y="1915.27" width="31.16" height="42.73" fill="#72cac1"/>
<rect x="182.97" y="1915.27" width="31.16" height="42.73" fill="#35479c"/>
<rect x="213.53" y="1915.27" width="31.16" height="42.73" fill="#2d348b"/>
<rect x="244.09" y="1915.27" width="31.16" height="42.73" fill="#2b2c7a"/>
<rect x="274.65" y="1915.27" width="31.16" height="42.73" fill="#2a2a75"/>
<rect x="305.21" y="1915.27" width="31.16" height="42.73" fill="#2a2a75"/>
<rect x="335.77" y="1915.27" width="31.16" height="42.73" fill="#2d348b"/>
<rect x="366.33" y="1915.27" width="31.16" height="42.73" fill="#3a51a3"/>
<rect x="396.89" y="1915.27" width="31.16" height="42.73" fill="#74cabb"/>
<rect x="427.45" y="1915.27" width="31.16" height="42.73" fill="#f6891f"/>
<rect x="458.00" y="1915.27" width="31.16" height="42.73" fill="#df1d26"/>
<rect x="488.56" y="1915.27" width="31.16" height="42.73" fill="#f04d23"/>
<rect x="519.12" y="1915.27" width="31.16" height="42.73" fill="#9ecc54"/>
<rect x="549.68" y="1915.27" width="31.16" height="42.73" fill="#3c57a6"/>
<rect x="580.24" y="1915.27" width="31.16" height="42.73" fill="#2e378f"/>
<rect x="610.80" y="1915.27" width="31.16" height="42.73" fill="#2a2a75"/>
<rect x="641.36" y="1915.27" width="31.16" height="42.73" fill="#2c3188"/>
<rect x="671.92" y="1915.27" width="31.16" height="42.73" fill="#3a51a3"/>
<rect x="702.48" y="1915.27" width="31.16" height="42.73" fill="#74cabb"/>
<rect x="733.04" y="1915.27" width="31.16" height="42.73" fill="#f15d22"/>
<rect x="121.85" y="1957.39" width="31.16" height="42.73" fill="#e91c25"/>
<rect x="152.41" y="1957.39" width="31.16" height="42.73" fill="#7acaa6"/>
<rect x="182.97" y="1957.39" width="31.16" height="42.73" fill="#35479c"/>
<rect x="213.53" y="1957.39" width="31.16" height="42.73" fill="#2e378f"/>
<rect x="244.09" y="1957.39" width="31.16" height="42.73" fill="#2b2c7a"/>
<rect x="274.65" y="1957.39" width="31.16" height="42.73" fill="#2a2a75"/>
<rect x="305.21" y="1957.39" width="31.16" height="42.73" fill="#2a2a75"/>
<rect x="335.77" y="1957.39" width="31.16" height="42.73" fill="#2c3188"/>
<rect x="366.33" y="1957.39" width="31.16" height="42.73" fill="#3a51a3"/>
<rect x="396.89" y="1957.39" width="31.16" height="42.73" fill="#38bcea"/>
<rect x="427.45" y="1957.39" width="31.16" height="42.73" fill="#eee30f"/>
<rect x="458.00" y="1957.39" width="31.16" height="42.73" fill="#cb1f29"/>
<rect x="488.56" y="1957.39" width="31.16" height="42.73" fill="#df1d26"/>
<rect x="519.12" y="1957.39" width="31.16" height="42.73" fill="#9ecc54"/>
<rect x="549.68" y="1957.39" width="31.16" height="42.73" fill="#40a9de"/>
<rect x="580.24" y="1957.39" width="31.16" height="42.73" fill="#374b9f"/>
<rect x="610.80" y="1957.39" width="31.16" height="42.73" fill="#2a2a75"/>
<rect x="641.36" y="1957.39" width="31.16" height="42.73" fill="#2a2a75"/>
<rect x="671.92" y="1957.39" width="31.16" height="42.73" fill="#374b9f"/>
<rect x="702.48" y="1957.39" width="31.16" height="42.73" fill="#78caad"/>
<rect x="733.04" y="1957.39" width="31.16" height="42.73" fill="#fbab18"/>
<rect x="121.85" y="1999.52" width="31.16" height="42.73" fill="#8c171c"/>
<rect x="152.41" y="1999.52" width="31.16" height="42.73" fill="#cb1f29"/>
<rect x="182.97" y="1999.52" width="31.16" height="42.73" fill="#f05523"/>
<rect x="213.53" y="1999.52" width="31.16" height="42.73" fill="#cada29"/>
<rect x="244.09" y="1999.52" width="31.16" height="42.73" fill="#4275ba"/>
<rect x="274.65" y="1999.52" width="31.16" height="42.73" fill="#3a51a3"/>
<rect x="305.21" y="1999.52" width="31.16" height="42.73" fill="#2c3188"/>
<rect x="335.77" y="1999.52" width="31.16" height="42.73" fill="#2b2c7a"/>
<rect x="366.33" y="1999.52" width="31.16" height="42.73" fill="#2c2f84"/>
<rect x="396.89" y="1999.52" width="31.16" height="42.73" fill="#3a51a3"/>
<rect x="427.45" y="1999.52" width="31.16" height="42.73" fill="#6ecbce"/>
<rect x="458.00" y="1999.52" width="31.16" height="42.73" fill="#f58120"/>
<rect x="488.56" y="1999.52" width="31.16" height="42.73" fill="#7f1518"/>
<rect x="519.12" y="1999.52" width="31.16" height="42.73" fill="#fbab18"/>
<rect x="549.68" y="1999.52" width="31.16" height="42.73" fill="#44a0d8"/>
<rect x="580.24" y="1999.52" width="31.16" height="42.73" fill="#3b54a5"/>
<rect x="610.80" y="1999.52" width="31.16" height="42.73" fill="#2b2c7a"/>
<rect x="641.36" y="1999.52" width="31.16" height="42.73" fill="#2a2a75"/>
<rect x="671.92" y="1999.52" width="31.16" height="42.73" fill="#2e3a92"/>
<rect x="702.48" y="1999.52" width="31.16" height="42.73" fill="#40a9de"/>
<rect x="733.04" y="1999.52" width="31.16" height="42.73" fill="#f6891f"/>
</g>
<rect x="121.85" y="1367.6" width="641.75" height="674.05" fill="none" stroke="#000" stroke-width="2.2"/>
<line x1="121.85" y1="2041.65" x2="121.85" y2="2052.15" stroke="#000" stroke-width="2.2"/>
<line x1="322" y1="2041.65" x2="322" y2="2052.15" stroke="#000" stroke-width="2.2"/>
<line x1="522.2" y1="2041.65" x2="522.2" y2="2052.15" stroke="#000" stroke-width="2.2"/>
<line x1="722.6" y1="2041.65" x2="722.6" y2="2052.15" stroke="#000" stroke-width="2.2"/>
<line x1="113.35" y1="1396.9" x2="121.85" y2="1396.9" stroke="#000" stroke-width="2.2"/>
<line x1="113.35" y1="1720.5" x2="121.85" y2="1720.5" stroke="#000" stroke-width="2.2"/>
<line x1="113.35" y1="2041.6" x2="121.85" y2="2041.6" stroke="#000" stroke-width="2.2"/>
<rect x="789.6" y="1369.5" width="26.60" height="671.90" fill="url(#jet)" stroke="#000" stroke-width="1.8"/>
<line x1="816.2" y1="1369.5" x2="824.7" y2="1369.5" stroke="#000" stroke-width="1.8"/>
<line x1="816.2" y1="2041.4" x2="824.7" y2="2041.4" stroke="#000" stroke-width="1.8"/>
<text transform="translate(41.17 1411.80) scale(0.9465 1)" font-size="42.80" font-family="Liberation Sans, sans-serif" font-weight="bold" fill="#000" >100</text>
<text transform="translate(63.89 1738.70) scale(0.9413 1)" font-size="42.80" font-family="Liberation Sans, sans-serif" font-weight="bold" fill="#000" >50</text>
<text transform="translate(84.96 2060.00) scale(0.9592 1)" font-size="42.80" font-family="Liberation Sans, sans-serif" font-weight="bold" fill="#000" >0</text>
<text transform="translate(114.05 2095.30) scale(0.9641 1)" font-size="42.80" font-family="Liberation Sans, sans-serif" font-weight="bold" fill="#000" >0</text>
<text transform="translate(299.09 2095.30) scale(0.9436 1)" font-size="42.80" font-family="Liberation Sans, sans-serif" font-weight="bold" fill="#000" >50</text>
<text transform="translate(484.55 2095.30) scale(0.9555 1)" font-size="42.80" font-family="Liberation Sans, sans-serif" font-weight="bold" fill="#000" >100</text>
<text transform="translate(696.58 2095.30) scale(0.9406 1)" font-size="42.80" font-family="Liberation Sans, sans-serif" font-weight="bold" fill="#000" >150</text>
<text transform="translate(217.04 2150.00) scale(0.9688 1)" font-size="48.60" font-family="Liberation Sans, sans-serif" font-weight="bold" fill="#000" >Heater2 voltage² [V²]</text>
<text transform="translate(44.00 1910.03) rotate(-90) scale(1.0305 1)" font-size="46.80" font-family="Liberation Sans, sans-serif" font-weight="bold" fill="#000">Heater3 voltage² [V²]</text>
<text transform="translate(828.25 1383.00) scale(0.9625 1)" font-size="42.80" font-family="Liberation Sans, sans-serif" font-weight="bold" fill="#000" >-24.86</text>
<text transform="translate(828.25 2054.70) scale(0.9626 1)" font-size="42.80" font-family="Liberation Sans, sans-serif" font-weight="bold" fill="#000" >-53.40</text>
<text transform="translate(837.20 1571.37) rotate(90) scale(1.0113 1)" font-size="47.60" font-family="Liberation Sans, sans-serif" font-weight="bold" fill="#000">Power [dBm]</text>
<text transform="translate(1.90 1356.10) scale(0.9989 1)" font-size="42.00" font-family="Liberation Sans, sans-serif" font-weight="bold" fill="#000" >(e)</text></g>
<g id="panel-f"><g shape-rendering="crispEdges">
<rect x="1156.50" y="1367.70" width="31.43" height="42.89" fill="#2d348b"/>
<rect x="1187.33" y="1367.70" width="31.43" height="42.89" fill="#36c4ef"/>
<rect x="1218.16" y="1367.70" width="31.43" height="42.89" fill="#7fc998"/>
<rect x="1248.99" y="1367.70" width="31.43" height="42.89" fill="#a8cf46"/>
<rect x="1279.81" y="1367.70" width="31.43" height="42.89" fill="#d6df23"/>
<rect x="1310.64" y="1367.70" width="31.43" height="42.89" fill="#d0dd26"/>
<rect x="1341.47" y="1367.70" width="31.43" height="42.89" fill="#a8cf46"/>
<rect x="1372.30" y="1367.70" width="31.43" height="42.89" fill="#6ecbce"/>
<rect x="1403.13" y="1367.70" width="31.43" height="42.89" fill="#3f63af"/>
<rect x="1433.96" y="1367.70" width="31.43" height="42.89" fill="#374b9f"/>
<rect x="1464.79" y="1367.70" width="31.43" height="42.89" fill="#2b2c7a"/>
<rect x="1495.61" y="1367.70" width="31.43" height="42.89" fill="#2a2a75"/>
<rect x="1526.44" y="1367.70" width="31.43" height="42.89" fill="#2e378f"/>
<rect x="1557.27" y="1367.70" width="31.43" height="42.89" fill="#3a51a3"/>
<rect x="1588.10" y="1367.70" width="31.43" height="42.89" fill="#6ecbce"/>
<rect x="1618.93" y="1367.70" width="31.43" height="42.89" fill="#e2e119"/>
<rect x="1649.76" y="1367.70" width="31.43" height="42.89" fill="#fed408"/>
<rect x="1680.59" y="1367.70" width="31.43" height="42.89" fill="#7acaa6"/>
<rect x="1711.41" y="1367.70" width="31.43" height="42.89" fill="#3f63af"/>
<rect x="1742.24" y="1367.70" width="31.43" height="42.89" fill="#374b9f"/>
<rect x="1773.07" y="1367.70" width="31.43" height="42.89" fill="#2b2c7a"/>
<rect x="1156.50" y="1409.99" width="31.43" height="42.89" fill="#3b54a5"/>
<rect x="1187.33" y="1409.99" width="31.43" height="42.89" fill="#9acb5b"/>
<rect x="1218.16" y="1409.99" width="31.43" height="42.89" fill="#ffdf03"/>
<rect x="1248.99" y="1409.99" width="31.43" height="42.89" fill="#fec80d"/>
<rect x="1279.81" y="1409.99" width="31.43" height="42.89" fill="#fae504"/>
<rect x="1310.64" y="1409.99" width="31.43" height="42.89" fill="#a8cf46"/>
<rect x="1341.47" y="1409.99" width="31.43" height="42.89" fill="#54c8de"/>
<rect x="1372.30" y="1409.99" width="31.43" height="42.89" fill="#3e5fac"/>
<rect x="1403.13" y="1409.99" width="31.43" height="42.89" fill="#374b9f"/>
<rect x="1433.96" y="1409.99" width="31.43" height="42.89" fill="#2c2f84"/>
<rect x="1464.79" y="1409.99" width="31.43" height="42.89" fill="#2b2d7f"/>
<rect x="1495.61" y="1409.99" width="31.43" height="42.89" fill="#2e3a92"/>
<rect x="1526.44" y="1409.99" width="31.43" height="42.89" fill="#3b54a5"/>
<rect x="1557.27" y="1409.99" width="31.43" height="42.89" fill="#7fc998"/>
<rect x="1588.10" y="1409.99" width="31.43" height="42.89" fill="#ffdf03"/>
<rect x="1618.93" y="1409.99" width="31.43" height="42.89" fill="#fed408"/>
<rect x="1649.76" y="1409.99" width="31.43" height="42.89" fill="#a3ce4d"/>
<rect x="1680.59" y="1409.99" width="31.43" height="42.89" fill="#44a0d8"/>
<rect x="1711.41" y="1409.99" width="31.43" height="42.89" fill="#394ea1"/>
<rect x="1742.24" y="1409.99" width="31.43" height="42.89" fill="#2c2f84"/>
<rect x="1773.07" y="1409.99" width="31.43" height="42.89" fill="#2b2c7a"/>
<rect x="1156.50" y="1452.28" width="31.43" height="42.89" fill="#3c59a8"/>
<rect x="1187.33" y="1452.28" width="31.43" height="42.89" fill="#9ecc54"/>
<rect x="1218.16" y="1452.28" width="31.43" height="42.89" fill="#e91c25"/>
<rect x="1248.99" y="1452.28" width="31.43" height="42.89" fill="#ef4523"/>
<rect x="1279.81" y="1452.28" width="31.43" height="42.89" fill="#fae504"/>
<rect x="1310.64" y="1452.28" width="31.43" height="42.89" fill="#81c990"/>
<rect x="1341.47" y="1452.28" width="31.43" height="42.89" fill="#416cb4"/>
<rect x="1372.30" y="1452.28" width="31.43" height="42.89" fill="#35479c"/>
<rect x="1403.13" y="1452.28" width="31.43" height="42.89" fill="#2c2f84"/>
<rect x="1433.96" y="1452.28" width="31.43" height="42.89" fill="#2a2a75"/>
<rect x="1464.79" y="1452.28" width="31.43" height="42.89" fill="#2b2d7f"/>
<rect x="1495.61" y="1452.28" width="31.43" height="42.89" fill="#374b9f"/>
<rect x="1526.44" y="1452.28" width="31.43" height="42.89" fill="#4497d2"/>
<rect x="1557.27" y="1452.28" width="31.43" height="42.89" fill="#c4d82d"/>
<rect x="1588.10" y="1452.28" width="31.43" height="42.89" fill="#f26522"/>
<rect x="1618.93" y="1452.28" width="31.43" height="42.89" fill="#f6891f"/>
<rect x="1649.76" y="1452.28" width="31.43" height="42.89" fill="#81c990"/>
<rect x="1680.59" y="1452.28" width="31.43" height="42.89" fill="#3a51a3"/>
<rect x="1711.41" y="1452.28" width="31.43" height="42.89" fill="#2e378f"/>
<rect x="1742.24" y="1452.28" width="31.43" height="42.89" fill="#2a2a75"/>
<rect x="1773.07" y="1452.28" width="31.43" height="42.89" fill="#2c3188"/>
<rect x="1156.50" y="1494.56" width="31.43" height="42.89" fill="#3b54a5"/>
<rect x="1187.33" y="1494.56" width="31.43" height="42.89" fill="#91ca6d"/>
<rect x="1218.16" y="1494.56" width="31.43" height="42.89" fill="#ed2724"/>
<rect x="1248.99" y="1494.56" width="31.43" height="42.89" fill="#f04d23"/>
<rect x="1279.81" y="1494.56" width="31.43" height="42.89" fill="#fed408"/>
<rect x="1310.64" y="1494.56" width="31.43" height="42.89" fill="#84c988"/>
<rect x="1341.47" y="1494.56" width="31.43" height="42.89" fill="#416cb4"/>
<rect x="1372.30" y="1494.56" width="31.43" height="42.89" fill="#35479c"/>
<rect x="1403.13" y="1494.56" width="31.43" height="42.89" fill="#2d348b"/>
<rect x="1433.96" y="1494.56" width="31.43" height="42.89" fill="#2a2a75"/>
<rect x="1464.79" y="1494.56" width="31.43" height="42.89" fill="#2b2c7a"/>
<rect x="1495.61" y="1494.56" width="31.43" height="42.89" fill="#33449a"/>
<rect x="1526.44" y="1494.56" width="31.43" height="42.89" fill="#4275ba"/>
<rect x="1557.27" y="1494.56" width="31.43" height="42.89" fill="#bed630"/>
<rect x="1588.10" y="1494.56" width="31.43" height="42.89" fill="#f05523"/>
<rect x="1618.93" y="1494.56" width="31.43" height="42.89" fill="#f37321"/>
<rect x="1649.76" y="1494.56" width="31.43" height="42.89" fill="#a3ce4d"/>
<rect x="1680.59" y="1494.56" width="31.43" height="42.89" fill="#3e5fac"/>
<rect x="1711.41" y="1494.56" width="31.43" height="42.89" fill="#2e378f"/>
<rect x="1742.24" y="1494.56" width="31.43" height="42.89" fill="#2a2a75"/>
<rect x="1773.07" y="1494.56" width="31.43" height="42.89" fill="#2b2d7f"/>
<rect x="1156.50" y="1536.85" width="31.43" height="42.89" fill="#374b9f"/>
<rect x="1187.33" y="1536.85" width="31.43" height="42.89" fill="#7acaa6"/>
<rect x="1218.16" y="1536.85" width="31.43" height="42.89" fill="#f6891f"/>
<rect x="1248.99" y="1536.85" width="31.43" height="42.89" fill="#f6891f"/>
<rect x="1279.81" y="1536.85" width="31.43" height="42.89" fill="#fbab18"/>
<rect x="1310.64" y="1536.85" width="31.43" height="42.89" fill="#bed630"/>
<rect x="1341.47" y="1536.85" width="31.43" height="42.89" fill="#74cabb"/>
<rect x="1372.30" y="1536.85" width="31.43" height="42.89" fill="#3e5fac"/>
<rect x="1403.13" y="1536.85" width="31.43" height="42.89" fill="#3a51a3"/>
<rect x="1433.96" y="1536.85" width="31.43" height="42.89" fill="#2c3188"/>
<rect x="1464.79" y="1536.85" width="31.43" height="42.89" fill="#2a2a75"/>
<rect x="1495.61" y="1536.85" width="31.43" height="42.89" fill="#2c2f84"/>
<rect x="1526.44" y="1536.85" width="31.43" height="42.89" fill="#394ea1"/>
<rect x="1557.27" y="1536.85" width="31.43" height="42.89" fill="#36c4ef"/>
<rect x="1588.10" y="1536.85" width="31.43" height="42.89" fill="#d0dd26"/>
<rect x="1618.93" y="1536.85" width="31.43" height="42.89" fill="#f7921e"/>
<rect x="1649.76" y="1536.85" width="31.43" height="42.89" fill="#eee30f"/>
<rect x="1680.59" y="1536.85" width="31.43" height="42.89" fill="#76cab5"/>
<rect x="1711.41" y="1536.85" width="31.43" height="42.89" fill="#3a51a3"/>
<rect x="1742.24" y="1536.85" width="31.43" height="42.89" fill="#2c3188"/>
<rect x="1773.07" y="1536.85" width="31.43" height="42.89" fill="#2b2c7a"/>
<rect x="1156.50" y="1579.14" width="31.43" height="42.89" fill="#394ea1"/>
<rect x="1187.33" y="1579.14" width="31.43" height="42.89" fill="#7fc998"/>
<rect x="1218.16" y="1579.14" width="31.43" height="42.89" fill="#b7d433"/>
<rect x="1248.99" y="1579.14" width="31.43" height="42.89" fill="#eee30f"/>
<rect x="1279.81" y="1579.14" width="31.43" height="42.89" fill="#fbab18"/>
<rect x="1310.64" y="1579.14" width="31.43" height="42.89" fill="#fec80d"/>
<rect x="1341.47" y="1579.14" width="31.43" height="42.89" fill="#c4d82d"/>
<rect x="1372.30" y="1579.14" width="31.43" height="42.89" fill="#63cad6"/>
<rect x="1403.13" y="1579.14" width="31.43" height="42.89" fill="#3f63af"/>
<rect x="1433.96" y="1579.14" width="31.43" height="42.89" fill="#374b9f"/>
<rect x="1464.79" y="1579.14" width="31.43" height="42.89" fill="#2b2d7f"/>
<rect x="1495.61" y="1579.14" width="31.43" height="42.89" fill="#2a2a75"/>
<rect x="1526.44" y="1579.14" width="31.43" height="42.89" fill="#2d348b"/>
<rect x="1557.27" y="1579.14" width="31.43" height="42.89" fill="#3a51a3"/>
<rect x="1588.10" y="1579.14" width="31.43" height="42.89" fill="#70cbc8"/>
<rect x="1618.93" y="1579.14" width="31.43" height="42.89" fill="#e2e119"/>
<rect x="1649.76" y="1579.14" width="31.43" height="42.89" fill="#faa21a"/>
<rect x="1680.59" y="1579.14" width="31.43" height="42.89" fill="#7cc99f"/>
<rect x="1711.41" y="1579.14" width="31.43" height="42.89" fill="#3f63af"/>
<rect x="1742.24" y="1579.14" width="31.43" height="42.89" fill="#33449a"/>
<rect x="1773.07" y="1579.14" width="31.43" height="42.89" fill="#2b2c7a"/>
<rect x="1156.50" y="1621.42" width="31.43" height="42.89" fill="#2b2d7f"/>
<rect x="1187.33" y="1621.42" width="31.43" height="42.89" fill="#36c4ef"/>
<rect x="1218.16" y="1621.42" width="31.43" height="42.89" fill="#a3ce4d"/>
<rect x="1248.99" y="1621.42" width="31.43" height="42.89" fill="#d6df23"/>
<rect x="1279.81" y="1621.42" width="31.43" height="42.89" fill="#fbab18"/>
<rect x="1310.64" y="1621.42" width="31.43" height="42.89" fill="#fbab18"/>
<rect x="1341.47" y="1621.42" width="31.43" height="42.89" fill="#e2e119"/>
<rect x="1372.30" y="1621.42" width="31.43" height="42.89" fill="#84c988"/>
<rect x="1403.13" y="1621.42" width="31.43" height="42.89" fill="#4271b7"/>
<rect x="1433.96" y="1621.42" width="31.43" height="42.89" fill="#374b9f"/>
<rect x="1464.79" y="1621.42" width="31.43" height="42.89" fill="#2b2d7f"/>
<rect x="1495.61" y="1621.42" width="31.43" height="42.89" fill="#2a2a75"/>
<rect x="1526.44" y="1621.42" width="31.43" height="42.89" fill="#2b2d7f"/>
<rect x="1557.27" y="1621.42" width="31.43" height="42.89" fill="#3a51a3"/>
<rect x="1588.10" y="1621.42" width="31.43" height="42.89" fill="#95cb64"/>
<rect x="1618.93" y="1621.42" width="31.43" height="42.89" fill="#e2e119"/>
<rect x="1649.76" y="1621.42" width="31.43" height="42.89" fill="#f7921e"/>
<rect x="1680.59" y="1621.42" width="31.43" height="42.89" fill="#a3ce4d"/>
<rect x="1711.41" y="1621.42" width="31.43" height="42.89" fill="#448ecb"/>
<rect x="1742.24" y="1621.42" width="31.43" height="42.89" fill="#3a51a3"/>
<rect x="1773.07" y="1621.42" width="31.43" height="42.89" fill="#2b2c7a"/>
<rect x="1156.50" y="1663.71" width="31.43" height="42.89" fill="#314198"/>
<rect x="1187.33" y="1663.71" width="31.43" height="42.89" fill="#6ecbce"/>
<rect x="1218.16" y="1663.71" width="31.43" height="42.89" fill="#d6df23"/>
<rect x="1248.99" y="1663.71" width="31.43" height="42.89" fill="#fed408"/>
<rect x="1279.81" y="1663.71" width="31.43" height="42.89" fill="#fdbc12"/>
<rect x="1310.64" y="1663.71" width="31.43" height="42.89" fill="#e2e119"/>
<rect x="1341.47" y="1663.71" width="31.43" height="42.89" fill="#9acb5b"/>
<rect x="1372.30" y="1663.71" width="31.43" height="42.89" fill="#45c6e7"/>
<rect x="1403.13" y="1663.71" width="31.43" height="42.89" fill="#3a51a3"/>
<rect x="1433.96" y="1663.71" width="31.43" height="42.89" fill="#2d348b"/>
<rect x="1464.79" y="1663.71" width="31.43" height="42.89" fill="#2b2c7a"/>
<rect x="1495.61" y="1663.71" width="31.43" height="42.89" fill="#2b2d7f"/>
<rect x="1526.44" y="1663.71" width="31.43" height="42.89" fill="#33449a"/>
<rect x="1557.27" y="1663.71" width="31.43" height="42.89" fill="#3e5fac"/>
<rect x="1588.10" y="1663.71" width="31.43" height="42.89" fill="#95cb64"/>
<rect x="1618.93" y="1663.71" width="31.43" height="42.89" fill="#fed408"/>
<rect x="1649.76" y="1663.71" width="31.43" height="42.89" fill="#fec80d"/>
<rect x="1680.59" y="1663.71" width="31.43" height="42.89" fill="#88ca7f"/>
<rect x="1711.41" y="1663.71" width="31.43" height="42.89" fill="#4068b2"/>
<rect x="1742.24" y="1663.71" width="31.43" height="42.89" fill="#314198"/>
<rect x="1773.07" y="1663.71" width="31.43" height="42.89" fill="#2b2c7a"/>
<rect x="1156.50" y="1706.00" width="31.43" height="42.89" fill="#3a51a3"/>
<rect x="1187.33" y="1706.00" width="31.43" height="42.89" fill="#88ca7f"/>
<rect x="1218.16" y="1706.00" width="31.43" height="42.89" fill="#f37321"/>
<rect x="1248.99" y="1706.00" width="31.43" height="42.89" fill="#f47a20"/>
<rect x="1279.81" y="1706.00" width="31.43" height="42.89" fill="#fcb315"/>
<rect x="1310.64" y="1706.00" width="31.43" height="42.89" fill="#a8cf46"/>
<rect x="1341.47" y="1706.00" width="31.43" height="42.89" fill="#45c6e7"/>
<rect x="1372.30" y="1706.00" width="31.43" height="42.89" fill="#3e5fac"/>
<rect x="1403.13" y="1706.00" width="31.43" height="42.89" fill="#35479c"/>
<rect x="1433.96" y="1706.00" width="31.43" height="42.89" fill="#2c2f84"/>
<rect x="1464.79" y="1706.00" width="31.43" height="42.89" fill="#2b2d7f"/>
<rect x="1495.61" y="1706.00" width="31.43" height="42.89" fill="#374b9f"/>
<rect x="1526.44" y="1706.00" width="31.43" height="42.89" fill="#3c57a6"/>
<rect x="1557.27" y="1706.00" width="31.43" height="42.89" fill="#9ecc54"/>
<rect x="1588.10" y="1706.00" width="31.43" height="42.89" fill="#fec80d"/>
<rect x="1618.93" y="1706.00" width="31.43" height="42.89" fill="#faa21a"/>
<rect x="1649.76" y="1706.00" width="31.43" height="42.89" fill="#bed630"/>
<rect x="1680.59" y="1706.00" width="31.43" height="42.89" fill="#44a0d8"/>
<rect x="1711.41" y="1706.00" width="31.43" height="42.89" fill="#33449a"/>
<rect x="1742.24" y="1706.00" width="31.43" height="42.89" fill="#2c2f84"/>
<rect x="1773.07" y="1706.00" width="31.43" height="42.89" fill="#2c2f84"/>
<rect x="1156.50" y="1748.29" width="31.43" height="42.89" fill="#3c59a8"/>
<rect x="1187.33" y="1748.29" width="31.43" height="42.89" fill="#eee30f"/>
<rect x="1218.16" y="1748.29" width="31.43" height="42.89" fill="#7f1518"/>
<rect x="1248.99" y="1748.29" width="31.43" height="42.89" fill="#cb1f29"/>
<rect x="1279.81" y="1748.29" width="31.43" height="42.89" fill="#f26c21"/>
<rect x="1310.64" y="1748.29" width="31.43" height="42.89" fill="#91ca6d"/>
<rect x="1341.47" y="1748.29" width="31.43" height="42.89" fill="#36c4ef"/>
<rect x="1372.30" y="1748.29" width="31.43" height="42.89" fill="#3b54a5"/>
<rect x="1403.13" y="1748.29" width="31.43" height="42.89" fill="#2d348b"/>
<rect x="1433.96" y="1748.29" width="31.43" height="42.89" fill="#2b2c7a"/>
<rect x="1464.79" y="1748.29" width="31.43" height="42.89" fill="#2b2c7a"/>
<rect x="1495.61" y="1748.29" width="31.43" height="42.89" fill="#374b9f"/>
<rect x="1526.44" y="1748.29" width="31.43" height="42.89" fill="#45c6e7"/>
<rect x="1557.27" y="1748.29" width="31.43" height="42.89" fill="#d0dd26"/>
<rect x="1588.10" y="1748.29" width="31.43" height="42.89" fill="#ed2724"/>
<rect x="1618.93" y="1748.29" width="31.43" height="42.89" fill="#faa21a"/>
<rect x="1649.76" y="1748.29" width="31.43" height="42.89" fill="#a8cf46"/>
<rect x="1680.59" y="1748.29" width="31.43" height="42.89" fill="#3a51a3"/>
<rect x="1711.41" y="1748.29" width="31.43" height="42.89" fill="#2d348b"/>
<rect x="1742.24" y="1748.29" width="31.43" height="42.89" fill="#2a2a75"/>
<rect x="1773.07" y="1748.29" width="31.43" height="42.89" fill="#2c2f84"/>
<rect x="1156.50" y="1790.58" width="31.43" height="42.89" fill="#416cb4"/>
<rect x="1187.33" y="1790.58" width="31.43" height="42.89" fill="#fae504"/>
<rect x="1218.16" y="1790.58" width="31.43" height="42.89" fill="#7f1518"/>
<rect x="1248.99" y="1790.58" width="31.43" height="42.89" fill="#cb1f29"/>
<rect x="1279.81" y="1790.58" width="31.43" height="42.89" fill="#fcb315"/>
<rect x="1310.64" y="1790.58" width="31.43" height="42.89" fill="#9acb5b"/>
<rect x="1341.47" y="1790.58" width="31.43" height="42.89" fill="#4497d2"/>
<rect x="1372.30" y="1790.58" width="31.43" height="42.89" fill="#3a51a3"/>
<rect x="1403.13" y="1790.58" width="31.43" height="42.89" fill="#2e378f"/>
<rect x="1433.96" y="1790.58" width="31.43" height="42.89" fill="#2b2c7a"/>
<rect x="1464.79" y="1790.58" width="31.43" height="42.89" fill="#2b2c7a"/>
<rect x="1495.61" y="1790.58" width="31.43" height="42.89" fill="#33449a"/>
<rect x="1526.44" y="1790.58" width="31.43" height="42.89" fill="#72cac1"/>
<rect x="1557.27" y="1790.58" width="31.43" height="42.89" fill="#c4d82d"/>
<rect x="1588.10" y="1790.58" width="31.43" height="42.89" fill="#ed2724"/>
<rect x="1618.93" y="1790.58" width="31.43" height="42.89" fill="#e91c25"/>
<rect x="1649.76" y="1790.58" width="31.43" height="42.89" fill="#d0dd26"/>
<rect x="1680.59" y="1790.58" width="31.43" height="42.89" fill="#4275ba"/>
<rect x="1711.41" y="1790.58" width="31.43" height="42.89" fill="#2e378f"/>
<rect x="1742.24" y="1790.58" width="31.43" height="42.89" fill="#2a2a75"/>
<rect x="1773.07" y="1790.58" width="31.43" height="42.89" fill="#2b2d7f"/>
<rect x="1156.50" y="1832.86" width="31.43" height="42.89" fill="#394ea1"/>
<rect x="1187.33" y="1832.86" width="31.43" height="42.89" fill="#c4d82d"/>
<rect x="1218.16" y="1832.86" width="31.43" height="42.89" fill="#ee3524"/>
<rect x="1248.99" y="1832.86" width="31.43" height="42.89" fill="#f05523"/>
<rect x="1279.81" y="1832.86" width="31.43" height="42.89" fill="#fcb315"/>
<rect x="1310.64" y="1832.86" width="31.43" height="42.89" fill="#c4d82d"/>
<rect x="1341.47" y="1832.86" width="31.43" height="42.89" fill="#36c4ef"/>
<rect x="1372.30" y="1832.86" width="31.43" height="42.89" fill="#3e5fac"/>
<rect x="1403.13" y="1832.86" width="31.43" height="42.89" fill="#374b9f"/>
<rect x="1433.96" y="1832.86" width="31.43" height="42.89" fill="#2b2d7f"/>
<rect x="1464.79" y="1832.86" width="31.43" height="42.89" fill="#2b2c7a"/>
<rect x="1495.61" y="1832.86" width="31.43" height="42.89" fill="#2d348b"/>
<rect x="1526.44" y="1832.86" width="31.43" height="42.89" fill="#3b54a5"/>
<rect x="1557.27" y="1832.86" width="31.43" height="42.89" fill="#7fc998"/>
<rect x="1588.10" y="1832.86" width="31.43" height="42.89" fill="#faa21a"/>
<rect x="1618.93" y="1832.86" width="31.43" height="42.89" fill="#f05523"/>
<rect x="1649.76" y="1832.86" width="31.43" height="42.89" fill="#c4d82d"/>
<rect x="1680.59" y="1832.86" width="31.43" height="42.89" fill="#448ecb"/>
<rect x="1711.41" y="1832.86" width="31.43" height="42.89" fill="#374b9f"/>
<rect x="1742.24" y="1832.86" width="31.43" height="42.89" fill="#2b2c7a"/>
<rect x="1773.07" y="1832.86" width="31.43" height="42.89" fill="#2b2c7a"/>
<rect x="1156.50" y="1875.15" width="31.43" height="42.89" fill="#33449a"/>
<rect x="1187.33" y="1875.15" width="31.43" height="42.89" fill="#78caad"/>
<rect x="1218.16" y="1875.15" width="31.43" height="42.89" fill="#fec80d"/>
<rect x="1248.99" y="1875.15" width="31.43" height="42.89" fill="#fbab18"/>
<rect x="1279.81" y="1875.15" width="31.43" height="42.89" fill="#fed408"/>
<rect x="1310.64" y="1875.15" width="31.43" height="42.89" fill="#d6df23"/>
<rect x="1341.47" y="1875.15" width="31.43" height="42.89" fill="#8cca76"/>
<rect x="1372.30" y="1875.15" width="31.43" height="42.89" fill="#4497d2"/>
<rect x="1403.13" y="1875.15" width="31.43" height="42.89" fill="#3b54a5"/>
<rect x="1433.96" y="1875.15" width="31.43" height="42.89" fill="#2f3e96"/>
<rect x="1464.79" y="1875.15" width="31.43" height="42.89" fill="#2b2c7a"/>
<rect x="1495.61" y="1875.15" width="31.43" height="42.89" fill="#2a2a75"/>
<rect x="1526.44" y="1875.15" width="31.43" height="42.89" fill="#33449a"/>
<rect x="1557.27" y="1875.15" width="31.43" height="42.89" fill="#416cb4"/>
<rect x="1588.10" y="1875.15" width="31.43" height="42.89" fill="#95cb64"/>
<rect x="1618.93" y="1875.15" width="31.43" height="42.89" fill="#faa21a"/>
<rect x="1649.76" y="1875.15" width="31.43" height="42.89" fill="#fdbc12"/>
<rect x="1680.59" y="1875.15" width="31.43" height="42.89" fill="#95cb64"/>
<rect x="1711.41" y="1875.15" width="31.43" height="42.89" fill="#416cb4"/>
<rect x="1742.24" y="1875.15" width="31.43" height="42.89" fill="#33449a"/>
<rect x="1773.07" y="1875.15" width="31.43" height="42.89" fill="#2b2c7a"/>
<rect x="1156.50" y="1917.44" width="31.43" height="42.89" fill="#2d348b"/>
<rect x="1187.33" y="1917.44" width="31.43" height="42.89" fill="#54c8de"/>
<rect x="1218.16" y="1917.44" width="31.43" height="42.89" fill="#c4d82d"/>
<rect x="1248.99" y="1917.44" width="31.43" height="42.89" fill="#e2e119"/>
<rect x="1279.81" y="1917.44" width="31.43" height="42.89" fill="#fdbc12"/>
<rect x="1310.64" y="1917.44" width="31.43" height="42.89" fill="#fdbc12"/>
<rect x="1341.47" y="1917.44" width="31.43" height="42.89" fill="#bed630"/>
<rect x="1372.30" y="1917.44" width="31.43" height="42.89" fill="#74cabb"/>
<rect x="1403.13" y="1917.44" width="31.43" height="42.89" fill="#4275ba"/>
<rect x="1433.96" y="1917.44" width="31.43" height="42.89" fill="#374b9f"/>
<rect x="1464.79" y="1917.44" width="31.43" height="42.89" fill="#2c2f84"/>
<rect x="1495.61" y="1917.44" width="31.43" height="42.89" fill="#2a2a75"/>
<rect x="1526.44" y="1917.44" width="31.43" height="42.89" fill="#2e378f"/>
<rect x="1557.27" y="1917.44" width="31.43" height="42.89" fill="#3b54a5"/>
<rect x="1588.10" y="1917.44" width="31.43" height="42.89" fill="#36c4ef"/>
<rect x="1618.93" y="1917.44" width="31.43" height="42.89" fill="#e2e119"/>
<rect x="1649.76" y="1917.44" width="31.43" height="42.89" fill="#fcb315"/>
<rect x="1680.59" y="1917.44" width="31.43" height="42.89" fill="#d0dd26"/>
<rect x="1711.41" y="1917.44" width="31.43" height="42.89" fill="#36c4ef"/>
<rect x="1742.24" y="1917.44" width="31.43" height="42.89" fill="#394ea1"/>
<rect x="1773.07" y="1917.44" width="31.43" height="42.89" fill="#2b2c7a"/>
<rect x="1156.50" y="1959.72" width="31.43" height="42.89" fill="#2c2f84"/>
<rect x="1187.33" y="1959.72" width="31.43" height="42.89" fill="#38bcea"/>
<rect x="1218.16" y="1959.72" width="31.43" height="42.89" fill="#91ca6d"/>
<rect x="1248.99" y="1959.72" width="31.43" height="42.89" fill="#d0dd26"/>
<rect x="1279.81" y="1959.72" width="31.43" height="42.89" fill="#fcb315"/>
<rect x="1310.64" y="1959.72" width="31.43" height="42.89" fill="#faa21a"/>
<rect x="1341.47" y="1959.72" width="31.43" height="42.89" fill="#fec80d"/>
<rect x="1372.30" y="1959.72" width="31.43" height="42.89" fill="#a8cf46"/>
<rect x="1403.13" y="1959.72" width="31.43" height="42.89" fill="#3cb2e4"/>
<rect x="1433.96" y="1959.72" width="31.43" height="42.89" fill="#3b54a5"/>
<rect x="1464.79" y="1959.72" width="31.43" height="42.89" fill="#2c3188"/>
<rect x="1495.61" y="1959.72" width="31.43" height="42.89" fill="#2a2a75"/>
<rect x="1526.44" y="1959.72" width="31.43" height="42.89" fill="#2a2a75"/>
<rect x="1557.27" y="1959.72" width="31.43" height="42.89" fill="#33449a"/>
<rect x="1588.10" y="1959.72" width="31.43" height="42.89" fill="#4275ba"/>
<rect x="1618.93" y="1959.72" width="31.43" height="42.89" fill="#c4d82d"/>
<rect x="1649.76" y="1959.72" width="31.43" height="42.89" fill="#faa21a"/>
<rect x="1680.59" y="1959.72" width="31.43" height="42.89" fill="#fec80d"/>
<rect x="1711.41" y="1959.72" width="31.43" height="42.89" fill="#84c988"/>
<rect x="1742.24" y="1959.72" width="31.43" height="42.89" fill="#3c59a8"/>
<rect x="1773.07" y="1959.72" width="31.43" height="42.89" fill="#2c3188"/>
<rect x="1156.50" y="2002.01" width="31.43" height="42.89" fill="#2a2a75"/>
<rect x="1187.33" y="2002.01" width="31.43" height="42.89" fill="#2a2a75"/>
<rect x="1218.16" y="2002.01" width="31.43" height="42.89" fill="#2c2f84"/>
<rect x="1248.99" y="2002.01" width="31.43" height="42.89" fill="#35479c"/>
<rect x="1279.81" y="2002.01" width="31.43" height="42.89" fill="#448ecb"/>
<rect x="1310.64" y="2002.01" width="31.43" height="42.89" fill="#7cc99f"/>
<rect x="1341.47" y="2002.01" width="31.43" height="42.89" fill="#eee30f"/>
<rect x="1372.30" y="2002.01" width="31.43" height="42.89" fill="#fbab18"/>
<rect x="1403.13" y="2002.01" width="31.43" height="42.89" fill="#b7d433"/>
<rect x="1433.96" y="2002.01" width="31.43" height="42.89" fill="#54c8de"/>
<rect x="1464.79" y="2002.01" width="31.43" height="42.89" fill="#3a51a3"/>
<rect x="1495.61" y="2002.01" width="31.43" height="42.89" fill="#2c3188"/>
<rect x="1526.44" y="2002.01" width="31.43" height="42.89" fill="#2a2a75"/>
<rect x="1557.27" y="2002.01" width="31.43" height="42.89" fill="#2c2f84"/>
<rect x="1588.10" y="2002.01" width="31.43" height="42.89" fill="#394ea1"/>
<rect x="1618.93" y="2002.01" width="31.43" height="42.89" fill="#7fc998"/>
<rect x="1649.76" y="2002.01" width="31.43" height="42.89" fill="#faa21a"/>
<rect x="1680.59" y="2002.01" width="31.43" height="42.89" fill="#f7921e"/>
<rect x="1711.41" y="2002.01" width="31.43" height="42.89" fill="#c4d82d"/>
<rect x="1742.24" y="2002.01" width="31.43" height="42.89" fill="#448ecb"/>
<rect x="1773.07" y="2002.01" width="31.43" height="42.89" fill="#35479c"/>
</g>
<rect x="1156.5" y="1367.7" width="647.40" height="676.60" fill="none" stroke="#000" stroke-width="2.2"/>
<line x1="1156.5" y1="2044.3" x2="1156.5" y2="2054.8" stroke="#000" stroke-width="2.2"/>
<line x1="1358.8" y1="2044.3" x2="1358.8" y2="2054.8" stroke="#000" stroke-width="2.2"/>
<line x1="1560.5" y1="2044.3" x2="1560.5" y2="2054.8" stroke="#000" stroke-width="2.2"/>
<line x1="1762.9" y1="2044.3" x2="1762.9" y2="2054.8" stroke="#000" stroke-width="2.2"/>
<line x1="1148.0" y1="1399.6" x2="1156.5" y2="1399.6" stroke="#000" stroke-width="2.2"/>
<line x1="1148.0" y1="1720.1" x2="1156.5" y2="1720.1" stroke="#000" stroke-width="2.2"/>
<line x1="1148.0" y1="2044.3" x2="1156.5" y2="2044.3" stroke="#000" stroke-width="2.2"/>
<rect x="1830" y="1368.1" width="26.90" height="676.50" fill="url(#jet)" stroke="#000" stroke-width="1.8"/>
<line x1="1856.9" y1="1368.1" x2="1865.4" y2="1368.1" stroke="#000" stroke-width="1.8"/>
<line x1="1856.9" y1="2044.6" x2="1865.4" y2="2044.6" stroke="#000" stroke-width="1.8"/>
<text transform="translate(1077.36 1414.20) scale(0.9495 1)" font-size="42.80" font-family="Liberation Sans, sans-serif" font-weight="bold" fill="#000" >100</text>
<text transform="translate(1100.79 1738.50) scale(0.9413 1)" font-size="42.80" font-family="Liberation Sans, sans-serif" font-weight="bold" fill="#000" >50</text>
<text transform="translate(1118.95 2061.70) scale(0.9641 1)" font-size="42.80" font-family="Liberation Sans, sans-serif" font-weight="bold" fill="#000" >0</text>
<text transform="translate(1149.86 2095.80) scale(0.9592 1)" font-size="42.80" font-family="Liberation Sans, sans-serif" font-weight="bold" fill="#000" >0</text>
<text transform="translate(1334.29 2095.80) scale(0.9413 1)" font-size="42.80" font-family="Liberation Sans, sans-serif" font-weight="bold" fill="#000" >50</text>
<text transform="translate(1521.17 2095.80) scale(0.9465 1)" font-size="42.80" font-family="Liberation Sans, sans-serif" font-weight="bold" fill="#000" >100</text>
<text transform="translate(1730.55 2095.80) scale(0.9555 1)" font-size="42.80" font-family="Liberation Sans, sans-serif" font-weight="bold" fill="#000" >150</text>
<text transform="translate(1255.34 2154.00) scale(0.9697 1)" font-size="48.60" font-family="Liberation Sans, sans-serif" font-weight="bold" fill="#000" >Heater2 voltage² [V²]</text>
<text transform="translate(1081.00 1912.34) rotate(-90) scale(1.0310 1)" font-size="46.80" font-family="Liberation Sans, sans-serif" font-weight="bold" fill="#000">Heater3 voltage² [V²]</text>
<text transform="translate(1870.07 1380.10) scale(0.9549 1)" font-size="42.80" font-family="Liberation Sans, sans-serif" font-weight="bold" fill="#000" >-23.23</text>
<text transform="translate(1868.37 2056.20) scale(0.9549 1)" font-size="42.80" font-family="Liberation Sans, sans-serif" font-weight="bold" fill="#000" >-50.38</text>
<text transform="translate(1878.10 1573.17) rotate(90) scale(1.0113 1)" font-size="47.60" font-family="Liberation Sans, sans-serif" font-weight="bold" fill="#000">Power [dBm]</text>
<text transform="translate(1039.94 1356.10) scale(1.0265 1)" font-size="42.00" font-family="Liberation Sans, sans-serif" font-weight="bold" fill="#000" >(f)</text></g>
</svg></body></html>
